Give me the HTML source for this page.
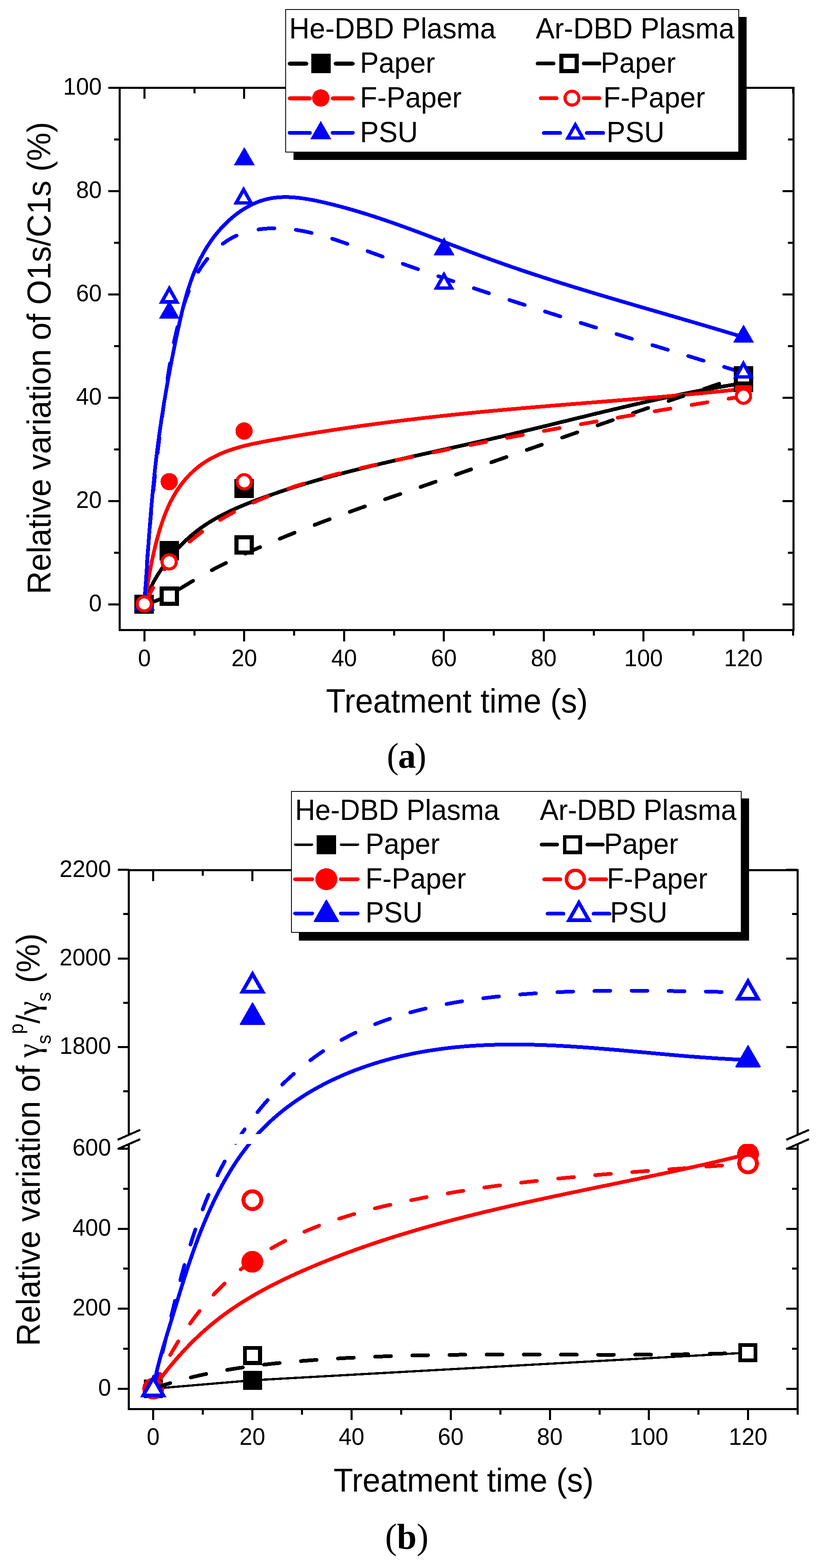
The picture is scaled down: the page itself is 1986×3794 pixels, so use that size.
<!DOCTYPE html>
<html><head><meta charset="utf-8"><title>Relative variation plots</title>
<style>html,body{margin:0;padding:0;background:#fff;}svg{display:block;}</style>
</head><body>
<svg width="1986" height="3794" viewBox="0 0 1986 3794" shape-rendering="crispEdges">
<rect width="1986" height="3794" fill="#fff"/>
<path d="M349.3,1462 C349.6,1461 350.4,1458.2 351,1456.3 C351.6,1454.4 352.2,1452.5 352.8,1450.6 C353.5,1448.7 354.1,1446.8 354.8,1445 C355.5,1443.1 356.2,1441.2 356.9,1439.4 C357.6,1437.5 358.4,1435.7 359.2,1433.8 C359.9,1432 360.7,1430.2 361.5,1428.4 C362.3,1426.5 363.2,1424.7 364,1422.9 C364.9,1421.1 365.8,1419.3 366.6,1417.6 C367.5,1415.8 368.4,1414 369.4,1412.2 C370.3,1410.4 371.2,1408.7 372.2,1406.9 C373.2,1405.2 374.2,1403.4 375.2,1401.7 C376.1,1400 377.2,1398.2 378.2,1396.5 C379.2,1394.8 380.3,1393.1 381.3,1391.3 C382.4,1389.6 383.5,1387.9 384.5,1386.2 C385.6,1384.5 386.7,1382.9 387.9,1381.2 C389,1379.5 390.1,1377.8 391.2,1376.2 C392.4,1374.5 393.5,1372.8 394.7,1371.2 C395.9,1369.5 397,1367.9 398.2,1366.2 C399.4,1364.6 400.6,1363 401.8,1361.3 C403,1359.7 404.3,1358.1 405.5,1356.5 C406.7,1354.9 408,1353.3 409.2,1351.7 C410.5,1350.1 411.8,1348.5 413,1347 C414.3,1345.4 415.6,1343.8 416.9,1342.3 C418.2,1340.7 419.5,1339.2 420.8,1337.6 C422.2,1336.1 423.5,1334.6 424.8,1333.1 C426.2,1331.6 427.5,1330 428.9,1328.6 C430.3,1327.1 431.7,1325.6 433,1324.1 C434.4,1322.6 435.8,1321.2 437.2,1319.7 C438.6,1318.3 440.1,1316.8 441.5,1315.4 C442.9,1314 444.4,1312.6 445.8,1311.2 C447.3,1309.8 448.7,1308.4 450.2,1307 C451.7,1305.6 453.2,1304.2 454.6,1302.9 C456.1,1301.5 457.6,1300.2 459.2,1298.9 C460.7,1297.5 462.2,1296.2 463.7,1294.9 C465.2,1293.6 466.8,1292.3 468.3,1291.1 C469.9,1289.8 471.4,1288.5 473,1287.3 C474.6,1286 476.2,1284.8 477.8,1283.6 C479.3,1282.4 480.9,1281.2 482.6,1280 C484.2,1278.8 485.8,1277.7 487.4,1276.5 C489,1275.3 490.7,1274.2 492.3,1273.1 C494,1271.9 495.6,1270.8 497.3,1269.7 C498.9,1268.6 500.6,1267.5 502.3,1266.5 C504,1265.4 505.6,1264.3 507.3,1263.3 C509,1262.2 510.7,1261.2 512.4,1260.2 C514.1,1259.1 515.9,1258.1 517.6,1257.1 C519.3,1256.1 521,1255.1 522.8,1254.1 C524.5,1253.2 526.2,1252.2 528,1251.2 C529.7,1250.3 531.5,1249.3 533.3,1248.4 C535,1247.5 536.8,1246.5 538.6,1245.6 C540.3,1244.7 542.1,1243.8 543.9,1242.9 C545.7,1242 547.5,1241.1 549.3,1240.2 C551.1,1239.4 552.9,1238.5 554.7,1237.6 C556.5,1236.8 558.3,1235.9 560.1,1235.1 C561.9,1234.2 563.8,1233.4 565.6,1232.6 C567.4,1231.8 569.2,1230.9 571.1,1230.1 C572.9,1229.3 574.7,1228.5 576.6,1227.7 C578.4,1226.9 580.3,1226.1 582.1,1225.4 C584,1224.6 585.8,1223.8 587.7,1223 C589.5,1222.3 591.4,1221.5 593.3,1220.7 C595.1,1220 597,1219.2 598.8,1218.5 C600.7,1217.8 602.6,1217 604.5,1216.3 C606.3,1215.5 608.2,1214.8 610.1,1214.1 C612,1213.4 613.8,1212.6 615.7,1211.9 C617.6,1211.2 619.5,1210.5 621.4,1209.8 C623.2,1209.1 625.1,1208.4 627,1207.7 C628.9,1207 630.8,1206.3 632.7,1205.6 C634.6,1204.9 636.4,1204.2 638.3,1203.5 C640.2,1202.9 642.1,1202.2 644,1201.5 C645.9,1200.8 647.8,1200.1 649.7,1199.5 C651.6,1198.8 653.5,1198.1 655.4,1197.5 C657.3,1196.8 659.2,1196.1 661.1,1195.5 C663,1194.8 664.9,1194.2 666.8,1193.5 C668.7,1192.9 670.6,1192.2 672.5,1191.6 C674.4,1190.9 676.3,1190.3 678.2,1189.6 C680.1,1189 682,1188.3 683.9,1187.7 C685.8,1187.1 687.7,1186.5 689.6,1185.8 C691.5,1185.2 693.4,1184.6 695.3,1183.9 C697.2,1183.3 699.1,1182.7 701.1,1182.1 C703,1181.5 704.9,1180.9 706.8,1180.3 C708.7,1179.6 710.6,1179 712.5,1178.4 C714.5,1177.8 716.4,1177.2 718.3,1176.6 C720.2,1176 722.1,1175.4 724,1174.8 C726,1174.2 727.9,1173.7 729.8,1173.1 C731.7,1172.5 733.6,1171.9 735.6,1171.3 C737.5,1170.7 739.4,1170.1 741.3,1169.6 C743.2,1169 745.2,1168.4 747.1,1167.8 C749,1167.3 750.9,1166.7 752.9,1166.1 C754.8,1165.6 756.7,1165 758.6,1164.4 C760.6,1163.9 762.5,1163.3 764.4,1162.8 C766.4,1162.2 768.3,1161.7 770.2,1161.1 C772.1,1160.5 774.1,1160 776,1159.4 C777.9,1158.9 779.9,1158.4 781.8,1157.8 C783.7,1157.3 785.7,1156.7 787.6,1156.2 C789.5,1155.6 791.5,1155.1 793.4,1154.6 C795.4,1154 797.3,1153.5 799.2,1153 C801.2,1152.4 803.1,1151.9 805,1151.4 C807,1150.9 808.9,1150.3 810.9,1149.8 C812.8,1149.3 814.7,1148.8 816.7,1148.3 C818.6,1147.7 820.6,1147.2 822.5,1146.7 C824.4,1146.2 826.4,1145.7 828.3,1145.2 C830.3,1144.7 832.2,1144.2 834.2,1143.7 C836.1,1143.1 838,1142.6 840,1142.1 C841.9,1141.6 843.9,1141.1 845.8,1140.6 C847.8,1140.1 849.7,1139.6 851.7,1139.1 C853.6,1138.6 855.6,1138.2 857.5,1137.7 C859.5,1137.2 861.4,1136.7 863.4,1136.2 C865.3,1135.7 867.3,1135.2 869.2,1134.7 C871.2,1134.2 873.1,1133.8 875.1,1133.3 C877,1132.8 879,1132.3 880.9,1131.8 C882.9,1131.3 884.8,1130.9 886.8,1130.4 C888.7,1129.9 890.7,1129.4 892.6,1129 C894.6,1128.5 896.5,1128 898.5,1127.5 C900.5,1127.1 902.4,1126.6 904.4,1126.1 C906.3,1125.7 908.3,1125.2 910.2,1124.7 C912.2,1124.3 914.1,1123.8 916.1,1123.3 C918.1,1122.9 920,1122.4 922,1121.9 C923.9,1121.5 925.9,1121 927.9,1120.6 C929.8,1120.1 931.8,1119.6 933.7,1119.2 C935.7,1118.7 937.6,1118.3 939.6,1117.8 C941.6,1117.4 943.5,1116.9 945.5,1116.5 C947.4,1116 949.4,1115.6 951.4,1115.1 C953.3,1114.6 955.3,1114.2 957.3,1113.7 C959.2,1113.3 961.2,1112.9 963.1,1112.4 C965.1,1112 967.1,1111.5 969,1111.1 C971,1110.6 972.9,1110.2 974.9,1109.7 C976.9,1109.3 978.8,1108.8 980.8,1108.4 C982.8,1107.9 984.7,1107.5 986.7,1107.1 C988.6,1106.6 990.6,1106.2 992.6,1105.7 C994.5,1105.3 996.5,1104.9 998.5,1104.4 C1000.4,1104 1002.4,1103.5 1004.4,1103.1 C1006.3,1102.7 1008.3,1102.2 1010.3,1101.8 C1012.2,1101.3 1014.2,1100.9 1016.1,1100.5 C1018.1,1100 1020.1,1099.6 1022,1099.2 C1024,1098.7 1026,1098.3 1027.9,1097.9 C1029.9,1097.4 1031.9,1097 1033.8,1096.6 C1035.8,1096.1 1037.8,1095.7 1039.7,1095.2 C1041.7,1094.8 1043.7,1094.4 1045.6,1093.9 C1047.6,1093.5 1049.6,1093.1 1051.5,1092.6 C1053.5,1092.2 1055.5,1091.8 1057.4,1091.3 C1059.4,1090.9 1061.3,1090.5 1063.3,1090 C1065.3,1089.6 1067.2,1089.2 1069.2,1088.7 C1071.2,1088.3 1073.1,1087.9 1075.1,1087.4 C1077.1,1087 1079,1086.6 1081,1086.1 C1083,1085.7 1084.9,1085.3 1086.9,1084.8 C1088.9,1084.4 1090.8,1084 1092.8,1083.5 C1094.8,1083.1 1096.7,1082.7 1098.7,1082.2 C1100.7,1081.8 1102.6,1081.4 1104.6,1080.9 C1106.5,1080.5 1108.5,1080.1 1110.5,1079.6 C1112.4,1079.2 1114.4,1078.8 1116.4,1078.3 C1118.3,1077.9 1120.3,1077.4 1122.3,1077 C1124.2,1076.6 1126.2,1076.1 1128.1,1075.7 C1130.1,1075.3 1132.1,1074.8 1134,1074.4 C1136,1073.9 1138,1073.5 1139.9,1073.1 C1141.9,1072.6 1143.9,1072.2 1145.8,1071.7 C1147.8,1071.3 1149.7,1070.8 1151.7,1070.4 C1153.7,1070 1155.6,1069.5 1157.6,1069.1 C1159.5,1068.6 1161.5,1068.2 1163.5,1067.7 C1165.4,1067.3 1167.4,1066.8 1169.3,1066.4 C1171.3,1066 1173.3,1065.5 1175.2,1065.1 C1177.2,1064.6 1179.1,1064.2 1181.1,1063.7 C1183.1,1063.3 1185,1062.8 1187,1062.4 C1188.9,1061.9 1190.9,1061.4 1192.9,1061 C1194.8,1060.5 1196.8,1060.1 1198.7,1059.6 C1200.7,1059.2 1202.6,1058.7 1204.6,1058.3 C1206.6,1057.8 1208.5,1057.3 1210.5,1056.9 C1212.4,1056.4 1214.4,1056 1216.3,1055.5 C1218.3,1055 1220.3,1054.6 1222.2,1054.1 C1224.2,1053.7 1226.1,1053.2 1228.1,1052.7 C1230,1052.3 1232,1051.8 1233.9,1051.3 C1235.9,1050.9 1237.8,1050.4 1239.8,1049.9 C1241.8,1049.5 1243.7,1049 1245.7,1048.5 C1247.6,1048.1 1249.6,1047.6 1251.5,1047.1 C1253.5,1046.7 1255.4,1046.2 1257.4,1045.7 C1259.3,1045.3 1261.3,1044.8 1263.2,1044.3 C1265.2,1043.9 1267.1,1043.4 1269.1,1042.9 C1271,1042.4 1273,1042 1274.9,1041.5 C1276.9,1041 1278.9,1040.6 1280.8,1040.1 C1282.8,1039.6 1284.7,1039.1 1286.7,1038.7 C1288.6,1038.2 1290.6,1037.7 1292.5,1037.2 C1294.5,1036.8 1296.4,1036.3 1298.4,1035.8 C1300.3,1035.3 1302.3,1034.9 1304.2,1034.4 C1306.2,1033.9 1308.1,1033.4 1310.1,1033 C1312,1032.5 1314,1032 1315.9,1031.5 C1317.9,1031.1 1319.8,1030.6 1321.8,1030.1 C1323.7,1029.6 1325.7,1029.2 1327.6,1028.7 C1329.6,1028.2 1331.5,1027.7 1333.5,1027.3 C1335.4,1026.8 1337.4,1026.3 1339.3,1025.8 C1341.3,1025.3 1343.2,1024.9 1345.2,1024.4 C1347.1,1023.9 1349.1,1023.4 1351,1023 C1352.9,1022.5 1354.9,1022 1356.8,1021.5 C1358.8,1021 1360.7,1020.6 1362.7,1020.1 C1364.6,1019.6 1366.6,1019.1 1368.5,1018.7 C1370.5,1018.2 1372.4,1017.7 1374.4,1017.2 C1376.3,1016.8 1378.3,1016.3 1380.2,1015.8 C1382.2,1015.3 1384.1,1014.8 1386.1,1014.4 C1388,1013.9 1390,1013.4 1391.9,1012.9 C1393.9,1012.5 1395.8,1012 1397.8,1011.5 C1399.7,1011 1401.7,1010.6 1403.6,1010.1 C1405.6,1009.6 1407.5,1009.1 1409.5,1008.7 C1411.4,1008.2 1413.4,1007.7 1415.3,1007.2 C1417.3,1006.8 1419.2,1006.3 1421.2,1005.8 C1423.1,1005.3 1425.1,1004.9 1427,1004.4 C1429,1003.9 1430.9,1003.4 1432.9,1003 C1434.8,1002.5 1436.8,1002 1438.7,1001.6 C1440.7,1001.1 1442.6,1000.6 1444.5,1000.1 C1446.5,999.7 1448.4,999.2 1450.4,998.7 C1452.3,998.3 1454.3,997.8 1456.2,997.3 C1458.2,996.9 1460.2,996.4 1462.1,995.9 C1464.1,995.5 1466,995 1468,994.5 C1469.9,994.1 1471.9,993.6 1473.8,993.1 C1475.8,992.7 1477.7,992.2 1479.7,991.7 C1481.6,991.3 1483.6,990.8 1485.5,990.3 C1487.5,989.9 1489.4,989.4 1491.4,989 C1493.3,988.5 1495.3,988 1497.2,987.6 C1499.2,987.1 1501.1,986.7 1503.1,986.2 C1505,985.7 1507,985.3 1508.9,984.8 C1510.9,984.4 1512.8,983.9 1514.8,983.5 C1516.8,983 1518.7,982.6 1520.7,982.1 C1522.6,981.6 1524.6,981.2 1526.5,980.7 C1528.5,980.3 1530.4,979.8 1532.4,979.4 C1534.3,978.9 1536.3,978.5 1538.3,978 C1540.2,977.6 1542.2,977.1 1544.1,976.7 C1546.1,976.3 1548,975.8 1550,975.4 C1551.9,974.9 1553.9,974.5 1555.9,974 C1557.8,973.6 1559.8,973.2 1561.7,972.7 C1563.7,972.3 1565.6,971.8 1567.6,971.4 C1569.6,971 1571.5,970.5 1573.5,970.1 C1575.4,969.7 1577.4,969.2 1579.3,968.8 C1581.3,968.4 1583.3,967.9 1585.2,967.5 C1587.2,967.1 1589.1,966.6 1591.1,966.2 C1593.1,965.8 1595,965.3 1597,964.9 C1598.9,964.5 1600.9,964.1 1602.9,963.6 C1604.8,963.2 1606.8,962.8 1608.8,962.4 C1610.7,962 1612.7,961.5 1614.6,961.1 C1616.6,960.7 1618.6,960.3 1620.5,959.9 C1622.5,959.5 1624.5,959 1626.4,958.6 C1628.4,958.2 1630.4,957.8 1632.3,957.4 C1634.3,957 1636.3,956.6 1638.2,956.2 C1640.2,955.8 1642.2,955.4 1644.1,955 C1646.1,954.5 1648.1,954.1 1650,953.7 C1652,953.3 1654,952.9 1655.9,952.5 C1657.9,952.1 1659.9,951.8 1661.8,951.4 C1663.8,951 1665.8,950.6 1667.7,950.2 C1669.7,949.8 1671.7,949.4 1673.7,949 C1675.6,948.6 1677.6,948.2 1679.6,947.8 C1681.5,947.5 1683.5,947.1 1685.5,946.7 C1687.5,946.3 1689.4,945.9 1691.4,945.6 C1693.4,945.2 1695.4,944.8 1697.3,944.4 C1699.3,944.1 1701.3,943.7 1703.3,943.3 C1705.2,942.9 1707.2,942.6 1709.2,942.2 C1711.2,941.8 1713.1,941.5 1715.1,941.1 C1717.1,940.7 1719.1,940.4 1721,940 C1723,939.7 1725,939.3 1727,938.9 C1729,938.6 1730.9,938.2 1732.9,937.9 C1734.9,937.5 1736.9,937.2 1738.9,936.8 C1740.9,936.5 1742.8,936.1 1744.8,935.8 C1746.8,935.4 1748.8,935.1 1750.8,934.8 C1752.8,934.4 1754.7,934.1 1756.7,933.7 C1758.7,933.4 1760.7,933.1 1762.7,932.7 C1764.7,932.4 1766.7,932.1 1768.6,931.8 C1770.6,931.4 1772.6,931.1 1774.6,930.8 C1776.6,930.5 1778.6,930.1 1780.6,929.8 C1782.6,929.5 1784.6,929.2 1786.5,928.9 C1788.5,928.5 1790.5,928.2 1792.5,927.9 C1794.5,927.6 1797.5,927.2 1798.5,927" fill="none" stroke="#000000" stroke-width="9" stroke-linecap="round" stroke-linejoin="round"/>
<path d="M349.3,1462 C349.5,1461 349.9,1458 350.2,1456 C350.5,1454.1 350.9,1452.1 351.2,1450.1 C351.5,1448.1 351.8,1446.1 352.1,1444.2 C352.4,1442.2 352.8,1440.2 353.1,1438.2 C353.4,1436.2 353.7,1434.3 354,1432.3 C354.3,1430.3 354.7,1428.3 355,1426.3 C355.3,1424.4 355.6,1422.4 356,1420.4 C356.3,1418.4 356.6,1416.5 357,1414.5 C357.3,1412.5 357.6,1410.5 358,1408.6 C358.3,1406.6 358.6,1404.6 359,1402.6 C359.3,1400.7 359.7,1398.7 360,1396.7 C360.4,1394.7 360.7,1392.8 361.1,1390.8 C361.4,1388.8 361.8,1386.9 362.2,1384.9 C362.5,1382.9 362.9,1381 363.3,1379 C363.6,1377 364,1375.1 364.4,1373.1 C364.8,1371.1 365.1,1369.2 365.5,1367.2 C365.9,1365.2 366.3,1363.3 366.7,1361.3 C367.1,1359.3 367.5,1357.4 367.9,1355.4 C368.3,1353.4 368.8,1351.5 369.2,1349.5 C369.6,1347.6 370,1345.6 370.4,1343.6 C370.9,1341.7 371.3,1339.7 371.8,1337.8 C372.2,1335.8 372.6,1333.8 373.1,1331.9 C373.6,1329.9 374,1328 374.5,1326 C375,1324.1 375.4,1322.1 375.9,1320.2 C376.4,1318.2 376.9,1316.3 377.4,1314.3 C377.9,1312.3 378.4,1310.4 378.9,1308.4 C379.4,1306.5 379.9,1304.5 380.4,1302.6 C381,1300.6 381.5,1298.7 382.1,1296.7 C382.6,1294.8 383.1,1292.8 383.7,1290.9 C384.3,1289 384.8,1287 385.4,1285.1 C386,1283.1 386.6,1281.2 387.2,1279.2 C387.8,1277.3 388.4,1275.4 389,1273.4 C389.6,1271.5 390.2,1269.6 390.9,1267.7 C391.5,1265.7 392.2,1263.8 392.8,1261.9 C393.5,1260 394.2,1258.1 394.8,1256.1 C395.5,1254.2 396.2,1252.3 396.9,1250.4 C397.6,1248.5 398.4,1246.7 399.1,1244.8 C399.8,1242.9 400.6,1241 401.3,1239.1 C402.1,1237.3 402.9,1235.4 403.7,1233.5 C404.5,1231.7 405.3,1229.8 406.1,1228 C406.9,1226.1 407.8,1224.3 408.6,1222.5 C409.5,1220.7 410.3,1218.8 411.2,1217 C412.1,1215.2 413,1213.4 413.9,1211.6 C414.8,1209.9 415.8,1208.1 416.7,1206.3 C417.7,1204.5 418.7,1202.8 419.6,1201 C420.6,1199.3 421.6,1197.6 422.7,1195.8 C423.7,1194.1 424.7,1192.4 425.8,1190.7 C426.9,1189 427.9,1187.3 429,1185.7 C430.1,1184 431.3,1182.3 432.4,1180.7 C433.5,1179 434.7,1177.4 435.9,1175.8 C437,1174.2 438.2,1172.6 439.4,1171 C440.7,1169.4 441.9,1167.8 443.1,1166.3 C444.4,1164.7 445.6,1163.2 446.9,1161.6 C448.2,1160.1 449.5,1158.6 450.8,1157.1 C452.1,1155.6 453.5,1154.2 454.8,1152.7 C456.2,1151.3 457.6,1149.8 459,1148.4 C460.3,1147 461.8,1145.6 463.2,1144.2 C464.6,1142.8 466,1141.5 467.5,1140.1 C469,1138.8 470.4,1137.5 471.9,1136.2 C473.4,1134.9 474.9,1133.6 476.5,1132.3 C478,1131.1 479.5,1129.8 481.1,1128.6 C482.7,1127.4 484.2,1126.2 485.8,1125 C487.4,1123.9 489,1122.7 490.7,1121.6 C492.3,1120.5 493.9,1119.4 495.6,1118.3 C497.2,1117.2 498.9,1116.1 500.6,1115.1 C502.3,1114.1 504,1113 505.7,1112 C507.4,1111 509.1,1110.1 510.9,1109.1 C512.6,1108.1 514.4,1107.2 516.1,1106.3 C517.9,1105.4 519.6,1104.5 521.4,1103.6 C523.2,1102.7 525,1101.9 526.8,1101 C528.6,1100.2 530.4,1099.4 532.2,1098.6 C534.1,1097.8 535.9,1097 537.7,1096.2 C539.6,1095.5 541.4,1094.7 543.3,1094 C545.1,1093.3 547,1092.6 548.9,1091.9 C550.7,1091.2 552.6,1090.5 554.5,1089.8 C556.4,1089.2 558.3,1088.5 560.2,1087.9 C562.1,1087.3 564,1086.6 565.9,1086 C567.8,1085.4 569.8,1084.8 571.7,1084.3 C573.6,1083.7 575.5,1083.1 577.5,1082.6 C579.4,1082 581.4,1081.5 583.3,1080.9 C585.3,1080.4 587.2,1079.9 589.2,1079.4 C591.1,1078.9 593.1,1078.4 595.1,1077.9 C597,1077.4 599,1076.9 601,1076.5 C603,1076 604.9,1075.5 606.9,1075.1 C608.9,1074.6 610.9,1074.2 612.9,1073.8 C614.9,1073.3 616.9,1072.9 618.9,1072.5 C620.9,1072.1 622.9,1071.7 624.9,1071.3 C626.9,1070.8 628.9,1070.4 630.9,1070.1 C632.9,1069.7 634.9,1069.3 636.9,1068.9 C638.9,1068.5 640.9,1068.1 642.9,1067.7 C644.9,1067.4 646.9,1067 648.9,1066.6 C650.9,1066.2 653,1065.9 655,1065.5 C657,1065.1 659,1064.8 661,1064.4 C663,1064.1 665,1063.7 667,1063.3 C669,1063 671,1062.6 673.1,1062.3 C675.1,1061.9 677.1,1061.5 679.1,1061.2 C681.1,1060.8 683.1,1060.5 685.1,1060.1 C687.1,1059.8 689.1,1059.4 691.1,1059.1 C693.1,1058.7 695.1,1058.4 697.1,1058 C699.1,1057.7 701.1,1057.3 703.1,1057 C705.1,1056.7 707.1,1056.3 709.1,1056 C711.1,1055.6 713.1,1055.3 715.1,1055 C717.1,1054.6 719.1,1054.3 721.1,1053.9 C723.1,1053.6 725.1,1053.3 727.1,1052.9 C729.1,1052.6 731.1,1052.3 733.1,1051.9 C735.1,1051.6 737.1,1051.3 739.1,1050.9 C741.1,1050.6 743.1,1050.3 745.1,1050 C747.1,1049.6 749.1,1049.3 751.1,1049 C753.1,1048.7 755.1,1048.3 757.1,1048 C759.1,1047.7 761.1,1047.4 763.1,1047.1 C765.1,1046.7 767.1,1046.4 769.1,1046.1 C771.1,1045.8 773.1,1045.5 775.1,1045.2 C777.1,1044.8 779.1,1044.5 781,1044.2 C783,1043.9 785,1043.6 787,1043.3 C789,1043 791,1042.7 793,1042.4 C795,1042.1 797,1041.8 799,1041.4 C801,1041.1 803,1040.8 804.9,1040.5 C806.9,1040.2 808.9,1039.9 810.9,1039.6 C812.9,1039.3 814.9,1039 816.9,1038.7 C818.9,1038.4 820.9,1038.1 822.9,1037.8 C824.8,1037.6 826.8,1037.3 828.8,1037 C830.8,1036.7 832.8,1036.4 834.8,1036.1 C836.8,1035.8 838.8,1035.5 840.8,1035.2 C842.7,1034.9 844.7,1034.6 846.7,1034.4 C848.7,1034.1 850.7,1033.8 852.7,1033.5 C854.7,1033.2 856.6,1032.9 858.6,1032.7 C860.6,1032.4 862.6,1032.1 864.6,1031.8 C866.6,1031.5 868.6,1031.3 870.6,1031 C872.5,1030.7 874.5,1030.4 876.5,1030.1 C878.5,1029.9 880.5,1029.6 882.5,1029.3 C884.5,1029 886.4,1028.8 888.4,1028.5 C890.4,1028.2 892.4,1028 894.4,1027.7 C896.4,1027.4 898.3,1027.2 900.3,1026.9 C902.3,1026.6 904.3,1026.4 906.3,1026.1 C908.3,1025.8 910.2,1025.6 912.2,1025.3 C914.2,1025 916.2,1024.8 918.2,1024.5 C920.2,1024.2 922.2,1024 924.1,1023.7 C926.1,1023.5 928.1,1023.2 930.1,1023 C932.1,1022.7 934.1,1022.4 936,1022.2 C938,1021.9 940,1021.7 942,1021.4 C944,1021.2 945.9,1020.9 947.9,1020.7 C949.9,1020.4 951.9,1020.2 953.9,1019.9 C955.9,1019.7 957.8,1019.4 959.8,1019.2 C961.8,1018.9 963.8,1018.7 965.8,1018.4 C967.8,1018.2 969.7,1017.9 971.7,1017.7 C973.7,1017.5 975.7,1017.2 977.7,1017 C979.7,1016.7 981.6,1016.5 983.6,1016.2 C985.6,1016 987.6,1015.8 989.6,1015.5 C991.6,1015.3 993.5,1015.1 995.5,1014.8 C997.5,1014.6 999.5,1014.3 1001.5,1014.1 C1003.4,1013.9 1005.4,1013.6 1007.4,1013.4 C1009.4,1013.2 1011.4,1012.9 1013.4,1012.7 C1015.3,1012.5 1017.3,1012.3 1019.3,1012 C1021.3,1011.8 1023.3,1011.6 1025.3,1011.3 C1027.2,1011.1 1029.2,1010.9 1031.2,1010.7 C1033.2,1010.4 1035.2,1010.2 1037.2,1010 C1039.1,1009.8 1041.1,1009.5 1043.1,1009.3 C1045.1,1009.1 1047.1,1008.9 1049.1,1008.7 C1051,1008.4 1053,1008.2 1055,1008 C1057,1007.8 1059,1007.6 1061,1007.3 C1063,1007.1 1064.9,1006.9 1066.9,1006.7 C1068.9,1006.5 1070.9,1006.3 1072.9,1006 C1074.9,1005.8 1076.8,1005.6 1078.8,1005.4 C1080.8,1005.2 1082.8,1005 1084.8,1004.8 C1086.8,1004.6 1088.8,1004.4 1090.7,1004.1 C1092.7,1003.9 1094.7,1003.7 1096.7,1003.5 C1098.7,1003.3 1100.7,1003.1 1102.7,1002.9 C1104.6,1002.7 1106.6,1002.5 1108.6,1002.3 C1110.6,1002.1 1112.6,1001.9 1114.6,1001.7 C1116.6,1001.5 1118.6,1001.3 1120.5,1001.1 C1122.5,1000.9 1124.5,1000.7 1126.5,1000.5 C1128.5,1000.3 1130.5,1000.1 1132.5,999.9 C1134.5,999.7 1136.5,999.5 1138.4,999.3 C1140.4,999.1 1142.4,998.9 1144.4,998.7 C1146.4,998.5 1148.4,998.3 1150.4,998.1 C1152.4,997.9 1154.4,997.7 1156.4,997.5 C1158.3,997.3 1160.3,997.1 1162.3,996.9 C1164.3,996.7 1166.3,996.5 1168.3,996.4 C1170.3,996.2 1172.3,996 1174.3,995.8 C1176.3,995.6 1178.3,995.4 1180.3,995.2 C1182.3,995 1184.3,994.8 1186.2,994.7 C1188.2,994.5 1190.2,994.3 1192.2,994.1 C1194.2,993.9 1196.2,993.7 1198.2,993.5 C1200.2,993.4 1202.2,993.2 1204.2,993 C1206.2,992.8 1208.2,992.6 1210.2,992.4 C1212.2,992.3 1214.2,992.1 1216.2,991.9 C1218.2,991.7 1220.2,991.5 1222.2,991.4 C1224.2,991.2 1226.2,991 1228.2,990.8 C1230.2,990.7 1232.2,990.5 1234.2,990.3 C1236.2,990.1 1238.2,989.9 1240.2,989.8 C1242.2,989.6 1244.2,989.4 1246.2,989.2 C1248.2,989.1 1250.2,988.9 1252.2,988.7 C1254.2,988.5 1256.2,988.4 1258.2,988.2 C1260.2,988 1262.2,987.8 1264.2,987.7 C1266.2,987.5 1268.2,987.3 1270.2,987.2 C1272.2,987 1274.2,986.8 1276.2,986.6 C1278.2,986.5 1280.2,986.3 1282.2,986.1 C1284.2,986 1286.2,985.8 1288.2,985.6 C1290.2,985.5 1292.2,985.3 1294.2,985.1 C1296.2,984.9 1298.2,984.8 1300.2,984.6 C1302.2,984.4 1304.2,984.3 1306.2,984.1 C1308.2,983.9 1310.2,983.8 1312.2,983.6 C1314.2,983.4 1316.2,983.3 1318.2,983.1 C1320.2,982.9 1322.2,982.8 1324.2,982.6 C1326.3,982.4 1328.3,982.3 1330.3,982.1 C1332.3,982 1334.3,981.8 1336.3,981.6 C1338.3,981.5 1340.3,981.3 1342.3,981.1 C1344.3,981 1346.3,980.8 1348.3,980.6 C1350.3,980.5 1352.3,980.3 1354.3,980.2 C1356.3,980 1358.3,979.8 1360.3,979.7 C1362.4,979.5 1364.4,979.3 1366.4,979.2 C1368.4,979 1370.4,978.9 1372.4,978.7 C1374.4,978.5 1376.4,978.4 1378.4,978.2 C1380.4,978 1382.4,977.9 1384.4,977.7 C1386.4,977.6 1388.4,977.4 1390.4,977.2 C1392.5,977.1 1394.5,976.9 1396.5,976.8 C1398.5,976.6 1400.5,976.4 1402.5,976.3 C1404.5,976.1 1406.5,976 1408.5,975.8 C1410.5,975.6 1412.5,975.5 1414.5,975.3 C1416.5,975.2 1418.6,975 1420.6,974.8 C1422.6,974.7 1424.6,974.5 1426.6,974.4 C1428.6,974.2 1430.6,974 1432.6,973.9 C1434.6,973.7 1436.6,973.6 1438.6,973.4 C1440.6,973.2 1442.6,973.1 1444.6,972.9 C1446.7,972.7 1448.7,972.6 1450.7,972.4 C1452.7,972.3 1454.7,972.1 1456.7,971.9 C1458.7,971.8 1460.7,971.6 1462.7,971.5 C1464.7,971.3 1466.7,971.1 1468.7,971 C1470.7,970.8 1472.8,970.7 1474.8,970.5 C1476.8,970.3 1478.8,970.2 1480.8,970 C1482.8,969.9 1484.8,969.7 1486.8,969.5 C1488.8,969.4 1490.8,969.2 1492.8,969 C1494.8,968.9 1496.8,968.7 1498.8,968.6 C1500.9,968.4 1502.9,968.2 1504.9,968.1 C1506.9,967.9 1508.9,967.8 1510.9,967.6 C1512.9,967.4 1514.9,967.3 1516.9,967.1 C1518.9,966.9 1520.9,966.8 1522.9,966.6 C1524.9,966.4 1526.9,966.3 1528.9,966.1 C1531,966 1533,965.8 1535,965.6 C1537,965.5 1539,965.3 1541,965.1 C1543,965 1545,964.8 1547,964.6 C1549,964.5 1551,964.3 1553,964.1 C1555,964 1557,963.8 1559,963.6 C1561,963.5 1563,963.3 1565,963.1 C1567.1,963 1569.1,962.8 1571.1,962.6 C1573.1,962.5 1575.1,962.3 1577.1,962.1 C1579.1,961.9 1581.1,961.8 1583.1,961.6 C1585.1,961.4 1587.1,961.3 1589.1,961.1 C1591.1,960.9 1593.1,960.8 1595.1,960.6 C1597.1,960.4 1599.1,960.2 1601.1,960.1 C1603.1,959.9 1605.1,959.7 1607.1,959.6 C1609.1,959.4 1611.1,959.2 1613.1,959 C1615.1,958.9 1617.1,958.7 1619.1,958.5 C1621.1,958.3 1623.1,958.2 1625.1,958 C1627.1,957.8 1629.1,957.6 1631.1,957.4 C1633.1,957.3 1635.1,957.1 1637.1,956.9 C1639.1,956.7 1641.1,956.6 1643.1,956.4 C1645.1,956.2 1647.1,956 1649.1,955.8 C1651.1,955.7 1653.1,955.5 1655.1,955.3 C1657.1,955.1 1659.1,954.9 1661.1,954.7 C1663.1,954.6 1665.1,954.4 1667.1,954.2 C1669.1,954 1671.1,953.8 1673.1,953.6 C1675.1,953.5 1677.1,953.3 1679.1,953.1 C1681.1,952.9 1683.1,952.7 1685.1,952.5 C1687.1,952.3 1689.1,952.1 1691.1,952 C1693.1,951.8 1695.1,951.6 1697.1,951.4 C1699.1,951.2 1701.1,951 1703.1,950.8 C1705,950.6 1707,950.4 1709,950.2 C1711,950 1713,949.9 1715,949.7 C1717,949.5 1719,949.3 1721,949.1 C1723,948.9 1725,948.7 1727,948.5 C1729,948.3 1730.9,948.1 1732.9,947.9 C1734.9,947.7 1736.9,947.5 1738.9,947.3 C1740.9,947.1 1742.9,946.9 1744.9,946.7 C1746.9,946.5 1748.9,946.3 1750.8,946.1 C1752.8,945.9 1754.8,945.7 1756.8,945.5 C1758.8,945.2 1760.8,945 1762.8,944.8 C1764.8,944.6 1766.7,944.4 1768.7,944.2 C1770.7,944 1772.7,943.8 1774.7,943.6 C1776.7,943.4 1778.7,943.2 1780.6,942.9 C1782.6,942.7 1784.6,942.5 1786.6,942.3 C1788.6,942.1 1790.6,941.9 1792.6,941.7 C1794.5,941.4 1797.5,941.1 1798.5,941" fill="none" stroke="#ff0000" stroke-width="9" stroke-linecap="round" stroke-linejoin="round"/>
<path d="M349.3,1462 C349.4,1461 349.6,1458 349.7,1456 C349.8,1454 350,1452 350.1,1450 C350.2,1448 350.4,1446 350.5,1444 C350.6,1442 350.8,1440 350.9,1438 C351,1436 351.2,1434 351.3,1432 C351.4,1430 351.6,1428 351.7,1426 C351.8,1424 352,1422 352.1,1420 C352.2,1417.9 352.4,1415.9 352.5,1413.9 C352.6,1411.9 352.8,1409.9 352.9,1407.9 C353,1405.9 353.2,1403.9 353.3,1401.9 C353.4,1399.9 353.6,1397.9 353.7,1395.9 C353.8,1393.9 354,1391.9 354.1,1389.9 C354.2,1387.9 354.4,1385.9 354.5,1383.9 C354.6,1381.9 354.8,1379.8 354.9,1377.8 C355,1375.8 355.2,1373.8 355.3,1371.8 C355.4,1369.8 355.6,1367.8 355.7,1365.8 C355.9,1363.8 356,1361.8 356.1,1359.8 C356.3,1357.8 356.4,1355.8 356.5,1353.8 C356.7,1351.8 356.8,1349.7 357,1347.7 C357.1,1345.7 357.2,1343.7 357.4,1341.7 C357.5,1339.7 357.6,1337.7 357.8,1335.7 C357.9,1333.7 358.1,1331.7 358.2,1329.7 C358.4,1327.7 358.5,1325.7 358.6,1323.7 C358.8,1321.6 358.9,1319.6 359.1,1317.6 C359.2,1315.6 359.4,1313.6 359.5,1311.6 C359.6,1309.6 359.8,1307.6 359.9,1305.6 C360.1,1303.6 360.2,1301.6 360.4,1299.6 C360.5,1297.6 360.7,1295.5 360.8,1293.5 C361,1291.5 361.1,1289.5 361.3,1287.5 C361.4,1285.5 361.6,1283.5 361.7,1281.5 C361.9,1279.5 362,1277.5 362.2,1275.5 C362.4,1273.5 362.5,1271.5 362.7,1269.5 C362.8,1267.5 363,1265.4 363.1,1263.4 C363.3,1261.4 363.5,1259.4 363.6,1257.4 C363.8,1255.4 363.9,1253.4 364.1,1251.4 C364.3,1249.4 364.4,1247.4 364.6,1245.4 C364.8,1243.4 364.9,1241.4 365.1,1239.4 C365.3,1237.4 365.4,1235.4 365.6,1233.4 C365.8,1231.3 365.9,1229.3 366.1,1227.3 C366.3,1225.3 366.5,1223.3 366.6,1221.3 C366.8,1219.3 367,1217.3 367.2,1215.3 C367.3,1213.3 367.5,1211.3 367.7,1209.3 C367.9,1207.3 368.1,1205.3 368.2,1203.3 C368.4,1201.3 368.6,1199.3 368.8,1197.3 C369,1195.3 369.2,1193.3 369.3,1191.3 C369.5,1189.3 369.7,1187.3 369.9,1185.3 C370.1,1183.3 370.3,1181.3 370.5,1179.3 C370.7,1177.3 370.9,1175.3 371.1,1173.3 C371.3,1171.3 371.5,1169.3 371.7,1167.3 C371.9,1165.3 372.1,1163.3 372.3,1161.3 C372.5,1159.3 372.7,1157.3 372.9,1155.3 C373.1,1153.3 373.3,1151.3 373.5,1149.3 C373.7,1147.3 373.9,1145.3 374.1,1143.3 C374.4,1141.3 374.6,1139.3 374.8,1137.3 C375,1135.3 375.2,1133.3 375.4,1131.3 C375.7,1129.3 375.9,1127.3 376.1,1125.3 C376.3,1123.3 376.6,1121.3 376.8,1119.3 C377,1117.3 377.3,1115.4 377.5,1113.4 C377.7,1111.4 377.9,1109.4 378.2,1107.4 C378.4,1105.4 378.7,1103.4 378.9,1101.4 C379.1,1099.4 379.4,1097.4 379.6,1095.4 C379.9,1093.4 380.1,1091.5 380.4,1089.5 C380.6,1087.5 380.9,1085.5 381.1,1083.5 C381.4,1081.5 381.6,1079.5 381.9,1077.5 C382.1,1075.5 382.4,1073.6 382.6,1071.6 C382.9,1069.6 383.2,1067.6 383.4,1065.6 C383.7,1063.6 384,1061.6 384.2,1059.7 C384.5,1057.7 384.8,1055.7 385,1053.7 C385.3,1051.7 385.6,1049.7 385.9,1047.7 C386.1,1045.8 386.4,1043.8 386.7,1041.8 C387,1039.8 387.3,1037.8 387.5,1035.8 C387.8,1033.9 388.1,1031.9 388.4,1029.9 C388.7,1027.9 389,1025.9 389.3,1024 C389.6,1022 389.8,1020 390.1,1018 C390.4,1016 390.7,1014 391,1012.1 C391.3,1010.1 391.6,1008.1 391.9,1006.1 C392.2,1004.2 392.5,1002.2 392.8,1000.2 C393.2,998.2 393.5,996.2 393.8,994.3 C394.1,992.3 394.4,990.3 394.7,988.3 C395,986.3 395.3,984.4 395.7,982.4 C396,980.4 396.3,978.4 396.6,976.5 C396.9,974.5 397.3,972.5 397.6,970.5 C397.9,968.6 398.2,966.6 398.6,964.6 C398.9,962.6 399.2,960.7 399.6,958.7 C399.9,956.7 400.2,954.7 400.6,952.7 C400.9,950.8 401.2,948.8 401.6,946.8 C401.9,944.9 402.3,942.9 402.6,940.9 C402.9,938.9 403.3,937 403.6,935 C404,933 404.3,931 404.7,929.1 C405,927.1 405.4,925.1 405.7,923.1 C406.1,921.2 406.5,919.2 406.8,917.2 C407.2,915.2 407.5,913.3 407.9,911.3 C408.2,909.3 408.6,907.3 409,905.4 C409.3,903.4 409.7,901.4 410.1,899.5 C410.4,897.5 410.8,895.5 411.2,893.5 C411.6,891.6 411.9,889.6 412.3,887.6 C412.7,885.7 413.1,883.7 413.4,881.7 C413.8,879.7 414.2,877.8 414.6,875.8 C415,873.8 415.3,871.8 415.7,869.9 C416.1,867.9 416.5,865.9 416.9,864 C417.3,862 417.7,860 418.1,858 C418.5,856.1 418.8,854.1 419.2,852.1 C419.6,850.2 420,848.2 420.4,846.2 C420.8,844.2 421.2,842.3 421.6,840.3 C422,838.3 422.4,836.3 422.8,834.4 C423.3,832.4 423.7,830.4 424.1,828.5 C424.5,826.5 424.9,824.5 425.3,822.5 C425.7,820.6 426.1,818.6 426.5,816.6 C427,814.7 427.4,812.7 427.8,810.7 C428.2,808.7 428.6,806.8 429,804.8 C429.5,802.8 429.9,800.8 430.3,798.9 C430.7,796.9 431.2,794.9 431.6,792.9 C432,791 432.5,789 432.9,787 C433.3,785.1 433.8,783.1 434.2,781.1 C434.6,779.1 435.1,777.2 435.5,775.2 C436,773.2 436.4,771.3 436.9,769.3 C437.3,767.3 437.8,765.4 438.2,763.4 C438.7,761.4 439.2,759.5 439.6,757.5 C440.1,755.5 440.6,753.6 441,751.6 C441.5,749.6 442,747.7 442.5,745.7 C443,743.8 443.5,741.8 444,739.9 C444.5,737.9 445,736 445.5,734 C446,732.1 446.5,730.1 447,728.2 C447.6,726.2 448.1,724.3 448.6,722.4 C449.2,720.4 449.7,718.5 450.3,716.5 C450.8,714.6 451.4,712.7 451.9,710.8 C452.5,708.8 453.1,706.9 453.7,705 C454.3,703.1 454.8,701.1 455.4,699.2 C456,697.3 456.7,695.4 457.3,693.5 C457.9,691.6 458.5,689.7 459.2,687.8 C459.8,685.9 460.4,684 461.1,682.1 C461.8,680.2 462.4,678.3 463.1,676.5 C463.8,674.6 464.5,672.7 465.2,670.8 C465.9,669 466.6,667.1 467.3,665.2 C468,663.4 468.7,661.5 469.5,659.6 C470.2,657.8 471,655.9 471.8,654.1 C472.5,652.3 473.3,650.4 474.1,648.6 C474.9,646.8 475.7,644.9 476.5,643.1 C477.3,641.3 478.2,639.5 479,637.7 C479.8,635.9 480.7,634.1 481.6,632.3 C482.4,630.5 483.3,628.7 484.2,626.9 C485.1,625.1 486,623.3 487,621.6 C487.9,619.8 488.8,618 489.8,616.3 C490.7,614.5 491.7,612.8 492.7,611 C493.7,609.3 494.7,607.5 495.7,605.8 C496.7,604.1 497.8,602.3 498.8,600.6 C499.9,598.9 500.9,597.2 502,595.5 C503.1,593.8 504.2,592.1 505.3,590.4 C506.4,588.8 507.6,587.1 508.7,585.4 C509.9,583.7 511,582.1 512.2,580.4 C513.4,578.8 514.6,577.1 515.8,575.5 C517,573.9 518.3,572.2 519.5,570.6 C520.8,569 522.1,567.4 523.4,565.8 C524.6,564.2 526,562.6 527.3,561.1 C528.6,559.5 529.9,557.9 531.3,556.4 C532.6,554.9 534,553.3 535.4,551.8 C536.8,550.3 538.2,548.8 539.6,547.3 C541,545.8 542.5,544.3 543.9,542.9 C545.3,541.4 546.8,540 548.3,538.6 C549.8,537.1 551.2,535.7 552.8,534.3 C554.3,532.9 555.8,531.6 557.3,530.2 C558.8,528.9 560.4,527.5 561.9,526.2 C563.5,524.9 565.1,523.6 566.7,522.3 C568.2,521.1 569.8,519.8 571.5,518.6 C573.1,517.3 574.7,516.1 576.3,514.9 C578,513.7 579.6,512.6 581.3,511.4 C582.9,510.3 584.6,509.2 586.3,508.1 C588,507 589.7,505.9 591.4,504.9 C593.1,503.8 594.8,502.8 596.5,501.8 C598.3,500.8 600,499.8 601.8,498.9 C603.5,497.9 605.3,497 607.1,496.1 C608.8,495.2 610.6,494.4 612.4,493.5 C614.2,492.7 616,491.9 617.8,491.1 C619.6,490.4 621.4,489.6 623.3,488.9 C625.1,488.2 626.9,487.5 628.8,486.8 C630.6,486.2 632.5,485.6 634.4,485 C636.2,484.4 638.1,483.8 640,483.3 C641.9,482.8 643.8,482.3 645.7,481.8 C647.5,481.4 649.5,481 651.4,480.6 C653.3,480.2 655.2,479.8 657.1,479.5 C659.1,479.2 661,478.9 662.9,478.6 C664.9,478.4 666.8,478.2 668.8,478 C670.7,477.8 672.7,477.6 674.6,477.4 C676.6,477.3 678.6,477.2 680.6,477.1 C682.5,477 684.5,477 686.5,476.9 C688.5,476.9 690.5,476.9 692.5,476.9 C694.5,476.9 696.5,477 698.5,477 C700.5,477.1 702.5,477.2 704.5,477.3 C706.5,477.4 708.5,477.5 710.5,477.7 C712.5,477.8 714.5,478 716.5,478.2 C718.6,478.4 720.6,478.6 722.6,478.8 C724.6,479 726.7,479.3 728.7,479.5 C730.7,479.8 732.7,480.1 734.8,480.4 C736.8,480.7 738.8,481 740.8,481.3 C742.9,481.6 744.9,482 746.9,482.3 C749,482.7 751,483.1 753,483.4 C755.1,483.8 757.1,484.2 759.1,484.6 C761.1,485 763.2,485.4 765.2,485.8 C767.2,486.3 769.2,486.7 771.3,487.1 C773.3,487.6 775.3,488 777.3,488.5 C779.4,488.9 781.4,489.4 783.4,489.8 C785.4,490.3 787.4,490.8 789.4,491.2 C791.4,491.7 793.4,492.2 795.4,492.7 C797.4,493.2 799.4,493.7 801.4,494.2 C803.4,494.6 805.4,495.1 807.4,495.6 C809.4,496.1 811.4,496.7 813.4,497.2 C815.4,497.7 817.3,498.2 819.3,498.7 C821.3,499.2 823.3,499.7 825.2,500.3 C827.2,500.8 829.2,501.3 831.2,501.9 C833.1,502.4 835.1,502.9 837.1,503.5 C839,504 841,504.6 842.9,505.1 C844.9,505.7 846.8,506.2 848.8,506.8 C850.8,507.4 852.7,507.9 854.7,508.5 C856.6,509 858.5,509.6 860.5,510.2 C862.4,510.8 864.4,511.3 866.3,511.9 C868.3,512.5 870.2,513.1 872.1,513.7 C874.1,514.3 876,514.8 877.9,515.4 C879.9,516 881.8,516.6 883.7,517.2 C885.6,517.8 887.6,518.4 889.5,519 C891.4,519.6 893.3,520.2 895.2,520.9 C897.2,521.5 899.1,522.1 901,522.7 C902.9,523.3 904.8,523.9 906.7,524.6 C908.6,525.2 910.5,525.8 912.4,526.4 C914.4,527.1 916.3,527.7 918.2,528.3 C920.1,529 922,529.6 923.9,530.3 C925.8,530.9 927.7,531.5 929.6,532.2 C931.5,532.8 933.4,533.5 935.2,534.1 C937.1,534.8 939,535.4 940.9,536.1 C942.8,536.7 944.7,537.4 946.6,538 C948.5,538.7 950.4,539.4 952.3,540 C954.1,540.7 956,541.4 957.9,542 C959.8,542.7 961.7,543.4 963.5,544 C965.4,544.7 967.3,545.4 969.2,546 C971.1,546.7 972.9,547.4 974.8,548.1 C976.7,548.8 978.6,549.4 980.4,550.1 C982.3,550.8 984.2,551.5 986.1,552.2 C987.9,552.8 989.8,553.5 991.7,554.2 C993.5,554.9 995.4,555.6 997.3,556.3 C999.1,557 1001,557.7 1002.9,558.4 C1004.7,559.1 1006.6,559.8 1008.5,560.4 C1010.3,561.1 1012.2,561.8 1014.1,562.5 C1015.9,563.2 1017.8,563.9 1019.6,564.6 C1021.5,565.3 1023.4,566 1025.2,566.7 C1027.1,567.4 1028.9,568.1 1030.8,568.8 C1032.7,569.5 1034.5,570.3 1036.4,571 C1038.2,571.7 1040.1,572.4 1042,573.1 C1043.8,573.8 1045.7,574.5 1047.5,575.2 C1049.4,575.9 1051.2,576.6 1053.1,577.3 C1055,578 1056.8,578.7 1058.7,579.4 C1060.5,580.2 1062.4,580.9 1064.2,581.6 C1066.1,582.3 1067.9,583 1069.8,583.7 C1071.7,584.4 1073.5,585.1 1075.4,585.8 C1077.2,586.6 1079.1,587.3 1080.9,588 C1082.8,588.7 1084.6,589.4 1086.5,590.1 C1088.4,590.8 1090.2,591.5 1092.1,592.2 C1093.9,593 1095.8,593.7 1097.6,594.4 C1099.5,595.1 1101.4,595.8 1103.2,596.5 C1105.1,597.2 1106.9,597.9 1108.8,598.6 C1110.6,599.3 1112.5,600 1114.4,600.8 C1116.2,601.5 1118.1,602.2 1119.9,602.9 C1121.8,603.6 1123.7,604.3 1125.5,605 C1127.4,605.7 1129.2,606.4 1131.1,607.1 C1133,607.8 1134.8,608.5 1136.7,609.2 C1138.5,609.9 1140.4,610.6 1142.3,611.3 C1144.1,612 1146,612.7 1147.9,613.4 C1149.7,614.1 1151.6,614.8 1153.5,615.5 C1155.3,616.2 1157.2,616.9 1159.1,617.6 C1160.9,618.3 1162.8,619 1164.7,619.7 C1166.5,620.4 1168.4,621.1 1170.3,621.7 C1172.2,622.4 1174,623.1 1175.9,623.8 C1177.8,624.5 1179.7,625.2 1181.5,625.9 C1183.4,626.5 1185.3,627.2 1187.2,627.9 C1189.1,628.6 1190.9,629.3 1192.8,629.9 C1194.7,630.6 1196.6,631.3 1198.5,632 C1200.4,632.6 1202.2,633.3 1204.1,634 C1206,634.6 1207.9,635.3 1209.8,636 C1211.7,636.6 1213.6,637.3 1215.5,638 C1217.3,638.6 1219.2,639.3 1221.1,640 C1223,640.6 1224.9,641.3 1226.8,641.9 C1228.7,642.6 1230.6,643.3 1232.5,643.9 C1234.4,644.6 1236.3,645.2 1238.2,645.9 C1240.1,646.5 1242,647.2 1243.9,647.8 C1245.8,648.5 1247.7,649.1 1249.6,649.8 C1251.5,650.4 1253.4,651.1 1255.3,651.7 C1257.2,652.4 1259.1,653 1261,653.6 C1262.9,654.3 1264.8,654.9 1266.7,655.6 C1268.6,656.2 1270.5,656.8 1272.4,657.5 C1274.3,658.1 1276.3,658.8 1278.2,659.4 C1280.1,660 1282,660.7 1283.9,661.3 C1285.8,661.9 1287.7,662.6 1289.6,663.2 C1291.5,663.8 1293.5,664.4 1295.4,665.1 C1297.3,665.7 1299.2,666.3 1301.1,666.9 C1303,667.6 1304.9,668.2 1306.9,668.8 C1308.8,669.4 1310.7,670.1 1312.6,670.7 C1314.5,671.3 1316.5,671.9 1318.4,672.5 C1320.3,673.2 1322.2,673.8 1324.1,674.4 C1326.1,675 1328,675.6 1329.9,676.2 C1331.8,676.9 1333.8,677.5 1335.7,678.1 C1337.6,678.7 1339.5,679.3 1341.4,679.9 C1343.4,680.5 1345.3,681.1 1347.2,681.7 C1349.1,682.3 1351.1,683 1353,683.6 C1354.9,684.2 1356.9,684.8 1358.8,685.4 C1360.7,686 1362.6,686.6 1364.6,687.2 C1366.5,687.8 1368.4,688.4 1370.4,689 C1372.3,689.6 1374.2,690.2 1376.2,690.8 C1378.1,691.4 1380,692 1381.9,692.6 C1383.9,693.2 1385.8,693.8 1387.7,694.4 C1389.7,695 1391.6,695.6 1393.5,696.2 C1395.5,696.8 1397.4,697.3 1399.3,697.9 C1401.3,698.5 1403.2,699.1 1405.1,699.7 C1407.1,700.3 1409,700.9 1411,701.5 C1412.9,702.1 1414.8,702.7 1416.8,703.2 C1418.7,703.8 1420.6,704.4 1422.6,705 C1424.5,705.6 1426.4,706.2 1428.4,706.8 C1430.3,707.3 1432.3,707.9 1434.2,708.5 C1436.1,709.1 1438.1,709.7 1440,710.3 C1441.9,710.8 1443.9,711.4 1445.8,712 C1447.8,712.6 1449.7,713.2 1451.6,713.8 C1453.6,714.3 1455.5,714.9 1457.5,715.5 C1459.4,716.1 1461.3,716.6 1463.3,717.2 C1465.2,717.8 1467.2,718.4 1469.1,719 C1471,719.5 1473,720.1 1474.9,720.7 C1476.9,721.3 1478.8,721.8 1480.7,722.4 C1482.7,723 1484.6,723.5 1486.6,724.1 C1488.5,724.7 1490.4,725.3 1492.4,725.8 C1494.3,726.4 1496.3,727 1498.2,727.6 C1500.2,728.1 1502.1,728.7 1504,729.3 C1506,729.8 1507.9,730.4 1509.9,731 C1511.8,731.5 1513.7,732.1 1515.7,732.7 C1517.6,733.3 1519.6,733.8 1521.5,734.4 C1523.4,735 1525.4,735.5 1527.3,736.1 C1529.3,736.7 1531.2,737.2 1533.1,737.8 C1535.1,738.4 1537,738.9 1539,739.5 C1540.9,740.1 1542.9,740.6 1544.8,741.2 C1546.7,741.8 1548.7,742.3 1550.6,742.9 C1552.6,743.5 1554.5,744 1556.4,744.6 C1558.4,745.1 1560.3,745.7 1562.3,746.3 C1564.2,746.8 1566.1,747.4 1568.1,748 C1570,748.5 1571.9,749.1 1573.9,749.7 C1575.8,750.2 1577.8,750.8 1579.7,751.3 C1581.6,751.9 1583.6,752.5 1585.5,753 C1587.5,753.6 1589.4,754.2 1591.3,754.7 C1593.3,755.3 1595.2,755.8 1597.1,756.4 C1599.1,757 1601,757.5 1602.9,758.1 C1604.9,758.7 1606.8,759.2 1608.8,759.8 C1610.7,760.3 1612.6,760.9 1614.6,761.5 C1616.5,762 1618.4,762.6 1620.4,763.2 C1622.3,763.7 1624.2,764.3 1626.2,764.8 C1628.1,765.4 1630,766 1632,766.5 C1633.9,767.1 1635.8,767.6 1637.8,768.2 C1639.7,768.8 1641.6,769.3 1643.5,769.9 C1645.5,770.5 1647.4,771 1649.3,771.6 C1651.3,772.1 1653.2,772.7 1655.1,773.3 C1657,773.8 1659,774.4 1660.9,775 C1662.8,775.5 1664.8,776.1 1666.7,776.6 C1668.6,777.2 1670.5,777.8 1672.5,778.3 C1674.4,778.9 1676.3,779.5 1678.2,780 C1680.2,780.6 1682.1,781.2 1684,781.7 C1685.9,782.3 1687.9,782.8 1689.8,783.4 C1691.7,784 1693.6,784.5 1695.5,785.1 C1697.5,785.7 1699.4,786.2 1701.3,786.8 C1703.2,787.4 1705.1,787.9 1707.1,788.5 C1709,789.1 1710.9,789.6 1712.8,790.2 C1714.7,790.8 1716.6,791.3 1718.5,791.9 C1720.5,792.5 1722.4,793 1724.3,793.6 C1726.2,794.2 1728.1,794.7 1730,795.3 C1731.9,795.9 1733.9,796.5 1735.8,797 C1737.7,797.6 1739.6,798.2 1741.5,798.7 C1743.4,799.3 1745.3,799.9 1747.2,800.4 C1749.1,801 1751,801.6 1752.9,802.2 C1754.8,802.7 1756.7,803.3 1758.7,803.9 C1760.6,804.5 1762.5,805 1764.4,805.6 C1766.3,806.2 1768.2,806.8 1770.1,807.3 C1772,807.9 1773.9,808.5 1775.8,809.1 C1777.7,809.6 1779.6,810.2 1781.5,810.8 C1783.4,811.4 1785.2,811.9 1787.1,812.5 C1789,813.1 1790.9,813.7 1792.8,814.3 C1794.7,814.8 1797.6,815.7 1798.5,816" fill="none" stroke="#0000ff" stroke-width="9" stroke-linecap="round" stroke-linejoin="round"/>
<rect x="325.1" y="1438.7" width="46.5" height="46.5" fill="#000000"/>
<rect x="386.1" y="1309" width="46.5" height="46.5" fill="#000000"/>
<rect x="567.2" y="1158.8" width="46.5" height="46.5" fill="#000000"/>
<rect x="1775.2" y="902" width="46.5" height="46.5" fill="#000000"/>
<circle cx="349.3" cy="1461.5" r="20.9" fill="#ff0000"/>
<circle cx="409.3" cy="1165.4" r="20.9" fill="#ff0000"/>
<circle cx="590.4" cy="1043" r="20.9" fill="#ff0000"/>
<circle cx="1798.5" cy="940.3" r="20.9" fill="#ff0000"/>
<polygon points="349.3,1432.8 374.6,1476.6 324,1476.6" fill="#0000ff"/>
<polygon points="409.6,727.6 434.9,771.4 384.3,771.4" fill="#0000ff"/>
<polygon points="591,355.9 616.3,399.7 565.7,399.7" fill="#0000ff"/>
<polygon points="1074.2,573.8 1099.5,617.6 1048.9,617.6" fill="#0000ff"/>
<polygon points="1798.7,785.3 1824,829.1 1773.4,829.1" fill="#0000ff"/>
<path d="M349.3,1462 C350.3,1461.8 353.3,1461.1 355.3,1460.6 C357.2,1460.2 359.2,1459.6 361.1,1459.1 C363.1,1458.5 365,1458 366.9,1457.4 C368.8,1456.8 370.7,1456.1 372.6,1455.5 C374.5,1454.8 376.4,1454.1 378.3,1453.4 C380.1,1452.7 382,1452 383.8,1451.2 C385.7,1450.5 387.5,1449.7 389.3,1448.9 C391.1,1448.1 393,1447.3 394.8,1446.5 C396.6,1445.6 398.4,1444.8 400.1,1443.9 C401.9,1443 403.7,1442.1 405.5,1441.2 C407.3,1440.3 409,1439.4 410.8,1438.5 C412.5,1437.5 414.3,1436.6 416,1435.6 C417.8,1434.6 419.5,1433.7 421.2,1432.7 C423,1431.7 424.7,1430.7 426.4,1429.7 C428.2,1428.7 429.9,1427.7 431.6,1426.7 C433.3,1425.7 435,1424.6 436.8,1423.6 C438.5,1422.6 440.2,1421.6 441.9,1420.5 C443.6,1419.5 445.3,1418.4 447,1417.4 C448.7,1416.4 450.4,1415.3 452.2,1414.3 C453.9,1413.2 455.6,1412.2 457.3,1411.1 C459,1410.1 460.7,1409.1 462.4,1408 C464.1,1407 465.9,1406 467.6,1404.9 C469.3,1403.9 471,1402.9 472.8,1401.9 C474.5,1400.9 476.2,1399.9 478,1398.8 C479.7,1397.8 481.4,1396.8 483.2,1395.8 C484.9,1394.8 486.6,1393.9 488.4,1392.9 C490.1,1391.9 491.9,1390.9 493.6,1389.9 C495.4,1389 497.1,1388 498.9,1387 C500.6,1386 502.4,1385.1 504.2,1384.1 C505.9,1383.2 507.7,1382.2 509.5,1381.3 C511.2,1380.3 513,1379.4 514.8,1378.4 C516.5,1377.5 518.3,1376.6 520.1,1375.6 C521.9,1374.7 523.6,1373.8 525.4,1372.8 C527.2,1371.9 529,1371 530.8,1370.1 C532.5,1369.2 534.3,1368.3 536.1,1367.4 C537.9,1366.4 539.7,1365.5 541.5,1364.6 C543.3,1363.7 545.1,1362.9 546.9,1362 C548.7,1361.1 550.5,1360.2 552.3,1359.3 C554.1,1358.4 555.9,1357.5 557.7,1356.7 C559.5,1355.8 561.3,1354.9 563.1,1354 C564.9,1353.2 566.7,1352.3 568.5,1351.4 C570.4,1350.6 572.2,1349.7 574,1348.8 C575.8,1348 577.6,1347.1 579.4,1346.3 C581.2,1345.4 583.1,1344.6 584.9,1343.7 C586.7,1342.9 588.5,1342.1 590.4,1341.2 C592.2,1340.4 594,1339.5 595.8,1338.7 C597.7,1337.9 599.5,1337 601.3,1336.2 C603.2,1335.4 605,1334.6 606.8,1333.7 C608.6,1332.9 610.5,1332.1 612.3,1331.3 C614.1,1330.5 616,1329.6 617.8,1328.8 C619.7,1328 621.5,1327.2 623.3,1326.4 C625.2,1325.6 627,1324.8 628.9,1324 C630.7,1323.2 632.5,1322.4 634.4,1321.6 C636.2,1320.8 638.1,1320 639.9,1319.2 C641.8,1318.4 643.6,1317.6 645.4,1316.8 C647.3,1316 649.1,1315.2 651,1314.4 C652.8,1313.7 654.7,1312.9 656.5,1312.1 C658.4,1311.3 660.2,1310.5 662.1,1309.7 C663.9,1309 665.8,1308.2 667.6,1307.4 C669.5,1306.6 671.3,1305.9 673.2,1305.1 C675,1304.3 676.9,1303.6 678.8,1302.8 C680.6,1302 682.5,1301.3 684.3,1300.5 C686.2,1299.7 688,1299 689.9,1298.2 C691.8,1297.4 693.6,1296.7 695.5,1295.9 C697.3,1295.2 699.2,1294.4 701.1,1293.7 C702.9,1292.9 704.8,1292.2 706.7,1291.4 C708.5,1290.7 710.4,1289.9 712.2,1289.2 C714.1,1288.4 716,1287.7 717.8,1286.9 C719.7,1286.2 721.6,1285.5 723.4,1284.7 C725.3,1284 727.2,1283.2 729,1282.5 C730.9,1281.8 732.8,1281 734.6,1280.3 C736.5,1279.6 738.4,1278.8 740.3,1278.1 C742.1,1277.4 744,1276.7 745.9,1275.9 C747.7,1275.2 749.6,1274.5 751.5,1273.8 C753.4,1273 755.2,1272.3 757.1,1271.6 C759,1270.9 760.9,1270.2 762.7,1269.4 C764.6,1268.7 766.5,1268 768.4,1267.3 C770.3,1266.6 772.1,1265.9 774,1265.1 C775.9,1264.4 777.8,1263.7 779.6,1263 C781.5,1262.3 783.4,1261.6 785.3,1260.9 C787.2,1260.2 789,1259.5 790.9,1258.8 C792.8,1258.1 794.7,1257.4 796.6,1256.7 C798.5,1256 800.3,1255.3 802.2,1254.6 C804.1,1253.9 806,1253.2 807.9,1252.5 C809.8,1251.8 811.6,1251.1 813.5,1250.4 C815.4,1249.7 817.3,1249 819.2,1248.3 C821.1,1247.6 822.9,1246.9 824.8,1246.2 C826.7,1245.5 828.6,1244.8 830.5,1244.1 C832.4,1243.5 834.3,1242.8 836.2,1242.1 C838,1241.4 839.9,1240.7 841.8,1240 C843.7,1239.3 845.6,1238.6 847.5,1238 C849.4,1237.3 851.3,1236.6 853.2,1235.9 C855.1,1235.2 856.9,1234.6 858.8,1233.9 C860.7,1233.2 862.6,1232.5 864.5,1231.8 C866.4,1231.2 868.3,1230.5 870.2,1229.8 C872.1,1229.1 874,1228.5 875.9,1227.8 C877.8,1227.1 879.7,1226.4 881.5,1225.8 C883.4,1225.1 885.3,1224.4 887.2,1223.7 C889.1,1223.1 891,1222.4 892.9,1221.7 C894.8,1221 896.7,1220.4 898.6,1219.7 C900.5,1219 902.4,1218.4 904.3,1217.7 C906.2,1217 908.1,1216.4 910,1215.7 C911.9,1215 913.8,1214.4 915.7,1213.7 C917.5,1213 919.4,1212.4 921.3,1211.7 C923.2,1211 925.1,1210.4 927,1209.7 C928.9,1209 930.8,1208.4 932.7,1207.7 C934.6,1207 936.5,1206.4 938.4,1205.7 C940.3,1205.1 942.2,1204.4 944.1,1203.7 C946,1203.1 947.9,1202.4 949.8,1201.7 C951.7,1201.1 953.6,1200.4 955.5,1199.8 C957.4,1199.1 959.3,1198.4 961.2,1197.8 C963.1,1197.1 965,1196.5 966.9,1195.8 C968.8,1195.1 970.7,1194.5 972.6,1193.8 C974.5,1193.1 976.4,1192.5 978.3,1191.8 C980.2,1191.2 982.1,1190.5 984,1189.9 C985.9,1189.2 987.8,1188.5 989.7,1187.9 C991.6,1187.2 993.5,1186.6 995.4,1185.9 C997.3,1185.2 999.2,1184.6 1001.1,1183.9 C1003,1183.3 1004.9,1182.6 1006.8,1181.9 C1008.7,1181.3 1010.5,1180.6 1012.4,1180 C1014.3,1179.3 1016.2,1178.6 1018.1,1178 C1020,1177.3 1021.9,1176.7 1023.8,1176 C1025.7,1175.3 1027.6,1174.7 1029.5,1174 C1031.4,1173.4 1033.3,1172.7 1035.2,1172.1 C1037.1,1171.4 1039,1170.7 1040.9,1170.1 C1042.8,1169.4 1044.7,1168.8 1046.6,1168.1 C1048.5,1167.4 1050.4,1166.8 1052.3,1166.1 C1054.2,1165.5 1056.1,1164.8 1058,1164.1 C1059.9,1163.5 1061.8,1162.8 1063.7,1162.1 C1065.6,1161.5 1067.5,1160.8 1069.4,1160.2 C1071.3,1159.5 1073.2,1158.8 1075.1,1158.2 C1077,1157.5 1078.9,1156.9 1080.8,1156.2 C1082.7,1155.5 1084.6,1154.9 1086.5,1154.2 C1088.4,1153.6 1090.2,1152.9 1092.1,1152.2 C1094,1151.6 1095.9,1150.9 1097.8,1150.3 C1099.7,1149.6 1101.6,1148.9 1103.5,1148.3 C1105.4,1147.6 1107.3,1147 1109.2,1146.3 C1111.1,1145.6 1113,1145 1114.9,1144.3 C1116.8,1143.6 1118.7,1143 1120.6,1142.3 C1122.5,1141.7 1124.4,1141 1126.3,1140.3 C1128.2,1139.7 1130.1,1139 1132,1138.4 C1133.9,1137.7 1135.8,1137 1137.7,1136.4 C1139.6,1135.7 1141.5,1135 1143.4,1134.4 C1145.2,1133.7 1147.1,1133.1 1149,1132.4 C1150.9,1131.7 1152.8,1131.1 1154.7,1130.4 C1156.6,1129.8 1158.5,1129.1 1160.4,1128.4 C1162.3,1127.8 1164.2,1127.1 1166.1,1126.4 C1168,1125.8 1169.9,1125.1 1171.8,1124.5 C1173.7,1123.8 1175.6,1123.1 1177.5,1122.5 C1179.4,1121.8 1181.3,1121.2 1183.2,1120.5 C1185.1,1119.8 1187,1119.2 1188.9,1118.5 C1190.8,1117.8 1192.6,1117.2 1194.5,1116.5 C1196.4,1115.9 1198.3,1115.2 1200.2,1114.5 C1202.1,1113.9 1204,1113.2 1205.9,1112.6 C1207.8,1111.9 1209.7,1111.2 1211.6,1110.6 C1213.5,1109.9 1215.4,1109.2 1217.3,1108.6 C1219.2,1107.9 1221.1,1107.3 1223,1106.6 C1224.9,1105.9 1226.8,1105.3 1228.7,1104.6 C1230.6,1104 1232.5,1103.3 1234.4,1102.6 C1236.2,1102 1238.1,1101.3 1240,1100.6 C1241.9,1100 1243.8,1099.3 1245.7,1098.7 C1247.6,1098 1249.5,1097.3 1251.4,1096.7 C1253.3,1096 1255.2,1095.4 1257.1,1094.7 C1259,1094 1260.9,1093.4 1262.8,1092.7 C1264.7,1092.1 1266.6,1091.4 1268.5,1090.7 C1270.4,1090.1 1272.3,1089.4 1274.2,1088.7 C1276.1,1088.1 1277.9,1087.4 1279.8,1086.8 C1281.7,1086.1 1283.6,1085.4 1285.5,1084.8 C1287.4,1084.1 1289.3,1083.5 1291.2,1082.8 C1293.1,1082.1 1295,1081.5 1296.9,1080.8 C1298.8,1080.2 1300.7,1079.5 1302.6,1078.8 C1304.5,1078.2 1306.4,1077.5 1308.3,1076.9 C1310.2,1076.2 1312.1,1075.5 1314,1074.9 C1315.9,1074.2 1317.8,1073.6 1319.7,1072.9 C1321.5,1072.2 1323.4,1071.6 1325.3,1070.9 C1327.2,1070.3 1329.1,1069.6 1331,1068.9 C1332.9,1068.3 1334.8,1067.6 1336.7,1067 C1338.6,1066.3 1340.5,1065.6 1342.4,1065 C1344.3,1064.3 1346.2,1063.7 1348.1,1063 C1350,1062.3 1351.9,1061.7 1353.8,1061 C1355.7,1060.4 1357.6,1059.7 1359.5,1059 C1361.4,1058.4 1363.3,1057.7 1365.2,1057.1 C1367,1056.4 1368.9,1055.7 1370.8,1055.1 C1372.7,1054.4 1374.6,1053.8 1376.5,1053.1 C1378.4,1052.4 1380.3,1051.8 1382.2,1051.1 C1384.1,1050.5 1386,1049.8 1387.9,1049.2 C1389.8,1048.5 1391.7,1047.8 1393.6,1047.2 C1395.5,1046.5 1397.4,1045.9 1399.3,1045.2 C1401.2,1044.5 1403.1,1043.9 1405,1043.2 C1406.9,1042.6 1408.8,1041.9 1410.7,1041.3 C1412.6,1040.6 1414.5,1039.9 1416.4,1039.3 C1418.2,1038.6 1420.1,1038 1422,1037.3 C1423.9,1036.6 1425.8,1036 1427.7,1035.3 C1429.6,1034.7 1431.5,1034 1433.4,1033.4 C1435.3,1032.7 1437.2,1032.1 1439.1,1031.4 C1441,1030.7 1442.9,1030.1 1444.8,1029.4 C1446.7,1028.8 1448.6,1028.1 1450.5,1027.5 C1452.4,1026.8 1454.3,1026.1 1456.2,1025.5 C1458.1,1024.8 1460,1024.2 1461.9,1023.5 C1463.8,1022.9 1465.7,1022.2 1467.6,1021.6 C1469.5,1020.9 1471.4,1020.2 1473.3,1019.6 C1475.2,1018.9 1477.1,1018.3 1479,1017.6 C1480.9,1017 1482.7,1016.3 1484.6,1015.7 C1486.5,1015 1488.4,1014.3 1490.3,1013.7 C1492.2,1013 1494.1,1012.4 1496,1011.7 C1497.9,1011.1 1499.8,1010.4 1501.7,1009.8 C1503.6,1009.1 1505.5,1008.5 1507.4,1007.8 C1509.3,1007.1 1511.2,1006.5 1513.1,1005.8 C1515,1005.2 1516.9,1004.5 1518.8,1003.9 C1520.7,1003.2 1522.6,1002.6 1524.5,1001.9 C1526.4,1001.3 1528.3,1000.6 1530.2,1000 C1532.1,999.3 1534,998.7 1535.9,998 C1537.8,997.4 1539.7,996.7 1541.6,996 C1543.5,995.4 1545.4,994.7 1547.3,994.1 C1549.2,993.4 1551.1,992.8 1553,992.1 C1554.9,991.5 1556.8,990.8 1558.7,990.2 C1560.6,989.5 1562.5,988.9 1564.4,988.2 C1566.3,987.6 1568.2,986.9 1570.1,986.3 C1572,985.6 1573.9,985 1575.8,984.3 C1577.7,983.7 1579.6,983 1581.5,982.4 C1583.4,981.7 1585.3,981.1 1587.2,980.4 C1589.1,979.8 1591,979.1 1592.9,978.5 C1594.8,977.8 1596.7,977.2 1598.6,976.5 C1600.5,975.9 1602.4,975.2 1604.3,974.6 C1606.2,973.9 1608.1,973.3 1610,972.6 C1611.9,972 1613.8,971.4 1615.7,970.7 C1617.6,970.1 1619.5,969.4 1621.4,968.8 C1623.3,968.1 1625.2,967.5 1627.1,966.8 C1629,966.2 1630.9,965.5 1632.8,964.9 C1634.7,964.2 1636.6,963.6 1638.5,962.9 C1640.4,962.3 1642.3,961.7 1644.2,961 C1646.1,960.4 1648,959.7 1649.9,959.1 C1651.8,958.4 1653.7,957.8 1655.6,957.1 C1657.5,956.5 1659.4,955.8 1661.3,955.2 C1663.2,954.6 1665.1,953.9 1667,953.3 C1668.9,952.6 1670.8,952 1672.7,951.3 C1674.7,950.7 1676.6,950.1 1678.5,949.4 C1680.4,948.8 1682.3,948.1 1684.2,947.5 C1686.1,946.8 1688,946.2 1689.9,945.6 C1691.8,944.9 1693.7,944.3 1695.6,943.6 C1697.5,943 1699.4,942.3 1701.3,941.7 C1703.2,941.1 1705.1,940.4 1707,939.8 C1708.9,939.1 1710.8,938.5 1712.7,937.9 C1714.6,937.2 1716.5,936.6 1718.4,935.9 C1720.3,935.3 1722.2,934.7 1724.2,934 C1726.1,933.4 1728,932.7 1729.9,932.1 C1731.8,931.5 1733.7,930.8 1735.6,930.2 C1737.5,929.5 1739.4,928.9 1741.3,928.3 C1743.2,927.6 1745.1,927 1747,926.4 C1748.9,925.7 1750.8,925.1 1752.7,924.4 C1754.6,923.8 1756.5,923.2 1758.5,922.5 C1760.4,921.9 1762.3,921.3 1764.2,920.6 C1766.1,920 1768,919.4 1769.9,918.7 C1771.8,918.1 1773.7,917.4 1775.6,916.8 C1777.5,916.2 1779.4,915.5 1781.3,914.9 C1783.2,914.3 1785.1,913.6 1787.1,913 C1789,912.4 1790.9,911.7 1792.8,911.1 C1794.7,910.5 1797.5,909.5 1798.5,909.2" fill="none" stroke="#000000" stroke-width="9" stroke-linecap="round" stroke-linejoin="round" stroke-dasharray="38.8 51.9" stroke-dashoffset="88.8"/>
<path d="M349.3,1462 C349.8,1461.1 351.1,1458.4 352.1,1456.6 C353,1454.8 353.9,1453 354.8,1451.3 C355.8,1449.5 356.7,1447.7 357.6,1445.9 C358.6,1444.1 359.5,1442.3 360.5,1440.6 C361.4,1438.8 362.4,1437 363.3,1435.2 C364.3,1433.4 365.2,1431.7 366.2,1429.9 C367.2,1428.1 368.1,1426.4 369.1,1424.6 C370.1,1422.9 371.1,1421.1 372,1419.4 C373,1417.6 374,1415.9 375,1414.1 C376,1412.4 377.1,1410.6 378.1,1408.9 C379.1,1407.2 380.1,1405.5 381.2,1403.7 C382.2,1402 383.2,1400.3 384.3,1398.6 C385.4,1396.9 386.4,1395.2 387.5,1393.5 C388.6,1391.8 389.7,1390.1 390.8,1388.5 C391.9,1386.8 393,1385.1 394.1,1383.5 C395.2,1381.8 396.3,1380.2 397.5,1378.5 C398.6,1376.9 399.8,1375.3 400.9,1373.6 C402.1,1372 403.3,1370.4 404.5,1368.8 C405.7,1367.2 406.9,1365.6 408.1,1364 C409.3,1362.4 410.6,1360.9 411.8,1359.3 C413,1357.8 414.3,1356.2 415.6,1354.7 C416.9,1353.1 418.2,1351.6 419.5,1350.1 C420.8,1348.6 422.1,1347.1 423.4,1345.6 C424.7,1344.1 426.1,1342.6 427.4,1341.1 C428.8,1339.7 430.2,1338.2 431.5,1336.8 C432.9,1335.3 434.3,1333.9 435.7,1332.4 C437.1,1331 438.6,1329.6 440,1328.2 C441.4,1326.8 442.8,1325.4 444.3,1324 C445.8,1322.6 447.2,1321.2 448.7,1319.9 C450.2,1318.5 451.6,1317.1 453.1,1315.8 C454.6,1314.5 456.1,1313.1 457.6,1311.8 C459.2,1310.5 460.7,1309.2 462.2,1307.9 C463.7,1306.6 465.3,1305.3 466.8,1304 C468.4,1302.7 469.9,1301.4 471.5,1300.2 C473.1,1298.9 474.7,1297.6 476.2,1296.4 C477.8,1295.2 479.4,1293.9 481,1292.7 C482.6,1291.5 484.2,1290.3 485.8,1289.1 C487.5,1287.9 489.1,1286.7 490.7,1285.5 C492.3,1284.3 494,1283.1 495.6,1282 C497.3,1280.8 498.9,1279.6 500.6,1278.5 C502.2,1277.3 503.9,1276.2 505.6,1275.1 C507.2,1274 508.9,1272.8 510.6,1271.7 C512.3,1270.6 513.9,1269.5 515.6,1268.4 C517.3,1267.3 519,1266.3 520.7,1265.2 C522.4,1264.1 524.1,1263 525.9,1262 C527.6,1260.9 529.3,1259.9 531,1258.8 C532.7,1257.8 534.5,1256.8 536.2,1255.7 C537.9,1254.7 539.7,1253.7 541.4,1252.7 C543.2,1251.7 544.9,1250.7 546.6,1249.7 C548.4,1248.7 550.2,1247.7 551.9,1246.7 C553.7,1245.8 555.4,1244.8 557.2,1243.8 C559,1242.9 560.7,1241.9 562.5,1241 C564.3,1240 566,1239.1 567.8,1238.1 C569.6,1237.2 571.4,1236.3 573.2,1235.3 C574.9,1234.4 576.7,1233.5 578.5,1232.6 C580.3,1231.7 582.1,1230.8 583.9,1229.9 C585.7,1229 587.5,1228.1 589.3,1227.2 C591.1,1226.4 592.9,1225.5 594.7,1224.6 C596.5,1223.7 598.3,1222.9 600.1,1222 C601.9,1221.2 603.7,1220.3 605.5,1219.5 C607.4,1218.6 609.2,1217.8 611,1217 C612.8,1216.1 614.6,1215.3 616.5,1214.5 C618.3,1213.7 620.1,1212.9 622,1212.1 C623.8,1211.3 625.6,1210.4 627.5,1209.7 C629.3,1208.9 631.1,1208.1 633,1207.3 C634.8,1206.5 636.6,1205.7 638.5,1205 C640.3,1204.2 642.2,1203.4 644,1202.7 C645.9,1201.9 647.7,1201.1 649.6,1200.4 C651.4,1199.6 653.3,1198.9 655.2,1198.2 C657,1197.4 658.9,1196.7 660.7,1196 C662.6,1195.2 664.5,1194.5 666.3,1193.8 C668.2,1193.1 670.1,1192.4 671.9,1191.7 C673.8,1191 675.7,1190.3 677.6,1189.6 C679.4,1188.9 681.3,1188.2 683.2,1187.5 C685.1,1186.8 686.9,1186.1 688.8,1185.4 C690.7,1184.8 692.6,1184.1 694.5,1183.4 C696.4,1182.8 698.3,1182.1 700.2,1181.4 C702,1180.8 703.9,1180.1 705.8,1179.5 C707.7,1178.8 709.6,1178.2 711.5,1177.5 C713.4,1176.9 715.3,1176.3 717.2,1175.6 C719.1,1175 721,1174.4 722.9,1173.8 C724.8,1173.1 726.7,1172.5 728.6,1171.9 C730.5,1171.3 732.5,1170.7 734.4,1170.1 C736.3,1169.5 738.2,1168.9 740.1,1168.3 C742,1167.7 743.9,1167.1 745.9,1166.5 C747.8,1165.9 749.7,1165.3 751.6,1164.7 C753.5,1164.2 755.5,1163.6 757.4,1163 C759.3,1162.4 761.2,1161.9 763.2,1161.3 C765.1,1160.7 767,1160.2 768.9,1159.6 C770.9,1159.1 772.8,1158.5 774.7,1157.9 C776.7,1157.4 778.6,1156.8 780.5,1156.3 C782.5,1155.8 784.4,1155.2 786.3,1154.7 C788.3,1154.1 790.2,1153.6 792.1,1153.1 C794.1,1152.5 796,1152 798,1151.5 C799.9,1151 801.8,1150.4 803.8,1149.9 C805.7,1149.4 807.7,1148.9 809.6,1148.4 C811.6,1147.9 813.5,1147.3 815.5,1146.8 C817.4,1146.3 819.4,1145.8 821.3,1145.3 C823.3,1144.8 825.2,1144.3 827.2,1143.8 C829.1,1143.3 831.1,1142.8 833,1142.3 C835,1141.9 836.9,1141.4 838.9,1140.9 C840.8,1140.4 842.8,1139.9 844.7,1139.4 C846.7,1138.9 848.7,1138.5 850.6,1138 C852.6,1137.5 854.5,1137 856.5,1136.6 C858.5,1136.1 860.4,1135.6 862.4,1135.2 C864.3,1134.7 866.3,1134.2 868.3,1133.8 C870.2,1133.3 872.2,1132.8 874.1,1132.4 C876.1,1131.9 878.1,1131.5 880,1131 C882,1130.5 884,1130.1 885.9,1129.6 C887.9,1129.2 889.9,1128.7 891.8,1128.3 C893.8,1127.8 895.8,1127.4 897.7,1126.9 C899.7,1126.5 901.7,1126 903.6,1125.6 C905.6,1125.2 907.6,1124.7 909.5,1124.3 C911.5,1123.8 913.5,1123.4 915.4,1123 C917.4,1122.5 919.4,1122.1 921.4,1121.7 C923.3,1121.2 925.3,1120.8 927.3,1120.4 C929.2,1119.9 931.2,1119.5 933.2,1119.1 C935.2,1118.6 937.1,1118.2 939.1,1117.8 C941.1,1117.3 943,1116.9 945,1116.5 C947,1116.1 949,1115.6 950.9,1115.2 C952.9,1114.8 954.9,1114.4 956.8,1113.9 C958.8,1113.5 960.8,1113.1 962.8,1112.7 C964.7,1112.2 966.7,1111.8 968.7,1111.4 C970.6,1111 972.6,1110.6 974.6,1110.1 C976.6,1109.7 978.5,1109.3 980.5,1108.9 C982.5,1108.5 984.4,1108 986.4,1107.6 C988.4,1107.2 990.3,1106.8 992.3,1106.4 C994.3,1106 996.3,1105.5 998.2,1105.1 C1000.2,1104.7 1002.2,1104.3 1004.1,1103.9 C1006.1,1103.5 1008.1,1103.1 1010.1,1102.6 C1012,1102.2 1014,1101.8 1016,1101.4 C1017.9,1101 1019.9,1100.6 1021.9,1100.2 C1023.9,1099.8 1025.8,1099.3 1027.8,1098.9 C1029.8,1098.5 1031.7,1098.1 1033.7,1097.7 C1035.7,1097.3 1037.7,1096.9 1039.6,1096.5 C1041.6,1096.1 1043.6,1095.7 1045.5,1095.3 C1047.5,1094.9 1049.5,1094.5 1051.5,1094.1 C1053.4,1093.6 1055.4,1093.2 1057.4,1092.8 C1059.3,1092.4 1061.3,1092 1063.3,1091.6 C1065.3,1091.2 1067.2,1090.8 1069.2,1090.4 C1071.2,1090 1073.1,1089.6 1075.1,1089.2 C1077.1,1088.8 1079.1,1088.4 1081,1088 C1083,1087.6 1085,1087.2 1086.9,1086.8 C1088.9,1086.4 1090.9,1086 1092.9,1085.6 C1094.8,1085.2 1096.8,1084.8 1098.8,1084.4 C1100.7,1084 1102.7,1083.6 1104.7,1083.2 C1106.7,1082.9 1108.6,1082.5 1110.6,1082.1 C1112.6,1081.7 1114.5,1081.3 1116.5,1080.9 C1118.5,1080.5 1120.4,1080.1 1122.4,1079.7 C1124.4,1079.3 1126.4,1078.9 1128.3,1078.5 C1130.3,1078.1 1132.3,1077.7 1134.2,1077.4 C1136.2,1077 1138.2,1076.6 1140.2,1076.2 C1142.1,1075.8 1144.1,1075.4 1146.1,1075 C1148,1074.6 1150,1074.2 1152,1073.9 C1154,1073.5 1155.9,1073.1 1157.9,1072.7 C1159.9,1072.3 1161.8,1071.9 1163.8,1071.5 C1165.8,1071.2 1167.8,1070.8 1169.7,1070.4 C1171.7,1070 1173.7,1069.6 1175.6,1069.2 C1177.6,1068.8 1179.6,1068.5 1181.6,1068.1 C1183.5,1067.7 1185.5,1067.3 1187.5,1066.9 C1189.4,1066.6 1191.4,1066.2 1193.4,1065.8 C1195.4,1065.4 1197.3,1065 1199.3,1064.6 C1201.3,1064.3 1203.3,1063.9 1205.2,1063.5 C1207.2,1063.1 1209.2,1062.8 1211.1,1062.4 C1213.1,1062 1215.1,1061.6 1217.1,1061.2 C1219,1060.9 1221,1060.5 1223,1060.1 C1224.9,1059.7 1226.9,1059.4 1228.9,1059 C1230.9,1058.6 1232.8,1058.2 1234.8,1057.9 C1236.8,1057.5 1238.7,1057.1 1240.7,1056.7 C1242.7,1056.4 1244.7,1056 1246.6,1055.6 C1248.6,1055.2 1250.6,1054.9 1252.5,1054.5 C1254.5,1054.1 1256.5,1053.7 1258.5,1053.4 C1260.4,1053 1262.4,1052.6 1264.4,1052.3 C1266.4,1051.9 1268.3,1051.5 1270.3,1051.2 C1272.3,1050.8 1274.2,1050.4 1276.2,1050 C1278.2,1049.7 1280.2,1049.3 1282.1,1048.9 C1284.1,1048.6 1286.1,1048.2 1288.1,1047.8 C1290,1047.5 1292,1047.1 1294,1046.7 C1295.9,1046.4 1297.9,1046 1299.9,1045.6 C1301.9,1045.3 1303.8,1044.9 1305.8,1044.5 C1307.8,1044.2 1309.8,1043.8 1311.7,1043.4 C1313.7,1043.1 1315.7,1042.7 1317.6,1042.3 C1319.6,1042 1321.6,1041.6 1323.6,1041.3 C1325.5,1040.9 1327.5,1040.5 1329.5,1040.2 C1331.5,1039.8 1333.4,1039.4 1335.4,1039.1 C1337.4,1038.7 1339.4,1038.4 1341.3,1038 C1343.3,1037.6 1345.3,1037.3 1347.2,1036.9 C1349.2,1036.6 1351.2,1036.2 1353.2,1035.8 C1355.1,1035.5 1357.1,1035.1 1359.1,1034.8 C1361.1,1034.4 1363,1034 1365,1033.7 C1367,1033.3 1369,1033 1370.9,1032.6 C1372.9,1032.2 1374.9,1031.9 1376.9,1031.5 C1378.8,1031.2 1380.8,1030.8 1382.8,1030.5 C1384.7,1030.1 1386.7,1029.7 1388.7,1029.4 C1390.7,1029 1392.6,1028.7 1394.6,1028.3 C1396.6,1028 1398.6,1027.6 1400.5,1027.3 C1402.5,1026.9 1404.5,1026.6 1406.5,1026.2 C1408.4,1025.8 1410.4,1025.5 1412.4,1025.1 C1414.4,1024.8 1416.3,1024.4 1418.3,1024.1 C1420.3,1023.7 1422.3,1023.4 1424.2,1023 C1426.2,1022.7 1428.2,1022.3 1430.2,1022 C1432.1,1021.6 1434.1,1021.3 1436.1,1020.9 C1438.1,1020.6 1440,1020.2 1442,1019.9 C1444,1019.5 1446,1019.2 1447.9,1018.8 C1449.9,1018.4 1451.9,1018.1 1453.9,1017.8 C1455.8,1017.4 1457.8,1017.1 1459.8,1016.7 C1461.8,1016.4 1463.7,1016 1465.7,1015.7 C1467.7,1015.3 1469.7,1015 1471.7,1014.6 C1473.6,1014.3 1475.6,1013.9 1477.6,1013.6 C1479.6,1013.2 1481.5,1012.9 1483.5,1012.5 C1485.5,1012.2 1487.5,1011.8 1489.4,1011.5 C1491.4,1011.1 1493.4,1010.8 1495.4,1010.4 C1497.3,1010.1 1499.3,1009.7 1501.3,1009.4 C1503.3,1009.1 1505.3,1008.7 1507.2,1008.4 C1509.2,1008 1511.2,1007.7 1513.2,1007.3 C1515.1,1007 1517.1,1006.6 1519.1,1006.3 C1521.1,1005.9 1523,1005.6 1525,1005.3 C1527,1004.9 1529,1004.6 1531,1004.2 C1532.9,1003.9 1534.9,1003.5 1536.9,1003.2 C1538.9,1002.9 1540.8,1002.5 1542.8,1002.2 C1544.8,1001.8 1546.8,1001.5 1548.8,1001.1 C1550.7,1000.8 1552.7,1000.5 1554.7,1000.1 C1556.7,999.8 1558.6,999.4 1560.6,999.1 C1562.6,998.7 1564.6,998.4 1566.6,998.1 C1568.5,997.7 1570.5,997.4 1572.5,997 C1574.5,996.7 1576.5,996.3 1578.4,996 C1580.4,995.7 1582.4,995.3 1584.4,995 C1586.3,994.6 1588.3,994.3 1590.3,994 C1592.3,993.6 1594.3,993.3 1596.2,992.9 C1598.2,992.6 1600.2,992.3 1602.2,991.9 C1604.2,991.6 1606.1,991.2 1608.1,990.9 C1610.1,990.6 1612.1,990.2 1614.1,989.9 C1616,989.5 1618,989.2 1620,988.9 C1622,988.5 1624,988.2 1625.9,987.9 C1627.9,987.5 1629.9,987.2 1631.9,986.8 C1633.9,986.5 1635.8,986.2 1637.8,985.8 C1639.8,985.5 1641.8,985.1 1643.8,984.8 C1645.7,984.5 1647.7,984.1 1649.7,983.8 C1651.7,983.5 1653.7,983.1 1655.7,982.8 C1657.6,982.4 1659.6,982.1 1661.6,981.8 C1663.6,981.4 1665.6,981.1 1667.5,980.8 C1669.5,980.4 1671.5,980.1 1673.5,979.7 C1675.5,979.4 1677.5,979.1 1679.4,978.7 C1681.4,978.4 1683.4,978.1 1685.4,977.7 C1687.4,977.4 1689.3,977.1 1691.3,976.7 C1693.3,976.4 1695.3,976 1697.3,975.7 C1699.3,975.4 1701.2,975 1703.2,974.7 C1705.2,974.4 1707.2,974 1709.2,973.7 C1711.2,973.4 1713.1,973 1715.1,972.7 C1717.1,972.3 1719.1,972 1721.1,971.7 C1723.1,971.3 1725,971 1727,970.7 C1729,970.3 1731,970 1733,969.7 C1735,969.3 1736.9,969 1738.9,968.7 C1740.9,968.3 1742.9,968 1744.9,967.6 C1746.9,967.3 1748.9,967 1750.8,966.6 C1752.8,966.3 1754.8,966 1756.8,965.6 C1758.8,965.3 1760.8,965 1762.8,964.6 C1764.7,964.3 1766.7,964 1768.7,963.6 C1770.7,963.3 1772.7,963 1774.7,962.6 C1776.7,962.3 1778.6,962 1780.6,961.6 C1782.6,961.3 1784.6,960.9 1786.6,960.6 C1788.6,960.3 1790.6,959.9 1792.5,959.6 C1794.5,959.3 1797.5,958.8 1798.5,958.6" fill="none" stroke="#ff0000" stroke-width="9" stroke-linecap="round" stroke-linejoin="round" stroke-dasharray="38.8 51.9" stroke-dashoffset="84.1"/>
<path d="M349.3,1462 C349.4,1461 349.5,1458 349.6,1456 C349.7,1454 349.8,1452 349.9,1449.9 C350.1,1447.9 350.2,1445.9 350.3,1443.9 C350.4,1441.9 350.5,1439.9 350.6,1437.9 C350.7,1435.9 350.8,1433.9 351,1431.9 C351.1,1429.9 351.2,1427.9 351.3,1425.8 C351.4,1423.8 351.5,1421.8 351.7,1419.8 C351.8,1417.8 351.9,1415.8 352,1413.8 C352.2,1411.8 352.3,1409.8 352.4,1407.8 C352.5,1405.8 352.7,1403.8 352.8,1401.8 C352.9,1399.7 353.1,1397.7 353.2,1395.7 C353.3,1393.7 353.4,1391.7 353.6,1389.7 C353.7,1387.7 353.8,1385.7 354,1383.7 C354.1,1381.7 354.3,1379.7 354.4,1377.7 C354.5,1375.7 354.7,1373.7 354.8,1371.7 C354.9,1369.7 355.1,1367.7 355.2,1365.7 C355.4,1363.6 355.5,1361.6 355.7,1359.6 C355.8,1357.6 355.9,1355.6 356.1,1353.6 C356.2,1351.6 356.4,1349.6 356.5,1347.6 C356.7,1345.6 356.8,1343.6 357,1341.6 C357.1,1339.6 357.3,1337.6 357.5,1335.6 C357.6,1333.6 357.8,1331.6 357.9,1329.6 C358.1,1327.6 358.2,1325.6 358.4,1323.6 C358.5,1321.6 358.7,1319.6 358.9,1317.6 C359,1315.6 359.2,1313.6 359.4,1311.6 C359.5,1309.6 359.7,1307.5 359.8,1305.5 C360,1303.5 360.2,1301.5 360.3,1299.5 C360.5,1297.5 360.7,1295.5 360.8,1293.5 C361,1291.5 361.2,1289.5 361.4,1287.5 C361.5,1285.5 361.7,1283.5 361.9,1281.5 C362.1,1279.5 362.2,1277.5 362.4,1275.5 C362.6,1273.5 362.8,1271.5 362.9,1269.5 C363.1,1267.5 363.3,1265.5 363.5,1263.5 C363.7,1261.5 363.8,1259.5 364,1257.5 C364.2,1255.5 364.4,1253.5 364.6,1251.5 C364.8,1249.5 364.9,1247.5 365.1,1245.5 C365.3,1243.5 365.5,1241.5 365.7,1239.5 C365.9,1237.5 366.1,1235.5 366.3,1233.5 C366.5,1231.5 366.6,1229.5 366.8,1227.5 C367,1225.5 367.2,1223.5 367.4,1221.5 C367.6,1219.5 367.8,1217.5 368,1215.5 C368.2,1213.5 368.4,1211.5 368.6,1209.5 C368.8,1207.5 369,1205.5 369.2,1203.5 C369.4,1201.5 369.6,1199.5 369.8,1197.5 C370,1195.5 370.2,1193.5 370.4,1191.5 C370.6,1189.6 370.9,1187.6 371.1,1185.6 C371.3,1183.6 371.5,1181.6 371.7,1179.6 C371.9,1177.6 372.1,1175.6 372.3,1173.6 C372.5,1171.6 372.8,1169.6 373,1167.6 C373.2,1165.6 373.4,1163.6 373.6,1161.6 C373.8,1159.6 374.1,1157.6 374.3,1155.6 C374.5,1153.6 374.7,1151.6 374.9,1149.6 C375.1,1147.6 375.4,1145.6 375.6,1143.6 C375.8,1141.6 376,1139.6 376.3,1137.6 C376.5,1135.6 376.7,1133.6 376.9,1131.6 C377.2,1129.6 377.4,1127.7 377.6,1125.7 C377.9,1123.7 378.1,1121.7 378.3,1119.7 C378.5,1117.7 378.8,1115.7 379,1113.7 C379.2,1111.7 379.5,1109.7 379.7,1107.7 C380,1105.7 380.2,1103.7 380.4,1101.7 C380.7,1099.7 380.9,1097.7 381.1,1095.7 C381.4,1093.7 381.6,1091.7 381.9,1089.7 C382.1,1087.7 382.3,1085.8 382.6,1083.8 C382.8,1081.8 383.1,1079.8 383.3,1077.8 C383.6,1075.8 383.8,1073.8 384.1,1071.8 C384.3,1069.8 384.5,1067.8 384.8,1065.8 C385,1063.8 385.3,1061.8 385.5,1059.8 C385.8,1057.8 386,1055.8 386.3,1053.8 C386.6,1051.9 386.8,1049.9 387.1,1047.9 C387.3,1045.9 387.6,1043.9 387.8,1041.9 C388.1,1039.9 388.3,1037.9 388.6,1035.9 C388.9,1033.9 389.1,1031.9 389.4,1029.9 C389.6,1027.9 389.9,1025.9 390.2,1023.9 C390.4,1022 390.7,1020 391,1018 C391.2,1016 391.5,1014 391.7,1012 C392,1010 392.3,1008 392.5,1006 C392.8,1004 393.1,1002 393.4,1000 C393.6,998 393.9,996.1 394.2,994.1 C394.4,992.1 394.7,990.1 395,988.1 C395.3,986.1 395.5,984.1 395.8,982.1 C396.1,980.1 396.4,978.1 396.6,976.1 C396.9,974.1 397.2,972.1 397.5,970.2 C397.8,968.2 398,966.2 398.3,964.2 C398.6,962.2 398.9,960.2 399.2,958.2 C399.4,956.2 399.7,954.2 400,952.2 C400.3,950.2 400.6,948.2 400.9,946.3 C401.1,944.3 401.4,942.3 401.7,940.3 C402,938.3 402.3,936.3 402.6,934.3 C402.9,932.3 403.2,930.3 403.5,928.3 C403.8,926.3 404.1,924.4 404.4,922.4 C404.7,920.4 405,918.4 405.3,916.4 C405.6,914.4 405.9,912.4 406.2,910.4 C406.5,908.4 406.8,906.5 407.1,904.5 C407.4,902.5 407.7,900.5 408,898.5 C408.3,896.5 408.7,894.5 409,892.6 C409.3,890.6 409.6,888.6 410,886.6 C410.3,884.6 410.6,882.6 411,880.6 C411.3,878.7 411.6,876.7 412,874.7 C412.3,872.7 412.7,870.7 413,868.8 C413.4,866.8 413.7,864.8 414.1,862.8 C414.4,860.8 414.8,858.9 415.2,856.9 C415.5,854.9 415.9,852.9 416.3,851 C416.6,849 417,847 417.4,845 C417.8,843.1 418.2,841.1 418.6,839.1 C419,837.2 419.4,835.2 419.8,833.2 C420.2,831.3 420.6,829.3 421,827.3 C421.4,825.4 421.8,823.4 422.2,821.4 C422.7,819.5 423.1,817.5 423.5,815.6 C424,813.6 424.4,811.6 424.9,809.7 C425.3,807.7 425.8,805.8 426.2,803.8 C426.7,801.9 427.2,799.9 427.6,798 C428.1,796 428.6,794.1 429.1,792.1 C429.6,790.2 430,788.2 430.5,786.3 C431,784.3 431.6,782.4 432.1,780.4 C432.6,778.5 433.1,776.6 433.6,774.6 C434.2,772.7 434.7,770.7 435.2,768.8 C435.8,766.9 436.3,764.9 436.9,763 C437.5,761.1 438,759.1 438.6,757.2 C439.2,755.3 439.8,753.4 440.4,751.4 C441,749.5 441.6,747.6 442.2,745.7 C442.8,743.8 443.4,741.8 444,739.9 C444.6,738 445.3,736.1 445.9,734.2 C446.6,732.3 447.2,730.4 447.9,728.5 C448.5,726.6 449.2,724.6 449.9,722.7 C450.6,720.8 451.3,718.9 452,717.1 C452.7,715.2 453.4,713.3 454.1,711.4 C454.8,709.5 455.6,707.6 456.3,705.7 C457.1,703.9 457.8,702 458.6,700.1 C459.4,698.2 460.2,696.4 461,694.5 C461.8,692.7 462.6,690.8 463.5,689 C464.3,687.1 465.1,685.3 466,683.5 C466.9,681.6 467.8,679.8 468.7,678 C469.6,676.2 470.5,674.4 471.4,672.6 C472.4,670.8 473.3,669 474.3,667.2 C475.2,665.4 476.2,663.7 477.2,661.9 C478.3,660.1 479.3,658.4 480.3,656.6 C481.4,654.9 482.5,653.2 483.5,651.5 C484.6,649.7 485.7,648 486.9,646.3 C488,644.6 489.1,643 490.3,641.3 C491.5,639.6 492.6,638 493.8,636.3 C495,634.7 496.3,633.1 497.5,631.5 C498.7,629.9 500,628.3 501.3,626.7 C502.5,625.1 503.8,623.6 505.2,622.1 C506.5,620.5 507.8,619 509.1,617.5 C510.5,616 511.9,614.5 513.2,613 C514.6,611.6 516,610.1 517.4,608.7 C518.9,607.3 520.3,605.9 521.8,604.5 C523.2,603.2 524.7,601.8 526.2,600.5 C527.7,599.1 529.2,597.8 530.7,596.5 C532.2,595.3 533.8,594 535.3,592.8 C536.9,591.5 538.5,590.3 540.1,589.1 C541.7,587.9 543.3,586.8 544.9,585.7 C546.5,584.5 548.2,583.4 549.9,582.3 C551.5,581.3 553.2,580.2 554.9,579.2 C556.6,578.2 558.3,577.2 560.1,576.2 C561.8,575.3 563.5,574.3 565.3,573.4 C567.1,572.5 568.9,571.7 570.6,570.8 C572.4,570 574.3,569.2 576.1,568.4 C577.9,567.7 579.8,566.9 581.6,566.2 C583.5,565.5 585.4,564.8 587.3,564.2 C589.1,563.5 591,562.9 593,562.3 C594.9,561.7 596.8,561.2 598.7,560.7 C600.7,560.1 603.6,559.4 604.6,559.2" fill="none" stroke="#0000ff" stroke-width="9" stroke-linecap="round" stroke-linejoin="round" stroke-dasharray="38.8 51.9" stroke-dashoffset="87.8"/>
<path d="M604.6,559.2 C605.5,558.9 608.5,558.2 610.5,557.8 C612.4,557.4 614.4,557 616.4,556.6 C618.4,556.3 620.4,555.9 622.4,555.6 C624.4,555.3 626.4,555 628.4,554.7 C630.4,554.5 632.4,554.2 634.4,554 C636.4,553.8 638.4,553.6 640.4,553.4 C642.5,553.3 644.5,553.1 646.5,553 C648.5,552.8 650.5,552.7 652.6,552.7 C654.6,552.6 656.6,552.5 658.6,552.5 C660.6,552.4 662.6,552.4 664.7,552.4 C666.7,552.4 668.7,552.4 670.7,552.4 C672.7,552.5 674.7,552.5 676.7,552.6 C678.7,552.7 680.7,552.8 682.7,552.9 C684.7,553 686.7,553.1 688.7,553.2 C690.6,553.4 692.6,553.6 694.6,553.7 C696.6,553.9 698.6,554.1 700.6,554.3 C702.6,554.5 704.5,554.8 706.5,555 C708.5,555.2 710.5,555.5 712.4,555.8 C714.4,556 716.4,556.3 718.3,556.6 C720.3,556.9 722.3,557.3 724.2,557.6 C726.2,557.9 728.2,558.3 730.1,558.6 C732.1,559 734,559.4 736,559.7 C737.9,560.1 739.9,560.5 741.8,560.9 C743.8,561.4 745.7,561.8 747.7,562.2 C749.6,562.6 751.6,563.1 753.5,563.6 C755.5,564 757.4,564.5 759.4,565 C761.3,565.4 763.2,565.9 765.2,566.4 C767.1,566.9 769.1,567.5 771,568 C772.9,568.5 774.9,569 776.8,569.6 C778.7,570.1 780.7,570.7 782.6,571.2 C784.5,571.8 786.5,572.4 788.4,572.9 C790.3,573.5 792.2,574.1 794.2,574.7 C796.1,575.3 798,575.9 799.9,576.5 C801.9,577.1 803.8,577.7 805.7,578.3 C807.6,578.9 809.5,579.6 811.5,580.2 C813.4,580.8 815.3,581.5 817.2,582.1 C819.1,582.8 821,583.4 823,584.1 C824.9,584.7 826.8,585.4 828.7,586 C830.6,586.7 832.5,587.4 834.4,588 C836.4,588.7 838.3,589.4 840.2,590.1 C842.1,590.7 844,591.4 845.9,592.1 C847.8,592.8 849.7,593.5 851.6,594.2 C853.6,594.8 855.5,595.5 857.4,596.2 C859.3,596.9 861.2,597.6 863.1,598.3 C865,599 866.9,599.7 868.8,600.4 C870.7,601.1 872.6,601.8 874.5,602.5 C876.4,603.2 878.4,603.9 880.3,604.6 C882.2,605.3 884.1,606 886,606.7 C887.9,607.4 889.8,608.1 891.7,608.7 C893.6,609.4 895.5,610.1 897.4,610.8 C899.3,611.5 901.2,612.2 903.1,612.9 C905,613.6 907,614.3 908.9,615 C910.8,615.7 912.7,616.3 914.6,617 C916.5,617.7 918.4,618.4 920.3,619.1 C922.2,619.8 924.1,620.5 926,621.1 C927.9,621.8 929.8,622.5 931.7,623.2 C933.6,623.9 935.5,624.6 937.4,625.2 C939.4,625.9 941.3,626.6 943.2,627.3 C945.1,628 947,628.7 948.9,629.3 C950.8,630 952.7,630.7 954.6,631.4 C956.5,632 958.4,632.7 960.3,633.4 C962.2,634.1 964.1,634.7 966,635.4 C967.9,636.1 969.8,636.8 971.7,637.4 C973.6,638.1 975.6,638.8 977.5,639.5 C979.4,640.1 981.3,640.8 983.2,641.5 C985.1,642.2 987,642.8 988.9,643.5 C990.8,644.2 992.7,644.8 994.6,645.5 C996.5,646.2 998.4,646.8 1000.3,647.5 C1002.2,648.2 1004.1,648.8 1006,649.5 C1007.9,650.2 1009.8,650.8 1011.7,651.5 C1013.7,652.2 1015.6,652.8 1017.5,653.5 C1019.4,654.2 1021.3,654.8 1023.2,655.5 C1025.1,656.1 1027,656.8 1028.9,657.5 C1030.8,658.1 1032.7,658.8 1034.6,659.4 C1036.5,660.1 1038.4,660.8 1040.3,661.4 C1042.2,662.1 1044.1,662.7 1046,663.4 C1047.9,664 1049.8,664.7 1051.7,665.4 C1053.6,666 1055.6,666.7 1057.5,667.3 C1059.4,668 1061.3,668.6 1063.2,669.3 C1065.1,669.9 1067,670.6 1068.9,671.2 C1070.8,671.9 1072.7,672.5 1074.6,673.2 C1076.5,673.9 1078.4,674.5 1080.3,675.2 C1082.2,675.8 1084.1,676.5 1086,677.1 C1087.9,677.7 1089.8,678.4 1091.7,679 C1093.6,679.7 1095.5,680.3 1097.5,681 C1099.4,681.6 1101.3,682.3 1103.2,682.9 C1105.1,683.6 1107,684.2 1108.9,684.9 C1110.8,685.5 1112.7,686.1 1114.6,686.8 C1116.5,687.4 1118.4,688.1 1120.3,688.7 C1122.2,689.4 1124.1,690 1126,690.6 C1127.9,691.3 1129.8,691.9 1131.7,692.6 C1133.6,693.2 1135.5,693.8 1137.4,694.5 C1139.4,695.1 1141.3,695.8 1143.2,696.4 C1145.1,697 1147,697.7 1148.9,698.3 C1150.8,699 1152.7,699.6 1154.6,700.2 C1156.5,700.9 1158.4,701.5 1160.3,702.1 C1162.2,702.8 1164.1,703.4 1166,704 C1167.9,704.7 1169.8,705.3 1171.7,705.9 C1173.6,706.6 1175.5,707.2 1177.5,707.8 C1179.4,708.5 1181.3,709.1 1183.2,709.7 C1185.1,710.4 1187,711 1188.9,711.6 C1190.8,712.2 1192.7,712.9 1194.6,713.5 C1196.5,714.1 1198.4,714.8 1200.3,715.4 C1202.2,716 1204.1,716.6 1206,717.3 C1207.9,717.9 1209.8,718.5 1211.7,719.2 C1213.7,719.8 1215.6,720.4 1217.5,721 C1219.4,721.7 1221.3,722.3 1223.2,722.9 C1225.1,723.5 1227,724.2 1228.9,724.8 C1230.8,725.4 1232.7,726 1234.6,726.7 C1236.5,727.3 1238.4,727.9 1240.3,728.5 C1242.2,729.1 1244.1,729.8 1246.1,730.4 C1248,731 1249.9,731.6 1251.8,732.2 C1253.7,732.9 1255.6,733.5 1257.5,734.1 C1259.4,734.7 1261.3,735.3 1263.2,736 C1265.1,736.6 1267,737.2 1268.9,737.8 C1270.8,738.4 1272.7,739.1 1274.6,739.7 C1276.6,740.3 1278.5,740.9 1280.4,741.5 C1282.3,742.1 1284.2,742.8 1286.1,743.4 C1288,744 1289.9,744.6 1291.8,745.2 C1293.7,745.8 1295.6,746.4 1297.5,747.1 C1299.4,747.7 1301.3,748.3 1303.3,748.9 C1305.2,749.5 1307.1,750.1 1309,750.7 C1310.9,751.3 1312.8,752 1314.7,752.6 C1316.6,753.2 1318.5,753.8 1320.4,754.4 C1322.3,755 1324.2,755.6 1326.2,756.2 C1328.1,756.8 1330,757.5 1331.9,758.1 C1333.8,758.7 1335.7,759.3 1337.6,759.9 C1339.5,760.5 1341.4,761.1 1343.3,761.7 C1345.2,762.3 1347.1,762.9 1349.1,763.5 C1351,764.1 1352.9,764.8 1354.8,765.4 C1356.7,766 1358.6,766.6 1360.5,767.2 C1362.4,767.8 1364.3,768.4 1366.2,769 C1368.1,769.6 1370.1,770.2 1372,770.8 C1373.9,771.4 1375.8,772 1377.7,772.6 C1379.6,773.2 1381.5,773.8 1383.4,774.4 C1385.3,775 1387.2,775.6 1389.2,776.2 C1391.1,776.9 1393,777.5 1394.9,778.1 C1396.8,778.7 1398.7,779.3 1400.6,779.9 C1402.5,780.5 1404.4,781.1 1406.3,781.7 C1408.3,782.3 1410.2,782.9 1412.1,783.5 C1414,784.1 1415.9,784.7 1417.8,785.3 C1419.7,785.9 1421.6,786.5 1423.5,787.1 C1425.5,787.7 1427.4,788.3 1429.3,788.9 C1431.2,789.5 1433.1,790.1 1435,790.7 C1436.9,791.3 1438.8,791.9 1440.8,792.5 C1442.7,793.1 1444.6,793.7 1446.5,794.3 C1448.4,794.9 1450.3,795.5 1452.2,796 C1454.1,796.6 1456.1,797.2 1458,797.8 C1459.9,798.4 1461.8,799 1463.7,799.6 C1465.6,800.2 1467.5,800.8 1469.4,801.4 C1471.4,802 1473.3,802.6 1475.2,803.2 C1477.1,803.8 1479,804.4 1480.9,805 C1482.8,805.6 1484.8,806.2 1486.7,806.8 C1488.6,807.4 1490.5,808 1492.4,808.6 C1494.3,809.1 1496.2,809.7 1498.2,810.3 C1500.1,810.9 1502,811.5 1503.9,812.1 C1505.8,812.7 1507.7,813.3 1509.7,813.9 C1511.6,814.5 1513.5,815.1 1515.4,815.7 C1517.3,816.3 1519.2,816.9 1521.1,817.4 C1523.1,818 1525,818.6 1526.9,819.2 C1528.8,819.8 1530.7,820.4 1532.6,821 C1534.6,821.6 1536.5,822.2 1538.4,822.8 C1540.3,823.4 1542.2,824 1544.1,824.5 C1546.1,825.1 1548,825.7 1549.9,826.3 C1551.8,826.9 1553.7,827.5 1555.7,828.1 C1557.6,828.7 1559.5,829.3 1561.4,829.9 C1563.3,830.4 1565.2,831 1567.2,831.6 C1569.1,832.2 1571,832.8 1572.9,833.4 C1574.8,834 1576.8,834.6 1578.7,835.2 C1580.6,835.7 1582.5,836.3 1584.4,836.9 C1586.4,837.5 1588.3,838.1 1590.2,838.7 C1592.1,839.3 1594,839.9 1596,840.5 C1597.9,841 1599.8,841.6 1601.7,842.2 C1603.6,842.8 1605.6,843.4 1607.5,844 C1609.4,844.6 1611.3,845.2 1613.2,845.7 C1615.2,846.3 1617.1,846.9 1619,847.5 C1620.9,848.1 1622.8,848.7 1624.8,849.3 C1626.7,849.9 1628.6,850.4 1630.5,851 C1632.5,851.6 1634.4,852.2 1636.3,852.8 C1638.2,853.4 1640.2,854 1642.1,854.5 C1644,855.1 1645.9,855.7 1647.8,856.3 C1649.8,856.9 1651.7,857.5 1653.6,858.1 C1655.5,858.7 1657.5,859.2 1659.4,859.8 C1661.3,860.4 1663.2,861 1665.2,861.6 C1667.1,862.2 1669,862.8 1670.9,863.3 C1672.9,863.9 1674.8,864.5 1676.7,865.1 C1678.6,865.7 1680.6,866.3 1682.5,866.9 C1684.4,867.4 1686.3,868 1688.3,868.6 C1690.2,869.2 1692.1,869.8 1694,870.4 C1696,871 1697.9,871.5 1699.8,872.1 C1701.8,872.7 1703.7,873.3 1705.6,873.9 C1707.5,874.5 1709.5,875.1 1711.4,875.6 C1713.3,876.2 1715.2,876.8 1717.2,877.4 C1719.1,878 1721,878.6 1723,879.2 C1724.9,879.7 1726.8,880.3 1728.8,880.9 C1730.7,881.5 1732.6,882.1 1734.5,882.7 C1736.5,883.3 1738.4,883.8 1740.3,884.4 C1742.3,885 1744.2,885.6 1746.1,886.2 C1748.1,886.8 1750,887.4 1751.9,887.9 C1753.8,888.5 1755.8,889.1 1757.7,889.7 C1759.6,890.3 1761.6,890.9 1763.5,891.5 C1765.4,892 1767.4,892.6 1769.3,893.2 C1771.2,893.8 1773.2,894.4 1775.1,895 C1777,895.6 1779,896.1 1780.9,896.7 C1782.8,897.3 1784.8,897.9 1786.7,898.5 C1788.6,899.1 1790.6,899.7 1792.5,900.2 C1794.4,900.8 1797.3,901.7 1798.3,902" fill="none" stroke="#0000ff" stroke-width="9" stroke-linecap="round" stroke-linejoin="round" stroke-dasharray="38.8 51.9" stroke-dashoffset="69.7"/>
<rect x="391" y="1424.1" width="37" height="37" fill="#fff" stroke="#000000" stroke-width="9.5"/>
<rect x="571.8" y="1299.8" width="37" height="37" fill="#fff" stroke="#000000" stroke-width="9.5"/>
<rect x="1780" y="890.7" width="37" height="37" fill="#fff" stroke="#000000" stroke-width="9.5"/>
<circle cx="348.9" cy="1461.2" r="17.2" fill="#fff" stroke="#ff0000" stroke-width="7.6"/>
<circle cx="409.2" cy="1359.6" r="17.2" fill="#fff" stroke="#ff0000" stroke-width="7.6"/>
<circle cx="590.8" cy="1165.7" r="17.2" fill="#fff" stroke="#ff0000" stroke-width="7.6"/>
<circle cx="1798.5" cy="958.6" r="17.2" fill="#fff" stroke="#ff0000" stroke-width="7.6"/>
<polygon points="409.6,698 427.7,730.4 391.5,730.4" fill="#fff" stroke="#0000ff" stroke-width="8.3" stroke-linejoin="miter"/>
<polygon points="589.3,458.7 607.4,491.1 571.2,491.1" fill="#fff" stroke="#0000ff" stroke-width="8.3" stroke-linejoin="miter"/>
<polygon points="1074,664.5 1092.1,696.9 1055.9,696.9" fill="#fff" stroke="#0000ff" stroke-width="8.3" stroke-linejoin="miter"/>
<polygon points="1798.3,879.5 1816.4,911.9 1780.2,911.9" fill="#fff" stroke="#0000ff" stroke-width="8.3" stroke-linejoin="miter"/>
<line x1="349.3" y1="1524.8" x2="349.3" y2="1551.8" stroke="#000000" stroke-width="5" stroke-linecap="butt"/>
<line x1="349.3" y1="212.3" x2="349.3" y2="239.3" stroke="#000000" stroke-width="5" stroke-linecap="butt"/>
<line x1="470" y1="1524.8" x2="470" y2="1538.3" stroke="#000000" stroke-width="5" stroke-linecap="butt"/>
<line x1="470" y1="212.3" x2="470" y2="225.8" stroke="#000000" stroke-width="5" stroke-linecap="butt"/>
<line x1="590.8" y1="1524.8" x2="590.8" y2="1551.8" stroke="#000000" stroke-width="5" stroke-linecap="butt"/>
<line x1="590.8" y1="212.3" x2="590.8" y2="239.3" stroke="#000000" stroke-width="5" stroke-linecap="butt"/>
<line x1="711.5" y1="1524.8" x2="711.5" y2="1538.3" stroke="#000000" stroke-width="5" stroke-linecap="butt"/>
<line x1="711.5" y1="212.3" x2="711.5" y2="225.8" stroke="#000000" stroke-width="5" stroke-linecap="butt"/>
<line x1="832.3" y1="1524.8" x2="832.3" y2="1551.8" stroke="#000000" stroke-width="5" stroke-linecap="butt"/>
<line x1="832.3" y1="212.3" x2="832.3" y2="239.3" stroke="#000000" stroke-width="5" stroke-linecap="butt"/>
<line x1="953" y1="1524.8" x2="953" y2="1538.3" stroke="#000000" stroke-width="5" stroke-linecap="butt"/>
<line x1="953" y1="212.3" x2="953" y2="225.8" stroke="#000000" stroke-width="5" stroke-linecap="butt"/>
<line x1="1073.7" y1="1524.8" x2="1073.7" y2="1551.8" stroke="#000000" stroke-width="5" stroke-linecap="butt"/>
<line x1="1073.7" y1="212.3" x2="1073.7" y2="239.3" stroke="#000000" stroke-width="5" stroke-linecap="butt"/>
<line x1="1194.5" y1="1524.8" x2="1194.5" y2="1538.3" stroke="#000000" stroke-width="5" stroke-linecap="butt"/>
<line x1="1194.5" y1="212.3" x2="1194.5" y2="225.8" stroke="#000000" stroke-width="5" stroke-linecap="butt"/>
<line x1="1315.2" y1="1524.8" x2="1315.2" y2="1551.8" stroke="#000000" stroke-width="5" stroke-linecap="butt"/>
<line x1="1315.2" y1="212.3" x2="1315.2" y2="239.3" stroke="#000000" stroke-width="5" stroke-linecap="butt"/>
<line x1="1436" y1="1524.8" x2="1436" y2="1538.3" stroke="#000000" stroke-width="5" stroke-linecap="butt"/>
<line x1="1436" y1="212.3" x2="1436" y2="225.8" stroke="#000000" stroke-width="5" stroke-linecap="butt"/>
<line x1="1556.7" y1="1524.8" x2="1556.7" y2="1551.8" stroke="#000000" stroke-width="5" stroke-linecap="butt"/>
<line x1="1556.7" y1="212.3" x2="1556.7" y2="239.3" stroke="#000000" stroke-width="5" stroke-linecap="butt"/>
<line x1="1677.4" y1="1524.8" x2="1677.4" y2="1538.3" stroke="#000000" stroke-width="5" stroke-linecap="butt"/>
<line x1="1677.4" y1="212.3" x2="1677.4" y2="225.8" stroke="#000000" stroke-width="5" stroke-linecap="butt"/>
<line x1="1798.2" y1="1524.8" x2="1798.2" y2="1551.8" stroke="#000000" stroke-width="5" stroke-linecap="butt"/>
<line x1="1798.2" y1="212.3" x2="1798.2" y2="239.3" stroke="#000000" stroke-width="5" stroke-linecap="butt"/>
<line x1="1918.9" y1="1524.8" x2="1918.9" y2="1538.3" stroke="#000000" stroke-width="5" stroke-linecap="butt"/>
<line x1="1918.9" y1="212.3" x2="1918.9" y2="225.8" stroke="#000000" stroke-width="5" stroke-linecap="butt"/>
<line x1="262.4" y1="1462" x2="289.4" y2="1462" stroke="#000000" stroke-width="5" stroke-linecap="butt"/>
<line x1="1892.6" y1="1462" x2="1919.6" y2="1462" stroke="#000000" stroke-width="5" stroke-linecap="butt"/>
<line x1="275.9" y1="1337" x2="289.4" y2="1337" stroke="#000000" stroke-width="5" stroke-linecap="butt"/>
<line x1="1906.1" y1="1337" x2="1919.6" y2="1337" stroke="#000000" stroke-width="5" stroke-linecap="butt"/>
<line x1="262.4" y1="1212.1" x2="289.4" y2="1212.1" stroke="#000000" stroke-width="5" stroke-linecap="butt"/>
<line x1="1892.6" y1="1212.1" x2="1919.6" y2="1212.1" stroke="#000000" stroke-width="5" stroke-linecap="butt"/>
<line x1="275.9" y1="1087.1" x2="289.4" y2="1087.1" stroke="#000000" stroke-width="5" stroke-linecap="butt"/>
<line x1="1906.1" y1="1087.1" x2="1919.6" y2="1087.1" stroke="#000000" stroke-width="5" stroke-linecap="butt"/>
<line x1="262.4" y1="962.1" x2="289.4" y2="962.1" stroke="#000000" stroke-width="5" stroke-linecap="butt"/>
<line x1="1892.6" y1="962.1" x2="1919.6" y2="962.1" stroke="#000000" stroke-width="5" stroke-linecap="butt"/>
<line x1="275.9" y1="837.1" x2="289.4" y2="837.1" stroke="#000000" stroke-width="5" stroke-linecap="butt"/>
<line x1="1906.1" y1="837.1" x2="1919.6" y2="837.1" stroke="#000000" stroke-width="5" stroke-linecap="butt"/>
<line x1="262.4" y1="712.2" x2="289.4" y2="712.2" stroke="#000000" stroke-width="5" stroke-linecap="butt"/>
<line x1="1892.6" y1="712.2" x2="1919.6" y2="712.2" stroke="#000000" stroke-width="5" stroke-linecap="butt"/>
<line x1="275.9" y1="587.2" x2="289.4" y2="587.2" stroke="#000000" stroke-width="5" stroke-linecap="butt"/>
<line x1="1906.1" y1="587.2" x2="1919.6" y2="587.2" stroke="#000000" stroke-width="5" stroke-linecap="butt"/>
<line x1="262.4" y1="462.2" x2="289.4" y2="462.2" stroke="#000000" stroke-width="5" stroke-linecap="butt"/>
<line x1="1892.6" y1="462.2" x2="1919.6" y2="462.2" stroke="#000000" stroke-width="5" stroke-linecap="butt"/>
<line x1="275.9" y1="337.3" x2="289.4" y2="337.3" stroke="#000000" stroke-width="5" stroke-linecap="butt"/>
<line x1="1906.1" y1="337.3" x2="1919.6" y2="337.3" stroke="#000000" stroke-width="5" stroke-linecap="butt"/>
<line x1="262.4" y1="212.3" x2="289.4" y2="212.3" stroke="#000000" stroke-width="5" stroke-linecap="butt"/>
<line x1="1892.6" y1="212.3" x2="1919.6" y2="212.3" stroke="#000000" stroke-width="5" stroke-linecap="butt"/>
<rect x="289.4" y="212.3" width="1630.2" height="1312.5" fill="none" stroke="#000" stroke-width="5"/>
<text transform="translate(246.2,1478.8) scale(1,1.04)" font-size="56" text-anchor="end" font-family="'Liberation Sans', Arial, sans-serif" font-weight="normal">0</text>
<text transform="translate(246.2,1228.9) scale(1,1.04)" font-size="56" text-anchor="end" font-family="'Liberation Sans', Arial, sans-serif" font-weight="normal">20</text>
<text transform="translate(246.2,978.9) scale(1,1.04)" font-size="56" text-anchor="end" font-family="'Liberation Sans', Arial, sans-serif" font-weight="normal">40</text>
<text transform="translate(246.2,729) scale(1,1.04)" font-size="56" text-anchor="end" font-family="'Liberation Sans', Arial, sans-serif" font-weight="normal">60</text>
<text transform="translate(246.2,479) scale(1,1.04)" font-size="56" text-anchor="end" font-family="'Liberation Sans', Arial, sans-serif" font-weight="normal">80</text>
<text transform="translate(246.2,229.1) scale(1,1.04)" font-size="56" text-anchor="end" font-family="'Liberation Sans', Arial, sans-serif" font-weight="normal">100</text>
<text transform="translate(349.3,1611.5) scale(1,1.04)" font-size="56" text-anchor="middle" font-family="'Liberation Sans', Arial, sans-serif" font-weight="normal">0</text>
<text transform="translate(590.8,1611.5) scale(1,1.04)" font-size="56" text-anchor="middle" font-family="'Liberation Sans', Arial, sans-serif" font-weight="normal">20</text>
<text transform="translate(832.3,1611.5) scale(1,1.04)" font-size="56" text-anchor="middle" font-family="'Liberation Sans', Arial, sans-serif" font-weight="normal">40</text>
<text transform="translate(1073.7,1611.5) scale(1,1.04)" font-size="56" text-anchor="middle" font-family="'Liberation Sans', Arial, sans-serif" font-weight="normal">60</text>
<text transform="translate(1315.2,1611.5) scale(1,1.04)" font-size="56" text-anchor="middle" font-family="'Liberation Sans', Arial, sans-serif" font-weight="normal">80</text>
<text transform="translate(1556.7,1611.5) scale(1,1.04)" font-size="56" text-anchor="middle" font-family="'Liberation Sans', Arial, sans-serif" font-weight="normal">100</text>
<text transform="translate(1798.2,1611.5) scale(1,1.04)" font-size="56" text-anchor="middle" font-family="'Liberation Sans', Arial, sans-serif" font-weight="normal">120</text>
<text transform="translate(1105.3,1724.4) scale(1,1.04)" font-size="77.9" text-anchor="middle" font-family="'Liberation Sans', Arial, sans-serif" font-weight="normal">Treatment time (s)</text>
<text transform="translate(122.2,866.4) rotate(-90) scale(1,1.035)" font-size="77.3" text-anchor="middle" font-family="'Liberation Sans', Arial, sans-serif">Relative variation of O1s/C1s (%)</text>
<text transform="translate(950,1857.9) scale(1,1.0)" font-size="86" text-anchor="middle" font-family="'Liberation Serif', 'Times New Roman', serif" font-weight="normal">(</text>
<text transform="translate(984.5,1857.9) scale(1,1.0)" font-size="86" text-anchor="middle" font-family="'Liberation Serif', 'Times New Roman', serif" font-weight="bold">a</text>
<text transform="translate(1017,1857.9) scale(1,1.0)" font-size="86" text-anchor="middle" font-family="'Liberation Serif', 'Times New Roman', serif" font-weight="normal">)</text>
<rect x="710" y="41" width="1096" height="346" fill="#000"/>
<rect x="691" y="23" width="1096" height="345" fill="#fff" stroke="#000" stroke-width="2"/>
<text transform="translate(699.6,93) scale(1,1.04)" font-size="68.1" text-anchor="start" font-family="'Liberation Sans', Arial, sans-serif" font-weight="normal">He-DBD Plasma</text>
<text transform="translate(1296,92.6) scale(1,1.04)" font-size="68.1" text-anchor="start" font-family="'Liberation Sans', Arial, sans-serif" font-weight="normal">Ar-DBD Plasma</text>
<text transform="translate(870.8,176) scale(1,1.04)" font-size="68.1" text-anchor="start" font-family="'Liberation Sans', Arial, sans-serif" font-weight="normal">Paper</text>
<text transform="translate(870.8,260) scale(1,1.04)" font-size="68.1" text-anchor="start" font-family="'Liberation Sans', Arial, sans-serif" font-weight="normal">F-Paper</text>
<text transform="translate(870.8,343.7) scale(1,1.04)" font-size="68.1" text-anchor="start" font-family="'Liberation Sans', Arial, sans-serif" font-weight="normal">PSU</text>
<text transform="translate(1452.9,176) scale(1,1.04)" font-size="68.1" text-anchor="start" font-family="'Liberation Sans', Arial, sans-serif" font-weight="normal">Paper</text>
<text transform="translate(1459.6,260) scale(1,1.04)" font-size="68.1" text-anchor="start" font-family="'Liberation Sans', Arial, sans-serif" font-weight="normal">F-Paper</text>
<text transform="translate(1467.3,343.7) scale(1,1.04)" font-size="68.1" text-anchor="start" font-family="'Liberation Sans', Arial, sans-serif" font-weight="normal">PSU</text>
<line x1="700.6" y1="154" x2="741.1" y2="154" stroke="#000000" stroke-width="9.3" stroke-linecap="round"/>
<line x1="811.9" y1="154" x2="853.4" y2="154" stroke="#000000" stroke-width="9.3" stroke-linecap="round"/>
<line x1="700.6" y1="238" x2="749.6" y2="238" stroke="#ff0000" stroke-width="9.3" stroke-linecap="round"/>
<line x1="804.6" y1="238" x2="853.4" y2="238" stroke="#ff0000" stroke-width="9.3" stroke-linecap="round"/>
<line x1="700.6" y1="321.3" x2="749.6" y2="321.3" stroke="#0000ff" stroke-width="9.3" stroke-linecap="round"/>
<line x1="804.6" y1="321.3" x2="853.4" y2="321.3" stroke="#0000ff" stroke-width="9.3" stroke-linecap="round"/>
<rect x="753.2" y="130.2" width="46.5" height="46.5" fill="#000000"/>
<circle cx="776" cy="237.1" r="20.9" fill="#ff0000"/>
<polygon points="776,292.6 801.2,336.7 750.8,336.7" fill="#0000ff"/>
<line x1="1300.7" y1="153.7" x2="1338.9" y2="153.7" stroke="#000000" stroke-width="9.3" stroke-linecap="round"/>
<line x1="1412.1" y1="153.7" x2="1450" y2="153.7" stroke="#000000" stroke-width="9.3" stroke-linecap="round"/>
<rect x="1358" y="134.8" width="37" height="37" fill="#fff" stroke="#000000" stroke-width="9.5"/>
<line x1="1308" y1="237.6" x2="1346.2" y2="237.6" stroke="#ff0000" stroke-width="9.3" stroke-linecap="round"/>
<line x1="1412.1" y1="237.6" x2="1450" y2="237.6" stroke="#ff0000" stroke-width="9.3" stroke-linecap="round"/>
<circle cx="1383.6" cy="237.5" r="16.8" fill="#fff" stroke="#ff0000" stroke-width="7.5"/>
<line x1="1315.7" y1="321.7" x2="1354.9" y2="321.7" stroke="#0000ff" stroke-width="9.3" stroke-linecap="round"/>
<line x1="1419.7" y1="321.7" x2="1459" y2="321.7" stroke="#0000ff" stroke-width="9.3" stroke-linecap="round"/>
<polygon points="1391.7,301.7 1409.6,333.5 1373.8,333.5" fill="#fff" stroke="#0000ff" stroke-width="8" stroke-linejoin="miter"/>
<path d="M370.6,3360.2 L610.9,3339.8 L1809,3273" fill="none" stroke="#000000" stroke-width="5.4" stroke-linecap="round" stroke-linejoin="round"/>
<path d="M370.6,3360.2 C371.2,3359.4 372.9,3356.9 374.1,3355.2 C375.3,3353.6 376.4,3352 377.6,3350.3 C378.8,3348.7 380,3347 381.2,3345.4 C382.4,3343.8 383.6,3342.1 384.8,3340.5 C386,3338.9 387.2,3337.3 388.4,3335.6 C389.6,3334 390.8,3332.4 392.1,3330.8 C393.3,3329.2 394.5,3327.6 395.7,3326 C397,3324.4 398.2,3322.8 399.5,3321.2 C400.7,3319.6 402,3318 403.2,3316.5 C404.5,3314.9 405.7,3313.3 407,3311.7 C408.3,3310.2 409.5,3308.6 410.8,3307 C412.1,3305.5 413.4,3303.9 414.7,3302.4 C416,3300.8 417.3,3299.3 418.6,3297.7 C419.9,3296.2 421.2,3294.6 422.5,3293.1 C423.8,3291.6 425.1,3290.1 426.4,3288.5 C427.7,3287 429.1,3285.5 430.4,3284 C431.7,3282.5 433.1,3281 434.4,3279.5 C435.8,3278 437.1,3276.5 438.5,3275 C439.8,3273.5 441.2,3272 442.5,3270.5 C443.9,3269 445.3,3267.6 446.7,3266.1 C448,3264.6 449.4,3263.2 450.8,3261.7 C452.2,3260.3 453.6,3258.8 455,3257.4 C456.4,3255.9 457.8,3254.5 459.2,3253 C460.6,3251.6 462,3250.2 463.4,3248.8 C464.9,3247.3 466.3,3245.9 467.7,3244.5 C469.2,3243.1 470.6,3241.7 472,3240.3 C473.5,3238.9 474.9,3237.5 476.4,3236.1 C477.8,3234.7 479.3,3233.4 480.8,3232 C482.2,3230.6 483.7,3229.3 485.2,3227.9 C486.7,3226.5 488.1,3225.2 489.6,3223.8 C491.1,3222.5 492.6,3221.1 494.1,3219.8 C495.6,3218.5 497.1,3217.2 498.6,3215.8 C500.1,3214.5 501.6,3213.2 503.2,3211.9 C504.7,3210.6 506.2,3209.3 507.8,3208 C509.3,3206.7 510.8,3205.4 512.4,3204.1 C513.9,3202.9 515.5,3201.6 517,3200.3 C518.6,3199 520.1,3197.8 521.7,3196.5 C523.3,3195.3 524.8,3194 526.4,3192.8 C528,3191.6 529.6,3190.3 531.2,3189.1 C532.7,3187.9 534.3,3186.7 535.9,3185.5 C537.5,3184.3 539.1,3183.1 540.8,3181.9 C542.4,3180.7 544,3179.5 545.6,3178.3 C547.2,3177.1 548.9,3176 550.5,3174.8 C552.1,3173.6 553.8,3172.5 555.4,3171.3 C557,3170.2 558.7,3169 560.3,3167.9 C562,3166.7 563.6,3165.6 565.3,3164.5 C567,3163.4 568.6,3162.2 570.3,3161.1 C572,3160 573.7,3158.9 575.3,3157.8 C577,3156.7 578.7,3155.6 580.4,3154.5 C582.1,3153.4 583.8,3152.4 585.5,3151.3 C587.2,3150.2 588.9,3149.1 590.6,3148.1 C592.3,3147 594,3146 595.7,3144.9 C597.4,3143.9 599.2,3142.8 600.9,3141.8 C602.6,3140.7 604.3,3139.7 606.1,3138.7 C607.8,3137.6 609.5,3136.6 611.3,3135.6 C613,3134.6 614.7,3133.6 616.5,3132.6 C618.2,3131.6 620,3130.6 621.7,3129.6 C623.5,3128.6 625.3,3127.6 627,3126.6 C628.8,3125.6 630.5,3124.7 632.3,3123.7 C634.1,3122.7 635.9,3121.8 637.6,3120.8 C639.4,3119.8 641.2,3118.9 643,3117.9 C644.7,3117 646.5,3116 648.3,3115.1 C650.1,3114.1 651.9,3113.2 653.7,3112.3 C655.5,3111.3 657.3,3110.4 659.1,3109.5 C660.9,3108.6 662.7,3107.7 664.5,3106.7 C666.3,3105.8 668.1,3104.9 669.9,3104 C671.7,3103.1 673.5,3102.2 675.3,3101.3 C677.1,3100.4 679,3099.5 680.8,3098.6 C682.6,3097.8 684.4,3096.9 686.2,3096 C688.1,3095.1 689.9,3094.2 691.7,3093.4 C693.5,3092.5 695.4,3091.6 697.2,3090.8 C699,3089.9 700.9,3089.1 702.7,3088.2 C704.5,3087.4 706.4,3086.5 708.2,3085.7 C710.1,3084.8 711.9,3084 713.7,3083.1 C715.6,3082.3 717.4,3081.5 719.3,3080.6 C721.1,3079.8 723,3079 724.8,3078.2 C726.7,3077.3 728.5,3076.5 730.4,3075.7 C732.2,3074.9 734.1,3074.1 735.9,3073.3 C737.8,3072.5 739.6,3071.6 741.5,3070.8 C743.3,3070 745.2,3069.2 747,3068.4 C748.9,3067.6 750.8,3066.9 752.6,3066.1 C754.5,3065.3 756.3,3064.5 758.2,3063.7 C760.1,3062.9 761.9,3062.1 763.8,3061.4 C765.7,3060.6 767.5,3059.8 769.4,3059 C771.3,3058.3 773.1,3057.5 775,3056.7 C776.9,3056 778.7,3055.2 780.6,3054.4 C782.5,3053.7 784.3,3052.9 786.2,3052.2 C788.1,3051.4 789.9,3050.6 791.8,3049.9 C793.7,3049.2 795.6,3048.4 797.4,3047.7 C799.3,3046.9 801.2,3046.2 803.1,3045.4 C804.9,3044.7 806.8,3044 808.7,3043.2 C810.6,3042.5 812.5,3041.8 814.3,3041.1 C816.2,3040.3 818.1,3039.6 820,3038.9 C821.9,3038.2 823.7,3037.4 825.6,3036.7 C827.5,3036 829.4,3035.3 831.3,3034.6 C833.2,3033.9 835.1,3033.2 836.9,3032.5 C838.8,3031.8 840.7,3031.1 842.6,3030.4 C844.5,3029.7 846.4,3029 848.3,3028.3 C850.2,3027.6 852.1,3026.9 853.9,3026.2 C855.8,3025.5 857.7,3024.8 859.6,3024.2 C861.5,3023.5 863.4,3022.8 865.3,3022.1 C867.2,3021.5 869.1,3020.8 871,3020.1 C872.9,3019.4 874.8,3018.8 876.7,3018.1 C878.6,3017.4 880.5,3016.8 882.4,3016.1 C884.3,3015.4 886.2,3014.8 888.1,3014.1 C890,3013.5 891.9,3012.8 893.8,3012.2 C895.7,3011.5 897.6,3010.9 899.5,3010.2 C901.4,3009.6 903.3,3008.9 905.2,3008.3 C907.1,3007.6 909,3007 910.9,3006.4 C912.9,3005.7 914.8,3005.1 916.7,3004.5 C918.6,3003.8 920.5,3003.2 922.4,3002.6 C924.3,3001.9 926.2,3001.3 928.1,3000.7 C930,3000.1 932,2999.5 933.9,2998.8 C935.8,2998.2 937.7,2997.6 939.6,2997 C941.5,2996.4 943.4,2995.8 945.4,2995.1 C947.3,2994.5 949.2,2993.9 951.1,2993.3 C953,2992.7 954.9,2992.1 956.9,2991.5 C958.8,2990.9 960.7,2990.3 962.6,2989.7 C964.5,2989.1 966.5,2988.5 968.4,2987.9 C970.3,2987.4 972.2,2986.8 974.2,2986.2 C976.1,2985.6 978,2985 979.9,2984.4 C981.8,2983.8 983.8,2983.3 985.7,2982.7 C987.6,2982.1 989.6,2981.5 991.5,2980.9 C993.4,2980.4 995.3,2979.8 997.3,2979.2 C999.2,2978.7 1001.1,2978.1 1003,2977.5 C1005,2977 1006.9,2976.4 1008.8,2975.8 C1010.8,2975.3 1012.7,2974.7 1014.6,2974.1 C1016.6,2973.6 1018.5,2973 1020.4,2972.5 C1022.4,2971.9 1024.3,2971.4 1026.2,2970.8 C1028.2,2970.3 1030.1,2969.7 1032,2969.2 C1034,2968.6 1035.9,2968.1 1037.8,2967.5 C1039.8,2967 1041.7,2966.4 1043.6,2965.9 C1045.6,2965.4 1047.5,2964.8 1049.5,2964.3 C1051.4,2963.7 1053.3,2963.2 1055.3,2962.7 C1057.2,2962.1 1059.2,2961.6 1061.1,2961.1 C1063,2960.6 1065,2960 1066.9,2959.5 C1068.9,2959 1070.8,2958.4 1072.7,2957.9 C1074.7,2957.4 1076.6,2956.9 1078.6,2956.4 C1080.5,2955.8 1082.5,2955.3 1084.4,2954.8 C1086.4,2954.3 1088.3,2953.8 1090.2,2953.3 C1092.2,2952.8 1094.1,2952.2 1096.1,2951.7 C1098,2951.2 1100,2950.7 1101.9,2950.2 C1103.9,2949.7 1105.8,2949.2 1107.8,2948.7 C1109.7,2948.2 1111.7,2947.7 1113.6,2947.2 C1115.6,2946.7 1117.5,2946.2 1119.5,2945.7 C1121.4,2945.2 1123.4,2944.7 1125.3,2944.2 C1127.3,2943.7 1129.2,2943.2 1131.2,2942.7 C1133.1,2942.2 1135.1,2941.7 1137,2941.3 C1139,2940.8 1140.9,2940.3 1142.9,2939.8 C1144.8,2939.3 1146.8,2938.8 1148.8,2938.3 C1150.7,2937.9 1152.7,2937.4 1154.6,2936.9 C1156.6,2936.4 1158.5,2935.9 1160.5,2935.5 C1162.4,2935 1164.4,2934.5 1166.4,2934 C1168.3,2933.6 1170.3,2933.1 1172.2,2932.6 C1174.2,2932.1 1176.1,2931.7 1178.1,2931.2 C1180.1,2930.7 1182,2930.3 1184,2929.8 C1185.9,2929.3 1187.9,2928.9 1189.9,2928.4 C1191.8,2927.9 1193.8,2927.5 1195.7,2927 C1197.7,2926.5 1199.7,2926.1 1201.6,2925.6 C1203.6,2925.2 1205.6,2924.7 1207.5,2924.2 C1209.5,2923.8 1211.4,2923.3 1213.4,2922.9 C1215.4,2922.4 1217.3,2922 1219.3,2921.5 C1221.3,2921 1223.2,2920.6 1225.2,2920.1 C1227.1,2919.7 1229.1,2919.2 1231.1,2918.8 C1233,2918.3 1235,2917.9 1237,2917.4 C1238.9,2917 1240.9,2916.5 1242.9,2916.1 C1244.8,2915.7 1246.8,2915.2 1248.8,2914.8 C1250.7,2914.3 1252.7,2913.9 1254.7,2913.4 C1256.6,2913 1258.6,2912.6 1260.6,2912.1 C1262.5,2911.7 1264.5,2911.2 1266.5,2910.8 C1268.4,2910.4 1270.4,2909.9 1272.4,2909.5 C1274.3,2909 1276.3,2908.6 1278.3,2908.2 C1280.2,2907.7 1282.2,2907.3 1284.2,2906.9 C1286.2,2906.4 1288.1,2906 1290.1,2905.6 C1292.1,2905.1 1294,2904.7 1296,2904.3 C1298,2903.9 1299.9,2903.4 1301.9,2903 C1303.9,2902.6 1305.9,2902.1 1307.8,2901.7 C1309.8,2901.3 1311.8,2900.9 1313.7,2900.4 C1315.7,2900 1317.7,2899.6 1319.7,2899.2 C1321.6,2898.7 1323.6,2898.3 1325.6,2897.9 C1327.5,2897.5 1329.5,2897 1331.5,2896.6 C1333.5,2896.2 1335.4,2895.8 1337.4,2895.3 C1339.4,2894.9 1341.3,2894.5 1343.3,2894.1 C1345.3,2893.7 1347.3,2893.2 1349.2,2892.8 C1351.2,2892.4 1353.2,2892 1355.2,2891.6 C1357.1,2891.2 1359.1,2890.7 1361.1,2890.3 C1363,2889.9 1365,2889.5 1367,2889.1 C1369,2888.7 1370.9,2888.2 1372.9,2887.8 C1374.9,2887.4 1376.9,2887 1378.8,2886.6 C1380.8,2886.2 1382.8,2885.7 1384.8,2885.3 C1386.7,2884.9 1388.7,2884.5 1390.7,2884.1 C1392.7,2883.7 1394.6,2883.3 1396.6,2882.9 C1398.6,2882.4 1400.6,2882 1402.5,2881.6 C1404.5,2881.2 1406.5,2880.8 1408.5,2880.4 C1410.4,2880 1412.4,2879.6 1414.4,2879.2 C1416.4,2878.7 1418.3,2878.3 1420.3,2877.9 C1422.3,2877.5 1424.3,2877.1 1426.2,2876.7 C1428.2,2876.3 1430.2,2875.9 1432.2,2875.5 C1434.1,2875.1 1436.1,2874.6 1438.1,2874.2 C1440.1,2873.8 1442,2873.4 1444,2873 C1446,2872.6 1448,2872.2 1449.9,2871.8 C1451.9,2871.4 1453.9,2871 1455.9,2870.6 C1457.8,2870.1 1459.8,2869.7 1461.8,2869.3 C1463.8,2868.9 1465.7,2868.5 1467.7,2868.1 C1469.7,2867.7 1471.7,2867.3 1473.6,2866.9 C1475.6,2866.5 1477.6,2866.1 1479.6,2865.7 C1481.5,2865.2 1483.5,2864.8 1485.5,2864.4 C1487.5,2864 1489.4,2863.6 1491.4,2863.2 C1493.4,2862.8 1495.4,2862.4 1497.3,2862 C1499.3,2861.6 1501.3,2861.2 1503.3,2860.7 C1505.2,2860.3 1507.2,2859.9 1509.2,2859.5 C1511.2,2859.1 1513.1,2858.7 1515.1,2858.3 C1517.1,2857.9 1519.1,2857.5 1521,2857.1 C1523,2856.7 1525,2856.2 1527,2855.8 C1528.9,2855.4 1530.9,2855 1532.9,2854.6 C1534.8,2854.2 1536.8,2853.8 1538.8,2853.4 C1540.8,2853 1542.7,2852.5 1544.7,2852.1 C1546.7,2851.7 1548.7,2851.3 1550.6,2850.9 C1552.6,2850.5 1554.6,2850.1 1556.5,2849.6 C1558.5,2849.2 1560.5,2848.8 1562.5,2848.4 C1564.4,2848 1566.4,2847.6 1568.4,2847.2 C1570.4,2846.7 1572.3,2846.3 1574.3,2845.9 C1576.3,2845.5 1578.2,2845.1 1580.2,2844.7 C1582.2,2844.2 1584.2,2843.8 1586.1,2843.4 C1588.1,2843 1590.1,2842.6 1592,2842.2 C1594,2841.7 1596,2841.3 1597.9,2840.9 C1599.9,2840.5 1601.9,2840.1 1603.9,2839.6 C1605.8,2839.2 1607.8,2838.8 1609.8,2838.4 C1611.7,2838 1613.7,2837.5 1615.7,2837.1 C1617.6,2836.7 1619.6,2836.3 1621.6,2835.8 C1623.5,2835.4 1625.5,2835 1627.5,2834.6 C1629.4,2834.1 1631.4,2833.7 1633.4,2833.3 C1635.3,2832.9 1637.3,2832.4 1639.3,2832 C1641.2,2831.6 1643.2,2831.1 1645.2,2830.7 C1647.1,2830.3 1649.1,2829.8 1651.1,2829.4 C1653,2829 1655,2828.6 1657,2828.1 C1658.9,2827.7 1660.9,2827.3 1662.9,2826.8 C1664.8,2826.4 1666.8,2825.9 1668.8,2825.5 C1670.7,2825.1 1672.7,2824.6 1674.6,2824.2 C1676.6,2823.8 1678.6,2823.3 1680.5,2822.9 C1682.5,2822.4 1684.5,2822 1686.4,2821.6 C1688.4,2821.1 1690.3,2820.7 1692.3,2820.2 C1694.3,2819.8 1696.2,2819.3 1698.2,2818.9 C1700.1,2818.5 1702.1,2818 1704.1,2817.6 C1706,2817.1 1708,2816.7 1709.9,2816.2 C1711.9,2815.8 1713.9,2815.3 1715.8,2814.9 C1717.8,2814.4 1719.7,2814 1721.7,2813.5 C1723.7,2813.1 1725.6,2812.6 1727.6,2812.1 C1729.5,2811.7 1731.5,2811.2 1733.4,2810.8 C1735.4,2810.3 1737.3,2809.9 1739.3,2809.4 C1741.3,2808.9 1743.2,2808.5 1745.2,2808 C1747.1,2807.5 1749.1,2807.1 1751,2806.6 C1753,2806.2 1754.9,2805.7 1756.9,2805.2 C1758.8,2804.8 1760.8,2804.3 1762.7,2803.8 C1764.7,2803.3 1766.6,2802.9 1768.6,2802.4 C1770.5,2801.9 1772.5,2801.5 1774.4,2801 C1776.4,2800.5 1778.3,2800 1780.3,2799.6 C1782.2,2799.1 1784.2,2798.6 1786.1,2798.1 C1788.1,2797.6 1790,2797.2 1792,2796.7 C1793.9,2796.2 1795.9,2795.7 1797.8,2795.2 C1799.8,2794.7 1801.7,2794.3 1803.7,2793.8 C1805.6,2793.3 1808.5,2792.5 1809.5,2792.3" fill="none" stroke="#ff0000" stroke-width="9" stroke-linecap="round" stroke-linejoin="round"/>
<path d="M370.6,3360.2 C370.8,3359.2 371.3,3356.3 371.6,3354.3 C372,3352.3 372.4,3350.3 372.7,3348.4 C373.1,3346.4 373.5,3344.4 373.9,3342.5 C374.3,3340.5 374.7,3338.6 375.1,3336.6 C375.5,3334.6 375.9,3332.7 376.4,3330.7 C376.8,3328.8 377.2,3326.8 377.7,3324.8 C378.1,3322.9 378.6,3320.9 379,3319 C379.5,3317 380,3315.1 380.4,3313.1 C380.9,3311.2 381.4,3309.2 381.9,3307.3 C382.4,3305.3 382.8,3303.4 383.3,3301.4 C383.8,3299.5 384.3,3297.5 384.9,3295.6 C385.4,3293.6 385.9,3291.7 386.4,3289.8 C386.9,3287.8 387.4,3285.9 388,3283.9 C388.5,3282 389,3280.1 389.6,3278.1 C390.1,3276.2 390.7,3274.2 391.2,3272.3 C391.8,3270.4 392.3,3268.4 392.9,3266.5 C393.4,3264.6 394,3262.6 394.5,3260.7 C395.1,3258.8 395.7,3256.8 396.2,3254.9 C396.8,3253 397.4,3251 398,3249.1 C398.5,3247.2 399.1,3245.3 399.7,3243.3 C400.3,3241.4 400.8,3239.5 401.4,3237.6 C402,3235.6 402.6,3233.7 403.2,3231.8 C403.8,3229.9 404.3,3227.9 404.9,3226 C405.5,3224.1 406.1,3222.2 406.7,3220.3 C407.3,3218.3 407.9,3216.4 408.5,3214.5 C409.1,3212.6 409.6,3210.7 410.2,3208.8 C410.8,3206.8 411.4,3204.9 412,3203 C412.6,3201.1 413.2,3199.2 413.7,3197.3 C414.3,3195.4 414.9,3193.4 415.5,3191.5 C416.1,3189.6 416.7,3187.7 417.2,3185.8 C417.8,3183.9 418.4,3182 419,3180.1 C419.6,3178.2 420.2,3176.3 420.7,3174.3 C421.3,3172.4 421.9,3170.5 422.5,3168.6 C423,3166.7 423.6,3164.8 424.2,3162.9 C424.8,3161 425.4,3159.1 425.9,3157.2 C426.5,3155.3 427.1,3153.4 427.7,3151.5 C428.3,3149.6 428.8,3147.7 429.4,3145.8 C430,3143.9 430.6,3142 431.2,3140.1 C431.7,3138.2 432.3,3136.3 432.9,3134.4 C433.5,3132.5 434.1,3130.6 434.7,3128.7 C435.2,3126.8 435.8,3124.9 436.4,3123 C437,3121.1 437.6,3119.2 438.2,3117.3 C438.8,3115.4 439.3,3113.5 439.9,3111.6 C440.5,3109.7 441.1,3107.8 441.7,3105.9 C442.3,3104 442.9,3102.1 443.5,3100.3 C444.1,3098.4 444.7,3096.5 445.3,3094.6 C445.9,3092.7 446.5,3090.8 447.1,3088.9 C447.7,3087 448.3,3085.1 448.9,3083.2 C449.5,3081.3 450.1,3079.5 450.8,3077.6 C451.4,3075.7 452,3073.8 452.6,3071.9 C453.2,3070 453.8,3068.1 454.5,3066.2 C455.1,3064.4 455.7,3062.5 456.3,3060.6 C457,3058.7 457.6,3056.8 458.2,3054.9 C458.9,3053 459.5,3051.2 460.1,3049.3 C460.8,3047.4 461.4,3045.5 462.1,3043.6 C462.7,3041.7 463.4,3039.9 464,3038 C464.7,3036.1 465.3,3034.2 466,3032.3 C466.6,3030.5 467.3,3028.6 468,3026.7 C468.6,3024.8 469.3,3022.9 470,3021.1 C470.7,3019.2 471.3,3017.3 472,3015.4 C472.7,3013.5 473.4,3011.7 474.1,3009.8 C474.8,3007.9 475.5,3006 476.2,3004.2 C476.9,3002.3 477.6,3000.4 478.3,2998.5 C479,2996.6 479.7,2994.8 480.4,2992.9 C481.1,2991 481.9,2989.1 482.6,2987.3 C483.3,2985.4 484,2983.5 484.8,2981.6 C485.5,2979.8 486.3,2977.9 487,2976 C487.8,2974.1 488.5,2972.3 489.3,2970.4 C490,2968.5 490.8,2966.6 491.5,2964.8 C492.3,2962.9 493.1,2961 493.9,2959.2 C494.6,2957.3 495.4,2955.4 496.2,2953.6 C497,2951.7 497.8,2949.8 498.6,2948 C499.4,2946.1 500.2,2944.2 501,2942.4 C501.8,2940.5 502.6,2938.6 503.5,2936.8 C504.3,2934.9 505.1,2933 505.9,2931.2 C506.8,2929.3 507.6,2927.5 508.5,2925.6 C509.3,2923.8 510.2,2921.9 511,2920.1 C511.9,2918.2 512.7,2916.4 513.6,2914.5 C514.5,2912.7 515.3,2910.8 516.2,2909 C517.1,2907.2 518,2905.3 518.9,2903.5 C519.8,2901.7 520.7,2899.8 521.6,2898 C522.5,2896.2 523.4,2894.3 524.3,2892.5 C525.2,2890.7 526.1,2888.9 527.1,2887.1 C528,2885.2 528.9,2883.4 529.9,2881.6 C530.8,2879.8 531.8,2878 532.7,2876.2 C533.7,2874.4 534.6,2872.6 535.6,2870.8 C536.6,2869 537.5,2867.2 538.5,2865.4 C539.5,2863.6 540.5,2861.9 541.5,2860.1 C542.5,2858.3 543.5,2856.5 544.5,2854.8 C545.5,2853 546.5,2851.2 547.5,2849.5 C548.5,2847.7 549.5,2845.9 550.6,2844.2 C551.6,2842.4 552.7,2840.7 553.7,2839 C554.8,2837.2 555.8,2835.5 556.9,2833.7 C557.9,2832 559,2830.3 560.1,2828.6 C561.1,2826.8 562.2,2825.1 563.3,2823.4 C564.4,2821.7 565.5,2820 566.6,2818.3 C567.7,2816.6 568.8,2814.9 569.9,2813.2 C571.1,2811.5 572.2,2809.8 573.3,2808.2 C574.4,2806.5 575.6,2804.8 576.7,2803.2 C577.9,2801.5 579,2799.8 580.2,2798.2 C581.4,2796.5 582.5,2794.9 583.7,2793.3 C584.9,2791.6 586.1,2790 587.3,2788.4 C588.5,2786.8 589.7,2785.1 590.9,2783.5 C592.1,2781.9 593.3,2780.3 594.5,2778.7 C595.7,2777.1 597,2775.5 598.2,2774 C599.4,2772.4 600.7,2770.8 601.9,2769.2 C603.2,2767.7 604.5,2766.1 605.7,2764.6 C607,2763 608.3,2761.5 609.6,2759.9 C610.9,2758.4 612.1,2756.9 613.5,2755.4 C614.8,2753.8 616.1,2752.3 617.4,2750.8 C618.7,2749.3 620,2747.8 621.4,2746.3 C622.7,2744.9 624,2743.4 625.4,2741.9 C626.7,2740.4 628.1,2739 629.5,2737.5 C630.8,2736.1 632.2,2734.6 633.6,2733.2 C635,2731.8 636.4,2730.4 637.8,2728.9 C639.2,2727.5 640.6,2726.1 642,2724.7 C643.4,2723.3 644.9,2721.9 646.3,2720.5 C647.7,2719.2 649.2,2717.8 650.6,2716.4 C652.1,2715.1 653.5,2713.7 655,2712.4 C656.4,2711 657.9,2709.7 659.4,2708.3 C660.9,2707 662.4,2705.7 663.9,2704.4 C665.4,2703.1 666.9,2701.8 668.4,2700.5 C669.9,2699.2 671.4,2697.9 672.9,2696.6 C674.4,2695.3 676,2694.1 677.5,2692.8 C679,2691.5 680.6,2690.3 682.1,2689 C683.7,2687.8 685.2,2686.5 686.8,2685.3 C688.4,2684.1 689.9,2682.9 691.5,2681.6 C693.1,2680.4 694.7,2679.2 696.3,2678 C697.9,2676.8 699.5,2675.6 701.1,2674.5 C702.7,2673.3 704.3,2672.1 705.9,2670.9 C707.5,2669.8 709.1,2668.6 710.8,2667.5 C712.4,2666.3 714,2665.2 715.7,2664.1 C717.3,2662.9 718.9,2661.8 720.6,2660.7 C722.3,2659.6 723.9,2658.5 725.6,2657.4 C727.2,2656.3 728.9,2655.2 730.6,2654.1 C732.3,2653 734,2651.9 735.6,2650.9 C737.3,2649.8 739,2648.7 740.7,2647.7 C742.4,2646.6 744.1,2645.6 745.8,2644.5 C747.5,2643.5 749.3,2642.5 751,2641.5 C752.7,2640.4 754.4,2639.4 756.2,2638.4 C757.9,2637.4 759.6,2636.4 761.4,2635.4 C763.1,2634.4 764.9,2633.5 766.6,2632.5 C768.4,2631.5 770.1,2630.5 771.9,2629.6 C773.6,2628.6 775.4,2627.7 777.2,2626.7 C779,2625.8 780.7,2624.9 782.5,2623.9 C784.3,2623 786.1,2622.1 787.9,2621.2 C789.7,2620.3 791.4,2619.4 793.2,2618.5 C795,2617.6 796.8,2616.7 798.7,2615.8 C800.5,2614.9 802.3,2614 804.1,2613.2 C805.9,2612.3 807.7,2611.4 809.6,2610.6 C811.4,2609.7 813.2,2608.9 815,2608 C816.9,2607.2 818.7,2606.4 820.5,2605.6 C822.4,2604.7 824.2,2603.9 826.1,2603.1 C827.9,2602.3 829.8,2601.5 831.6,2600.7 C833.5,2599.9 835.3,2599.1 837.2,2598.3 C839.1,2597.6 840.9,2596.8 842.8,2596 C844.7,2595.3 846.5,2594.5 848.4,2593.8 C850.3,2593 852.2,2592.3 854,2591.5 C855.9,2590.8 857.8,2590.1 859.7,2589.3 C861.6,2588.6 863.5,2587.9 865.4,2587.2 C867.3,2586.5 869.2,2585.8 871.1,2585.1 C873,2584.4 874.9,2583.7 876.8,2583.1 C878.7,2582.4 880.6,2581.7 882.5,2581 C884.4,2580.4 886.3,2579.7 888.2,2579.1 C890.1,2578.4 892.1,2577.8 894,2577.1 C895.9,2576.5 897.8,2575.9 899.8,2575.2 C901.7,2574.6 903.6,2574 905.5,2573.4 C907.5,2572.8 909.4,2572.2 911.3,2571.6 C913.3,2571 915.2,2570.4 917.1,2569.8 C919.1,2569.2 921,2568.7 923,2568.1 C924.9,2567.5 926.8,2567 928.8,2566.4 C930.7,2565.9 932.7,2565.3 934.6,2564.8 C936.6,2564.2 938.5,2563.7 940.5,2563.2 C942.4,2562.6 944.4,2562.1 946.3,2561.6 C948.3,2561.1 950.2,2560.6 952.2,2560.1 C954.1,2559.6 956.1,2559.1 958.1,2558.6 C960,2558.1 962,2557.6 963.9,2557.2 C965.9,2556.7 967.9,2556.2 969.8,2555.8 C971.8,2555.3 973.8,2554.8 975.7,2554.4 C977.7,2553.9 979.6,2553.5 981.6,2553.1 C983.6,2552.6 985.5,2552.2 987.5,2551.8 C989.5,2551.4 991.4,2550.9 993.4,2550.5 C995.4,2550.1 997.3,2549.7 999.3,2549.3 C1001.3,2548.9 1003.3,2548.5 1005.2,2548.1 C1007.2,2547.8 1009.2,2547.4 1011.1,2547 C1013.1,2546.6 1015.1,2546.3 1017.1,2545.9 C1019,2545.6 1021,2545.2 1023,2544.8 C1025,2544.5 1026.9,2544.2 1028.9,2543.8 C1030.9,2543.5 1032.9,2543.2 1034.8,2542.8 C1036.8,2542.5 1038.8,2542.2 1040.8,2541.9 C1042.7,2541.6 1044.7,2541.3 1046.7,2541 C1048.7,2540.6 1050.7,2540.4 1052.6,2540.1 C1054.6,2539.8 1056.6,2539.5 1058.6,2539.2 C1060.6,2538.9 1062.5,2538.7 1064.5,2538.4 C1066.5,2538.1 1068.5,2537.9 1070.5,2537.6 C1072.5,2537.3 1074.4,2537.1 1076.4,2536.8 C1078.4,2536.6 1080.4,2536.4 1082.4,2536.1 C1084.4,2535.9 1086.3,2535.7 1088.3,2535.4 C1090.3,2535.2 1092.3,2535 1094.3,2534.8 C1096.3,2534.6 1098.3,2534.3 1100.3,2534.1 C1102.2,2533.9 1104.2,2533.7 1106.2,2533.5 C1108.2,2533.3 1110.2,2533.2 1112.2,2533 C1114.2,2532.8 1116.2,2532.6 1118.2,2532.4 C1120.1,2532.3 1122.1,2532.1 1124.1,2531.9 C1126.1,2531.8 1128.1,2531.6 1130.1,2531.5 C1132.1,2531.3 1134.1,2531.1 1136.1,2531 C1138.1,2530.9 1140.1,2530.7 1142.1,2530.6 C1144.1,2530.4 1146.1,2530.3 1148,2530.2 C1150,2530.1 1152,2529.9 1154,2529.8 C1156,2529.7 1158,2529.6 1160,2529.5 C1162,2529.4 1164,2529.3 1166,2529.2 C1168,2529.1 1170,2529 1172,2528.9 C1174,2528.8 1176,2528.7 1178,2528.6 C1180,2528.5 1182,2528.4 1184,2528.4 C1186,2528.3 1188,2528.2 1190,2528.2 C1192,2528.1 1194,2528 1196,2528 C1198,2527.9 1200,2527.9 1202,2527.8 C1204,2527.8 1206,2527.7 1208,2527.7 C1210,2527.6 1212,2527.6 1214,2527.6 C1216,2527.5 1218,2527.5 1220,2527.5 C1222,2527.4 1224,2527.4 1226,2527.4 C1228,2527.4 1230,2527.4 1232.1,2527.3 C1234.1,2527.3 1236.1,2527.3 1238.1,2527.3 C1240.1,2527.3 1242.1,2527.3 1244.1,2527.3 C1246.1,2527.3 1248.1,2527.3 1250.1,2527.3 C1252.1,2527.3 1254.1,2527.4 1256.1,2527.4 C1258.1,2527.4 1260.1,2527.4 1262.1,2527.4 C1264.1,2527.4 1266.2,2527.5 1268.2,2527.5 C1270.2,2527.5 1272.2,2527.6 1274.2,2527.6 C1276.2,2527.6 1278.2,2527.7 1280.2,2527.7 C1282.2,2527.8 1284.2,2527.8 1286.2,2527.8 C1288.2,2527.9 1290.3,2527.9 1292.3,2528 C1294.3,2528.1 1296.3,2528.1 1298.3,2528.2 C1300.3,2528.2 1302.3,2528.3 1304.3,2528.4 C1306.3,2528.4 1308.3,2528.5 1310.4,2528.6 C1312.4,2528.6 1314.4,2528.7 1316.4,2528.8 C1318.4,2528.9 1320.4,2528.9 1322.4,2529 C1324.4,2529.1 1326.4,2529.2 1328.4,2529.3 C1330.5,2529.4 1332.5,2529.4 1334.5,2529.5 C1336.5,2529.6 1338.5,2529.7 1340.5,2529.8 C1342.5,2529.9 1344.5,2530 1346.6,2530.1 C1348.6,2530.2 1350.6,2530.3 1352.6,2530.4 C1354.6,2530.5 1356.6,2530.6 1358.6,2530.7 C1360.6,2530.9 1362.7,2531 1364.7,2531.1 C1366.7,2531.2 1368.7,2531.3 1370.7,2531.4 C1372.7,2531.5 1374.7,2531.7 1376.7,2531.8 C1378.8,2531.9 1380.8,2532 1382.8,2532.2 C1384.8,2532.3 1386.8,2532.4 1388.8,2532.6 C1390.8,2532.7 1392.8,2532.8 1394.9,2533 C1396.9,2533.1 1398.9,2533.2 1400.9,2533.4 C1402.9,2533.5 1404.9,2533.6 1406.9,2533.8 C1409,2533.9 1411,2534.1 1413,2534.2 C1415,2534.4 1417,2534.5 1419,2534.6 C1421,2534.8 1423.1,2534.9 1425.1,2535.1 C1427.1,2535.2 1429.1,2535.4 1431.1,2535.6 C1433.1,2535.7 1435.1,2535.9 1437.1,2536 C1439.2,2536.2 1441.2,2536.3 1443.2,2536.5 C1445.2,2536.6 1447.2,2536.8 1449.2,2537 C1451.2,2537.1 1453.3,2537.3 1455.3,2537.5 C1457.3,2537.6 1459.3,2537.8 1461.3,2538 C1463.3,2538.1 1465.3,2538.3 1467.4,2538.5 C1469.4,2538.6 1471.4,2538.8 1473.4,2539 C1475.4,2539.1 1477.4,2539.3 1479.4,2539.5 C1481.4,2539.6 1483.5,2539.8 1485.5,2540 C1487.5,2540.2 1489.5,2540.3 1491.5,2540.5 C1493.5,2540.7 1495.5,2540.9 1497.5,2541 C1499.6,2541.2 1501.6,2541.4 1503.6,2541.6 C1505.6,2541.8 1507.6,2541.9 1509.6,2542.1 C1511.6,2542.3 1513.6,2542.5 1515.7,2542.6 C1517.7,2542.8 1519.7,2543 1521.7,2543.2 C1523.7,2543.4 1525.7,2543.5 1527.7,2543.7 C1529.7,2543.9 1531.8,2544.1 1533.8,2544.3 C1535.8,2544.5 1537.8,2544.6 1539.8,2544.8 C1541.8,2545 1543.8,2545.2 1545.8,2545.4 C1547.8,2545.6 1549.8,2545.7 1551.9,2545.9 C1553.9,2546.1 1555.9,2546.3 1557.9,2546.5 C1559.9,2546.7 1561.9,2546.8 1563.9,2547 C1565.9,2547.2 1567.9,2547.4 1569.9,2547.6 C1572,2547.7 1574,2547.9 1576,2548.1 C1578,2548.3 1580,2548.5 1582,2548.7 C1584,2548.8 1586,2549 1588,2549.2 C1590,2549.4 1592,2549.6 1594,2549.7 C1596,2549.9 1598.1,2550.1 1600.1,2550.3 C1602.1,2550.5 1604.1,2550.6 1606.1,2550.8 C1608.1,2551 1610.1,2551.2 1612.1,2551.4 C1614.1,2551.5 1616.1,2551.7 1618.1,2551.9 C1620.1,2552.1 1622.1,2552.2 1624.1,2552.4 C1626.1,2552.6 1628.1,2552.8 1630.1,2552.9 C1632.1,2553.1 1634.2,2553.3 1636.2,2553.5 C1638.2,2553.6 1640.2,2553.8 1642.2,2554 C1644.2,2554.1 1646.2,2554.3 1648.2,2554.5 C1650.2,2554.6 1652.2,2554.8 1654.2,2555 C1656.2,2555.1 1658.2,2555.3 1660.2,2555.5 C1662.2,2555.6 1664.2,2555.8 1666.2,2556 C1668.2,2556.1 1670.2,2556.3 1672.2,2556.4 C1674.2,2556.6 1676.2,2556.7 1678.2,2556.9 C1680.2,2557.1 1682.2,2557.2 1684.2,2557.4 C1686.2,2557.5 1688.2,2557.7 1690.2,2557.8 C1692.2,2558 1694.2,2558.1 1696.2,2558.3 C1698.2,2558.4 1700.2,2558.6 1702.2,2558.7 C1704.1,2558.8 1706.1,2559 1708.1,2559.1 C1710.1,2559.3 1712.1,2559.4 1714.1,2559.5 C1716.1,2559.7 1718.1,2559.8 1720.1,2559.9 C1722.1,2560.1 1724.1,2560.2 1726.1,2560.3 C1728.1,2560.5 1730.1,2560.6 1732.1,2560.7 C1734.1,2560.9 1736,2561 1738,2561.1 C1740,2561.2 1742,2561.3 1744,2561.5 C1746,2561.6 1748,2561.7 1750,2561.8 C1752,2561.9 1754,2562 1755.9,2562.1 C1757.9,2562.3 1759.9,2562.4 1761.9,2562.5 C1763.9,2562.6 1765.9,2562.7 1767.9,2562.8 C1769.8,2562.9 1771.8,2563 1773.8,2563.1 C1775.8,2563.2 1777.8,2563.3 1779.8,2563.3 C1781.8,2563.4 1783.7,2563.5 1785.7,2563.6 C1787.7,2563.7 1789.7,2563.8 1791.7,2563.9 C1793.7,2563.9 1795.6,2564 1797.6,2564.1 C1799.6,2564.2 1801.6,2564.2 1803.6,2564.3 C1805.5,2564.4 1808.5,2564.5 1809.5,2564.5" fill="none" stroke="#0000ff" stroke-width="9" stroke-linecap="round" stroke-linejoin="round"/>
<rect x="348" y="3337.5" width="45.8" height="45.8" fill="#000000"/>
<rect x="588" y="3316.9" width="45.8" height="45.8" fill="#000000"/>
<rect x="1786.1" y="3250.1" width="45.8" height="45.8" fill="#000000"/>
<circle cx="370.6" cy="3360.1" r="26.4" fill="#ff0000"/>
<circle cx="610.4" cy="3053.1" r="26.4" fill="#ff0000"/>
<circle cx="1809.5" cy="2792.3" r="26.4" fill="#ff0000"/>
<polygon points="610.9,2426.9 640.2,2478.3 581.6,2478.3" fill="#0000ff" stroke="#0000ff" stroke-width="3" stroke-linejoin="round"/>
<polygon points="1809.5,2530.5 1838.8,2581.1 1780.2,2581.1" fill="#0000ff" stroke="#0000ff" stroke-width="3" stroke-linejoin="round"/>
<path d="M370.6,3360.2 C371.5,3359.9 374.4,3358.9 376.3,3358.2 C378.2,3357.5 380.1,3356.9 382,3356.2 C383.9,3355.6 385.9,3355 387.8,3354.3 C389.7,3353.7 391.6,3353.1 393.5,3352.4 C395.4,3351.8 397.3,3351.2 399.3,3350.6 C401.2,3350 403.1,3349.4 405,3348.8 C406.9,3348.2 408.8,3347.6 410.8,3347 C412.7,3346.4 414.6,3345.9 416.5,3345.3 C418.5,3344.7 420.4,3344.2 422.3,3343.6 C424.2,3343 426.2,3342.5 428.1,3341.9 C430,3341.4 432,3340.9 433.9,3340.3 C435.8,3339.8 437.8,3339.3 439.7,3338.7 C441.6,3338.2 443.6,3337.7 445.5,3337.2 C447.4,3336.7 449.4,3336.2 451.3,3335.7 C453.3,3335.1 455.2,3334.7 457.1,3334.2 C459.1,3333.7 461,3333.2 463,3332.7 C464.9,3332.2 466.9,3331.8 468.8,3331.3 C470.8,3330.8 472.7,3330.3 474.7,3329.9 C476.6,3329.4 478.6,3329 480.5,3328.5 C482.5,3328.1 484.4,3327.6 486.4,3327.2 C488.3,3326.8 490.3,3326.3 492.2,3325.9 C494.2,3325.5 496.1,3325 498.1,3324.6 C500,3324.2 502,3323.8 504,3323.4 C505.9,3323 507.9,3322.6 509.8,3322.2 C511.8,3321.8 513.8,3321.4 515.7,3321 C517.7,3320.6 519.6,3320.2 521.6,3319.8 C523.6,3319.4 525.5,3319.1 527.5,3318.7 C529.5,3318.3 531.4,3318 533.4,3317.6 C535.4,3317.2 537.3,3316.9 539.3,3316.5 C541.3,3316.2 543.2,3315.8 545.2,3315.5 C547.2,3315.1 549.2,3314.8 551.1,3314.4 C553.1,3314.1 555.1,3313.8 557.1,3313.4 C559,3313.1 561,3312.8 563,3312.5 C565,3312.2 566.9,3311.8 568.9,3311.5 C570.9,3311.2 572.9,3310.9 574.8,3310.6 C576.8,3310.3 578.8,3310 580.8,3309.7 C582.8,3309.4 584.7,3309.1 586.7,3308.8 C588.7,3308.5 590.7,3308.2 592.7,3307.9 C594.6,3307.7 596.6,3307.4 598.6,3307.1 C600.6,3306.8 602.6,3306.6 604.6,3306.3 C606.6,3306 608.5,3305.8 610.5,3305.5 C612.5,3305.2 614.5,3305 616.5,3304.7 C618.5,3304.5 620.5,3304.2 622.5,3304 C624.4,3303.7 626.4,3303.5 628.4,3303.2 C630.4,3303 632.4,3302.7 634.4,3302.5 C636.4,3302.3 638.4,3302 640.4,3301.8 C642.4,3301.6 644.4,3301.3 646.3,3301.1 C648.3,3300.9 650.3,3300.7 652.3,3300.4 C654.3,3300.2 656.3,3300 658.3,3299.8 C660.3,3299.6 662.3,3299.4 664.3,3299.2 C666.3,3298.9 668.3,3298.7 670.3,3298.5 C672.3,3298.3 674.3,3298.1 676.3,3297.9 C678.3,3297.7 680.3,3297.5 682.3,3297.3 C684.3,3297.2 686.3,3297 688.3,3296.8 C690.3,3296.6 692.3,3296.4 694.2,3296.2 C696.2,3296 698.2,3295.8 700.2,3295.7 C702.2,3295.5 704.2,3295.3 706.2,3295.1 C708.2,3295 710.2,3294.8 712.2,3294.6 C714.2,3294.4 716.3,3294.3 718.3,3294.1 C720.3,3293.9 722.3,3293.8 724.3,3293.6 C726.3,3293.4 728.3,3293.3 730.3,3293.1 C732.3,3293 734.3,3292.8 736.3,3292.6 C738.3,3292.5 740.3,3292.3 742.3,3292.2 C744.3,3292 746.3,3291.9 748.3,3291.7 C750.3,3291.6 752.3,3291.4 754.3,3291.3 C756.3,3291.1 758.3,3291 760.3,3290.8 C762.3,3290.7 764.3,3290.5 766.3,3290.4 C768.3,3290.3 770.3,3290.1 772.3,3290 C774.3,3289.8 776.3,3289.7 778.3,3289.6 C780.3,3289.4 782.3,3289.3 784.3,3289.2 C786.4,3289 788.4,3288.9 790.4,3288.8 C792.4,3288.6 794.4,3288.5 796.4,3288.4 C798.4,3288.3 800.4,3288.1 802.4,3288 C804.4,3287.9 806.4,3287.8 808.4,3287.6 C810.4,3287.5 812.4,3287.4 814.4,3287.3 C816.4,3287.2 818.4,3287 820.4,3286.9 C822.4,3286.8 824.5,3286.7 826.5,3286.6 C828.5,3286.5 830.5,3286.4 832.5,3286.2 C834.5,3286.1 836.5,3286 838.5,3285.9 C840.5,3285.8 842.5,3285.7 844.5,3285.6 C846.5,3285.5 848.5,3285.4 850.5,3285.3 C852.5,3285.2 854.6,3285.1 856.6,3285 C858.6,3284.9 860.6,3284.8 862.6,3284.7 C864.6,3284.6 866.6,3284.5 868.6,3284.4 C870.6,3284.3 872.6,3284.2 874.6,3284.1 C876.6,3284 878.6,3283.9 880.7,3283.8 C882.7,3283.8 884.7,3283.7 886.7,3283.6 C888.7,3283.5 890.7,3283.4 892.7,3283.3 C894.7,3283.2 896.7,3283.1 898.7,3283.1 C900.7,3283 902.7,3282.9 904.8,3282.8 C906.8,3282.7 908.8,3282.7 910.8,3282.6 C912.8,3282.5 914.8,3282.4 916.8,3282.4 C918.8,3282.3 920.8,3282.2 922.8,3282.1 C924.8,3282.1 926.9,3282 928.9,3281.9 C930.9,3281.8 932.9,3281.8 934.9,3281.7 C936.9,3281.6 938.9,3281.6 940.9,3281.5 C942.9,3281.4 944.9,3281.4 946.9,3281.3 C949,3281.2 951,3281.2 953,3281.1 C955,3281 957,3281 959,3280.9 C961,3280.9 963,3280.8 965,3280.7 C967,3280.7 969.1,3280.6 971.1,3280.6 C973.1,3280.5 975.1,3280.4 977.1,3280.4 C979.1,3280.3 981.1,3280.3 983.1,3280.2 C985.1,3280.2 987.2,3280.1 989.2,3280.1 C991.2,3280 993.2,3280 995.2,3279.9 C997.2,3279.9 999.2,3279.8 1001.2,3279.8 C1003.2,3279.7 1005.3,3279.7 1007.3,3279.6 C1009.3,3279.6 1011.3,3279.5 1013.3,3279.5 C1015.3,3279.5 1017.3,3279.4 1019.3,3279.4 C1021.3,3279.3 1023.4,3279.3 1025.4,3279.2 C1027.4,3279.2 1029.4,3279.2 1031.4,3279.1 C1033.4,3279.1 1035.4,3279 1037.4,3279 C1039.5,3279 1041.5,3278.9 1043.5,3278.9 C1045.5,3278.9 1047.5,3278.8 1049.5,3278.8 C1051.5,3278.8 1053.5,3278.7 1055.6,3278.7 C1057.6,3278.7 1059.6,3278.6 1061.6,3278.6 C1063.6,3278.6 1065.6,3278.5 1067.6,3278.5 C1069.6,3278.5 1071.6,3278.5 1073.7,3278.4 C1075.7,3278.4 1077.7,3278.4 1079.7,3278.3 C1081.7,3278.3 1083.7,3278.3 1085.7,3278.3 C1087.7,3278.2 1089.8,3278.2 1091.8,3278.2 C1093.8,3278.2 1095.8,3278.1 1097.8,3278.1 C1099.8,3278.1 1101.8,3278.1 1103.9,3278.1 C1105.9,3278 1107.9,3278 1109.9,3278 C1111.9,3278 1113.9,3278 1115.9,3277.9 C1117.9,3277.9 1120,3277.9 1122,3277.9 C1124,3277.9 1126,3277.9 1128,3277.8 C1130,3277.8 1132,3277.8 1134,3277.8 C1136.1,3277.8 1138.1,3277.8 1140.1,3277.7 C1142.1,3277.7 1144.1,3277.7 1146.1,3277.7 C1148.1,3277.7 1150.2,3277.7 1152.2,3277.7 C1154.2,3277.7 1156.2,3277.6 1158.2,3277.6 C1160.2,3277.6 1162.2,3277.6 1164.2,3277.6 C1166.3,3277.6 1168.3,3277.6 1170.3,3277.6 C1172.3,3277.6 1174.3,3277.6 1176.3,3277.6 C1178.3,3277.5 1180.4,3277.5 1182.4,3277.5 C1184.4,3277.5 1186.4,3277.5 1188.4,3277.5 C1190.4,3277.5 1192.4,3277.5 1194.4,3277.5 C1196.5,3277.5 1198.5,3277.5 1200.5,3277.5 C1202.5,3277.5 1204.5,3277.5 1206.5,3277.5 C1208.5,3277.5 1210.6,3277.5 1212.6,3277.5 C1214.6,3277.5 1216.6,3277.5 1218.6,3277.5 C1220.6,3277.5 1222.6,3277.5 1224.6,3277.5 C1226.7,3277.4 1228.7,3277.4 1230.7,3277.4 C1232.7,3277.4 1234.7,3277.4 1236.7,3277.4 C1238.7,3277.4 1240.8,3277.4 1242.8,3277.4 C1244.8,3277.4 1246.8,3277.5 1248.8,3277.5 C1250.8,3277.5 1252.8,3277.5 1254.9,3277.5 C1256.9,3277.5 1258.9,3277.5 1260.9,3277.5 C1262.9,3277.5 1264.9,3277.5 1266.9,3277.5 C1268.9,3277.5 1271,3277.5 1273,3277.5 C1275,3277.5 1277,3277.5 1279,3277.5 C1281,3277.5 1283,3277.5 1285.1,3277.5 C1287.1,3277.5 1289.1,3277.5 1291.1,3277.5 C1293.1,3277.5 1295.1,3277.5 1297.1,3277.5 C1299.1,3277.5 1301.2,3277.5 1303.2,3277.5 C1305.2,3277.6 1307.2,3277.6 1309.2,3277.6 C1311.2,3277.6 1313.2,3277.6 1315.3,3277.6 C1317.3,3277.6 1319.3,3277.6 1321.3,3277.6 C1323.3,3277.6 1325.3,3277.6 1327.3,3277.6 C1329.3,3277.6 1331.4,3277.6 1333.4,3277.6 C1335.4,3277.6 1337.4,3277.6 1339.4,3277.7 C1341.4,3277.7 1343.4,3277.7 1345.4,3277.7 C1347.5,3277.7 1349.5,3277.7 1351.5,3277.7 C1353.5,3277.7 1355.5,3277.7 1357.5,3277.7 C1359.5,3277.7 1361.5,3277.7 1363.6,3277.7 C1365.6,3277.7 1367.6,3277.7 1369.6,3277.8 C1371.6,3277.8 1373.6,3277.8 1375.6,3277.8 C1377.6,3277.8 1379.7,3277.8 1381.7,3277.8 C1383.7,3277.8 1385.7,3277.8 1387.7,3277.8 C1389.7,3277.8 1391.7,3277.8 1393.7,3277.8 C1395.8,3277.8 1397.8,3277.8 1399.8,3277.9 C1401.8,3277.9 1403.8,3277.9 1405.8,3277.9 C1407.8,3277.9 1409.8,3277.9 1411.9,3277.9 C1413.9,3277.9 1415.9,3277.9 1417.9,3277.9 C1419.9,3277.9 1421.9,3277.9 1423.9,3277.9 C1425.9,3277.9 1427.9,3277.9 1430,3277.9 C1432,3277.9 1434,3277.9 1436,3277.9 C1438,3278 1440,3278 1442,3278 C1444,3278 1446.1,3278 1448.1,3278 C1450.1,3278 1452.1,3278 1454.1,3278 C1456.1,3278 1458.1,3278 1460.1,3278 C1462.1,3278 1464.1,3278 1466.2,3278 C1468.2,3278 1470.2,3278 1472.2,3278 C1474.2,3278 1476.2,3278 1478.2,3278 C1480.2,3278 1482.2,3278 1484.3,3278 C1486.3,3278 1488.3,3278 1490.3,3278 C1492.3,3278 1494.3,3278 1496.3,3278 C1498.3,3278 1500.3,3278 1502.3,3278 C1504.4,3278 1506.4,3278 1508.4,3278 C1510.4,3278 1512.4,3278 1514.4,3278 C1516.4,3278 1518.4,3278 1520.4,3278 C1522.4,3278 1524.5,3278 1526.5,3278 C1528.5,3278 1530.5,3278 1532.5,3278 C1534.5,3278 1536.5,3277.9 1538.5,3277.9 C1540.5,3277.9 1542.5,3277.9 1544.5,3277.9 C1546.5,3277.9 1548.6,3277.9 1550.6,3277.9 C1552.6,3277.9 1554.6,3277.9 1556.6,3277.9 C1558.6,3277.9 1560.6,3277.9 1562.6,3277.8 C1564.6,3277.8 1566.6,3277.8 1568.6,3277.8 C1570.6,3277.8 1572.7,3277.8 1574.7,3277.8 C1576.7,3277.8 1578.7,3277.7 1580.7,3277.7 C1582.7,3277.7 1584.7,3277.7 1586.7,3277.7 C1588.7,3277.7 1590.7,3277.7 1592.7,3277.6 C1594.7,3277.6 1596.7,3277.6 1598.7,3277.6 C1600.8,3277.6 1602.8,3277.6 1604.8,3277.5 C1606.8,3277.5 1608.8,3277.5 1610.8,3277.5 C1612.8,3277.5 1614.8,3277.5 1616.8,3277.4 C1618.8,3277.4 1620.8,3277.4 1622.8,3277.4 C1624.8,3277.3 1626.8,3277.3 1628.8,3277.3 C1630.8,3277.3 1632.9,3277.3 1634.9,3277.2 C1636.9,3277.2 1638.9,3277.2 1640.9,3277.2 C1642.9,3277.1 1644.9,3277.1 1646.9,3277.1 C1648.9,3277.1 1650.9,3277 1652.9,3277 C1654.9,3277 1656.9,3276.9 1658.9,3276.9 C1660.9,3276.9 1662.9,3276.8 1664.9,3276.8 C1666.9,3276.8 1668.9,3276.7 1670.9,3276.7 C1673,3276.7 1675,3276.6 1677,3276.6 C1679,3276.6 1681,3276.5 1683,3276.5 C1685,3276.5 1687,3276.4 1689,3276.4 C1691,3276.4 1693,3276.3 1695,3276.3 C1697,3276.2 1699,3276.2 1701,3276.2 C1703,3276.1 1705,3276.1 1707,3276 C1709,3276 1711,3275.9 1713,3275.9 C1715,3275.9 1717,3275.8 1719,3275.8 C1721,3275.7 1723,3275.7 1725,3275.6 C1727,3275.6 1729,3275.5 1731,3275.5 C1733,3275.4 1735,3275.4 1737,3275.3 C1739,3275.3 1741,3275.2 1743,3275.2 C1745,3275.1 1747,3275 1749,3275 C1751,3274.9 1753,3274.9 1755,3274.8 C1757,3274.8 1759,3274.7 1761,3274.6 C1763,3274.6 1765,3274.5 1767,3274.5 C1769,3274.4 1771,3274.3 1773,3274.3 C1775,3274.2 1777,3274.1 1779,3274.1 C1781,3274 1783,3273.9 1785,3273.9 C1787,3273.8 1789,3273.7 1791,3273.7 C1793,3273.6 1795,3273.5 1797,3273.4 C1799,3273.4 1801,3273.3 1803,3273.2 C1805,3273.2 1808,3273 1809,3273" fill="none" stroke="#000000" stroke-width="9" stroke-linecap="round" stroke-linejoin="round" stroke-dasharray="38.3 51.6" stroke-dashoffset="84.9"/>
<path d="M370.6,3360.2 C371,3359.3 372.3,3356.6 373.1,3354.8 C373.9,3353 374.8,3351.1 375.6,3349.3 C376.5,3347.5 377.3,3345.7 378.2,3343.9 C379,3342.1 379.9,3340.3 380.8,3338.5 C381.6,3336.7 382.5,3334.9 383.4,3333.1 C384.3,3331.3 385.2,3329.5 386,3327.7 C386.9,3325.9 387.8,3324 388.7,3322.2 C389.6,3320.4 390.5,3318.7 391.4,3316.9 C392.4,3315.1 393.3,3313.3 394.2,3311.5 C395.1,3309.7 396,3307.9 397,3306.1 C397.9,3304.3 398.9,3302.5 399.8,3300.7 C400.7,3298.9 401.7,3297.2 402.6,3295.4 C403.6,3293.6 404.6,3291.8 405.5,3290 C406.5,3288.3 407.5,3286.5 408.5,3284.7 C409.4,3282.9 410.4,3281.2 411.4,3279.4 C412.4,3277.6 413.4,3275.9 414.4,3274.1 C415.4,3272.4 416.4,3270.6 417.4,3268.8 C418.4,3267.1 419.5,3265.3 420.5,3263.6 C421.5,3261.8 422.5,3260.1 423.6,3258.3 C424.6,3256.6 425.7,3254.9 426.7,3253.1 C427.8,3251.4 428.8,3249.7 429.9,3247.9 C430.9,3246.2 432,3244.5 433.1,3242.8 C434.1,3241 435.2,3239.3 436.3,3237.6 C437.4,3235.9 438.5,3234.2 439.6,3232.5 C440.7,3230.8 441.8,3229.1 442.9,3227.4 C444,3225.7 445.1,3224 446.3,3222.3 C447.4,3220.6 448.5,3218.9 449.7,3217.3 C450.8,3215.6 451.9,3213.9 453.1,3212.2 C454.2,3210.6 455.4,3208.9 456.5,3207.2 C457.7,3205.6 458.9,3203.9 460.1,3202.3 C461.2,3200.6 462.4,3199 463.6,3197.3 C464.8,3195.7 466,3194.1 467.2,3192.4 C468.4,3190.8 469.6,3189.2 470.8,3187.6 C472,3186 473.2,3184.3 474.5,3182.7 C475.7,3181.1 476.9,3179.5 478.2,3177.9 C479.4,3176.3 480.7,3174.8 481.9,3173.2 C483.2,3171.6 484.4,3170 485.7,3168.4 C487,3166.9 488.2,3165.3 489.5,3163.7 C490.8,3162.2 492.1,3160.6 493.4,3159.1 C494.7,3157.5 496,3156 497.3,3154.5 C498.6,3152.9 499.9,3151.4 501.2,3149.9 C502.6,3148.4 503.9,3146.9 505.2,3145.4 C506.6,3143.8 507.9,3142.3 509.2,3140.8 C510.6,3139.4 511.9,3137.9 513.3,3136.4 C514.7,3134.9 516,3133.4 517.4,3132 C518.8,3130.5 520.2,3129 521.5,3127.6 C522.9,3126.1 524.3,3124.7 525.7,3123.2 C527.1,3121.8 528.5,3120.4 529.9,3118.9 C531.3,3117.5 532.8,3116.1 534.2,3114.7 C535.6,3113.3 537,3111.9 538.5,3110.5 C539.9,3109.1 541.4,3107.7 542.8,3106.3 C544.2,3104.9 545.7,3103.5 547.2,3102.2 C548.6,3100.8 550.1,3099.4 551.6,3098.1 C553,3096.7 554.5,3095.4 556,3094.1 C557.5,3092.7 559,3091.4 560.5,3090.1 C562,3088.7 563.5,3087.4 565,3086.1 C566.5,3084.8 568,3083.5 569.5,3082.2 C571,3080.9 572.6,3079.6 574.1,3078.4 C575.6,3077.1 577.2,3075.8 578.7,3074.5 C580.3,3073.3 581.8,3072 583.4,3070.8 C584.9,3069.5 586.5,3068.3 588,3067.1 C589.6,3065.8 591.2,3064.6 592.8,3063.4 C594.3,3062.2 595.9,3061 597.5,3059.8 C599.1,3058.6 600.7,3057.4 602.3,3056.2 C603.9,3055.1 605.5,3053.9 607.1,3052.7 C608.7,3051.6 610.3,3050.4 612,3049.3 C613.6,3048.1 615.2,3047 616.8,3045.8 C618.5,3044.7 620.1,3043.6 621.8,3042.5 C623.4,3041.4 625.1,3040.3 626.7,3039.2 C628.4,3038.1 630,3037 631.7,3035.9 C633.4,3034.8 635,3033.7 636.7,3032.7 C638.4,3031.6 640.1,3030.6 641.7,3029.5 C643.4,3028.5 645.1,3027.4 646.8,3026.4 C648.5,3025.3 650.2,3024.3 651.9,3023.3 C653.6,3022.3 655.3,3021.3 657,3020.3 C658.8,3019.3 660.5,3018.3 662.2,3017.3 C663.9,3016.3 665.7,3015.3 667.4,3014.4 C669.1,3013.4 670.9,3012.4 672.6,3011.5 C674.3,3010.5 676.1,3009.6 677.8,3008.6 C679.6,3007.7 681.4,3006.7 683.1,3005.8 C684.9,3004.9 686.6,3004 688.4,3003 C690.2,3002.1 692,3001.2 693.7,3000.3 C695.5,2999.4 697.3,2998.5 699.1,2997.6 C700.9,2996.8 702.7,2995.9 704.4,2995 C706.2,2994.1 708,2993.3 709.8,2992.4 C711.6,2991.5 713.4,2990.7 715.3,2989.9 C717.1,2989 718.9,2988.2 720.7,2987.3 C722.5,2986.5 724.3,2985.7 726.2,2984.9 C728,2984 729.8,2983.2 731.6,2982.4 C733.5,2981.6 735.3,2980.8 737.2,2980 C739,2979.2 740.8,2978.4 742.7,2977.7 C744.5,2976.9 746.4,2976.1 748.2,2975.3 C750.1,2974.6 751.9,2973.8 753.8,2973 C755.7,2972.3 757.5,2971.5 759.4,2970.8 C761.3,2970 763.1,2969.3 765,2968.6 C766.9,2967.8 768.7,2967.1 770.6,2966.4 C772.5,2965.7 774.4,2965 776.3,2964.2 C778.2,2963.5 780,2962.8 781.9,2962.1 C783.8,2961.4 785.7,2960.7 787.6,2960.1 C789.5,2959.4 791.4,2958.7 793.3,2958 C795.2,2957.3 797.1,2956.7 799,2956 C800.9,2955.3 802.8,2954.7 804.8,2954 C806.7,2953.4 808.6,2952.7 810.5,2952.1 C812.4,2951.4 814.3,2950.8 816.3,2950.1 C818.2,2949.5 820.1,2948.9 822,2948.3 C824,2947.6 825.9,2947 827.8,2946.4 C829.7,2945.8 831.7,2945.2 833.6,2944.6 C835.6,2944 837.5,2943.4 839.4,2942.8 C841.4,2942.2 843.3,2941.6 845.3,2941 C847.2,2940.4 849.1,2939.8 851.1,2939.2 C853,2938.7 855,2938.1 856.9,2937.5 C858.9,2937 860.9,2936.4 862.8,2935.8 C864.8,2935.3 866.7,2934.7 868.7,2934.2 C870.6,2933.6 872.6,2933.1 874.6,2932.5 C876.5,2932 878.5,2931.5 880.5,2930.9 C882.4,2930.4 884.4,2929.9 886.4,2929.3 C888.3,2928.8 890.3,2928.3 892.3,2927.8 C894.2,2927.2 896.2,2926.7 898.2,2926.2 C900.2,2925.7 902.1,2925.2 904.1,2924.7 C906.1,2924.2 908.1,2923.7 910,2923.2 C912,2922.7 914,2922.2 916,2921.7 C918,2921.2 919.9,2920.8 921.9,2920.3 C923.9,2919.8 925.9,2919.3 927.9,2918.8 C929.8,2918.4 931.8,2917.9 933.8,2917.4 C935.8,2917 937.8,2916.5 939.8,2916 C941.8,2915.6 943.8,2915.1 945.7,2914.7 C947.7,2914.2 949.7,2913.7 951.7,2913.3 C953.7,2912.9 955.7,2912.4 957.7,2912 C959.7,2911.5 961.7,2911.1 963.7,2910.6 C965.6,2910.2 967.6,2909.8 969.6,2909.3 C971.6,2908.9 973.6,2908.5 975.6,2908.1 C977.6,2907.6 979.6,2907.2 981.6,2906.8 C983.6,2906.4 985.6,2905.9 987.6,2905.5 C989.6,2905.1 991.5,2904.7 993.5,2904.3 C995.5,2903.9 997.5,2903.5 999.5,2903.1 C1001.5,2902.7 1003.5,2902.3 1005.5,2901.9 C1007.5,2901.5 1009.5,2901.1 1011.5,2900.7 C1013.5,2900.3 1015.5,2899.9 1017.5,2899.5 C1019.4,2899.1 1021.4,2898.7 1023.4,2898.3 C1025.4,2897.9 1027.4,2897.5 1029.4,2897.2 C1031.4,2896.8 1033.4,2896.4 1035.4,2896 C1037.4,2895.6 1039.4,2895.3 1041.4,2894.9 C1043.4,2894.5 1045.3,2894.1 1047.3,2893.8 C1049.3,2893.4 1051.3,2893 1053.3,2892.7 C1055.3,2892.3 1057.3,2891.9 1059.3,2891.6 C1061.3,2891.2 1063.3,2890.9 1065.3,2890.5 C1067.3,2890.1 1069.3,2889.8 1071.2,2889.4 C1073.2,2889.1 1075.2,2888.7 1077.2,2888.4 C1079.2,2888 1081.2,2887.7 1083.2,2887.4 C1085.2,2887 1087.2,2886.7 1089.2,2886.3 C1091.2,2886 1093.2,2885.7 1095.1,2885.3 C1097.1,2885 1099.1,2884.7 1101.1,2884.3 C1103.1,2884 1105.1,2883.7 1107.1,2883.3 C1109.1,2883 1111.1,2882.7 1113.1,2882.4 C1115.1,2882 1117.1,2881.7 1119,2881.4 C1121,2881.1 1123,2880.8 1125,2880.4 C1127,2880.1 1129,2879.8 1131,2879.5 C1133,2879.2 1135,2878.9 1137,2878.6 C1139,2878.3 1141,2878 1143,2877.7 C1144.9,2877.3 1146.9,2877 1148.9,2876.7 C1150.9,2876.4 1152.9,2876.1 1154.9,2875.9 C1156.9,2875.6 1158.9,2875.3 1160.9,2875 C1162.9,2874.7 1164.9,2874.4 1166.9,2874.1 C1168.8,2873.8 1170.8,2873.5 1172.8,2873.2 C1174.8,2872.9 1176.8,2872.7 1178.8,2872.4 C1180.8,2872.1 1182.8,2871.8 1184.8,2871.5 C1186.8,2871.3 1188.8,2871 1190.8,2870.7 C1192.7,2870.4 1194.7,2870.1 1196.7,2869.9 C1198.7,2869.6 1200.7,2869.3 1202.7,2869.1 C1204.7,2868.8 1206.7,2868.5 1208.7,2868.3 C1210.7,2868 1212.7,2867.7 1214.7,2867.5 C1216.7,2867.2 1218.6,2866.9 1220.6,2866.7 C1222.6,2866.4 1224.6,2866.2 1226.6,2865.9 C1228.6,2865.7 1230.6,2865.4 1232.6,2865.1 C1234.6,2864.9 1236.6,2864.6 1238.6,2864.4 C1240.6,2864.1 1242.6,2863.9 1244.5,2863.6 C1246.5,2863.4 1248.5,2863.2 1250.5,2862.9 C1252.5,2862.7 1254.5,2862.4 1256.5,2862.2 C1258.5,2861.9 1260.5,2861.7 1262.5,2861.5 C1264.5,2861.2 1266.5,2861 1268.5,2860.7 C1270.5,2860.5 1272.5,2860.3 1274.4,2860 C1276.4,2859.8 1278.4,2859.6 1280.4,2859.4 C1282.4,2859.1 1284.4,2858.9 1286.4,2858.7 C1288.4,2858.4 1290.4,2858.2 1292.4,2858 C1294.4,2857.8 1296.4,2857.5 1298.4,2857.3 C1300.4,2857.1 1302.4,2856.9 1304.3,2856.7 C1306.3,2856.4 1308.3,2856.2 1310.3,2856 C1312.3,2855.8 1314.3,2855.6 1316.3,2855.4 C1318.3,2855.1 1320.3,2854.9 1322.3,2854.7 C1324.3,2854.5 1326.3,2854.3 1328.3,2854.1 C1330.3,2853.9 1332.3,2853.7 1334.3,2853.5 C1336.3,2853.2 1338.2,2853 1340.2,2852.8 C1342.2,2852.6 1344.2,2852.4 1346.2,2852.2 C1348.2,2852 1350.2,2851.8 1352.2,2851.6 C1354.2,2851.4 1356.2,2851.2 1358.2,2851 C1360.2,2850.8 1362.2,2850.6 1364.2,2850.4 C1366.2,2850.2 1368.2,2850 1370.2,2849.8 C1372.2,2849.6 1374.2,2849.4 1376.2,2849.3 C1378.1,2849.1 1380.1,2848.9 1382.1,2848.7 C1384.1,2848.5 1386.1,2848.3 1388.1,2848.1 C1390.1,2847.9 1392.1,2847.7 1394.1,2847.5 C1396.1,2847.4 1398.1,2847.2 1400.1,2847 C1402.1,2846.8 1404.1,2846.6 1406.1,2846.4 C1408.1,2846.3 1410.1,2846.1 1412.1,2845.9 C1414.1,2845.7 1416.1,2845.5 1418.1,2845.4 C1420.1,2845.2 1422.1,2845 1424.1,2844.8 C1426.1,2844.6 1428.1,2844.5 1430.1,2844.3 C1432.1,2844.1 1434.1,2843.9 1436.1,2843.8 C1438,2843.6 1440,2843.4 1442,2843.2 C1444,2843.1 1446,2842.9 1448,2842.7 C1450,2842.6 1452,2842.4 1454,2842.2 C1456,2842 1458,2841.9 1460,2841.7 C1462,2841.5 1464,2841.4 1466,2841.2 C1468,2841 1470,2840.9 1472,2840.7 C1474,2840.5 1476,2840.4 1478,2840.2 C1480,2840 1482,2839.9 1484,2839.7 C1486,2839.6 1488,2839.4 1490,2839.2 C1492,2839.1 1494,2838.9 1496,2838.7 C1498,2838.6 1500,2838.4 1502,2838.3 C1504,2838.1 1506,2837.9 1508,2837.8 C1510,2837.6 1512,2837.5 1514,2837.3 C1516,2837.2 1518,2837 1520,2836.8 C1522,2836.7 1524,2836.5 1526,2836.4 C1528,2836.2 1530,2836.1 1532,2835.9 C1534,2835.8 1536,2835.6 1538,2835.4 C1540.1,2835.3 1542.1,2835.1 1544.1,2835 C1546.1,2834.8 1548.1,2834.7 1550.1,2834.5 C1552.1,2834.4 1554.1,2834.2 1556.1,2834.1 C1558.1,2833.9 1560.1,2833.8 1562.1,2833.6 C1564.1,2833.5 1566.1,2833.3 1568.1,2833.2 C1570.1,2833 1572.1,2832.9 1574.1,2832.7 C1576.1,2832.6 1578.1,2832.4 1580.1,2832.3 C1582.1,2832.1 1584.1,2832 1586.1,2831.8 C1588.1,2831.7 1590.1,2831.5 1592.2,2831.4 C1594.2,2831.2 1596.2,2831.1 1598.2,2830.9 C1600.2,2830.8 1602.2,2830.6 1604.2,2830.5 C1606.2,2830.3 1608.2,2830.2 1610.2,2830 C1612.2,2829.9 1614.2,2829.7 1616.2,2829.6 C1618.2,2829.5 1620.2,2829.3 1622.2,2829.2 C1624.2,2829 1626.3,2828.9 1628.3,2828.7 C1630.3,2828.6 1632.3,2828.4 1634.3,2828.3 C1636.3,2828.1 1638.3,2828 1640.3,2827.8 C1642.3,2827.7 1644.3,2827.6 1646.3,2827.4 C1648.3,2827.3 1650.4,2827.1 1652.4,2827 C1654.4,2826.8 1656.4,2826.7 1658.4,2826.5 C1660.4,2826.4 1662.4,2826.2 1664.4,2826.1 C1666.4,2825.9 1668.4,2825.8 1670.4,2825.7 C1672.5,2825.5 1674.5,2825.4 1676.5,2825.2 C1678.5,2825.1 1680.5,2824.9 1682.5,2824.8 C1684.5,2824.6 1686.5,2824.5 1688.5,2824.3 C1690.6,2824.2 1692.6,2824 1694.6,2823.9 C1696.6,2823.7 1698.6,2823.6 1700.6,2823.5 C1702.6,2823.3 1704.6,2823.2 1706.7,2823 C1708.7,2822.9 1710.7,2822.7 1712.7,2822.6 C1714.7,2822.4 1716.7,2822.3 1718.7,2822.1 C1720.7,2822 1722.8,2821.8 1724.8,2821.7 C1726.8,2821.5 1728.8,2821.4 1730.8,2821.2 C1732.8,2821.1 1734.8,2820.9 1736.9,2820.8 C1738.9,2820.6 1740.9,2820.5 1742.9,2820.3 C1744.9,2820.2 1746.9,2820 1749,2819.9 C1751,2819.7 1753,2819.6 1755,2819.4 C1757,2819.3 1759,2819.1 1761.1,2819 C1763.1,2818.8 1765.1,2818.7 1767.1,2818.5 C1769.1,2818.3 1771.1,2818.2 1773.2,2818 C1775.2,2817.9 1777.2,2817.7 1779.2,2817.6 C1781.2,2817.4 1783.2,2817.3 1785.3,2817.1 C1787.3,2816.9 1789.3,2816.8 1791.3,2816.6 C1793.3,2816.5 1795.4,2816.3 1797.4,2816.2 C1799.4,2816 1801.4,2815.8 1803.4,2815.7 C1805.5,2815.5 1808.5,2815.3 1809.5,2815.2" fill="none" stroke="#ff0000" stroke-width="9" stroke-linecap="round" stroke-linejoin="round" stroke-dasharray="38.3 51.6" stroke-dashoffset="88.4"/>
<path d="M370.6,3360.2 C370.9,3359.2 371.6,3356.4 372.1,3354.5 C372.7,3352.5 373.2,3350.6 373.7,3348.7 C374.2,3346.8 374.7,3344.9 375.2,3343 C375.7,3341 376.2,3339.1 376.7,3337.2 C377.2,3335.3 377.7,3333.3 378.2,3331.4 C378.7,3329.5 379.2,3327.6 379.7,3325.6 C380.2,3323.7 380.7,3321.8 381.2,3319.9 C381.7,3317.9 382.2,3316 382.7,3314.1 C383.2,3312.1 383.7,3310.2 384.2,3308.3 C384.7,3306.3 385.1,3304.4 385.6,3302.4 C386.1,3300.5 386.6,3298.6 387.1,3296.6 C387.6,3294.7 388.1,3292.7 388.5,3290.8 C389,3288.9 389.5,3286.9 390,3285 C390.5,3283 390.9,3281.1 391.4,3279.1 C391.9,3277.2 392.4,3275.3 392.8,3273.3 C393.3,3271.4 393.8,3269.4 394.3,3267.5 C394.7,3265.5 395.2,3263.6 395.7,3261.6 C396.2,3259.7 396.6,3257.7 397.1,3255.8 C397.6,3253.8 398.1,3251.9 398.5,3249.9 C399,3247.9 399.5,3246 399.9,3244 C400.4,3242.1 400.9,3240.1 401.4,3238.2 C401.8,3236.2 402.3,3234.3 402.8,3232.3 C403.2,3230.4 403.7,3228.4 404.2,3226.4 C404.7,3224.5 405.1,3222.5 405.6,3220.6 C406.1,3218.6 406.5,3216.6 407,3214.7 C407.5,3212.7 408,3210.8 408.4,3208.8 C408.9,3206.9 409.4,3204.9 409.8,3202.9 C410.3,3201 410.8,3199 411.3,3197.1 C411.7,3195.1 412.2,3193.1 412.7,3191.2 C413.2,3189.2 413.6,3187.2 414.1,3185.3 C414.6,3183.3 415.1,3181.4 415.5,3179.4 C416,3177.4 416.5,3175.5 417,3173.5 C417.4,3171.6 417.9,3169.6 418.4,3167.6 C418.9,3165.7 419.4,3163.7 419.9,3161.8 C420.3,3159.8 420.8,3157.8 421.3,3155.9 C421.8,3153.9 422.3,3151.9 422.8,3150 C423.2,3148 423.7,3146.1 424.2,3144.1 C424.7,3142.1 425.2,3140.2 425.7,3138.2 C426.2,3136.3 426.7,3134.3 427.2,3132.3 C427.7,3130.4 428.2,3128.4 428.7,3126.5 C429.2,3124.5 429.7,3122.6 430.2,3120.6 C430.7,3118.6 431.2,3116.7 431.7,3114.7 C432.2,3112.8 432.7,3110.8 433.2,3108.9 C433.7,3106.9 434.2,3105 434.7,3103 C435.2,3101 435.8,3099.1 436.3,3097.1 C436.8,3095.2 437.3,3093.2 437.8,3091.3 C438.3,3089.3 438.9,3087.4 439.4,3085.4 C439.9,3083.5 440.5,3081.5 441,3079.6 C441.5,3077.6 442,3075.7 442.6,3073.7 C443.1,3071.8 443.6,3069.8 444.2,3067.9 C444.7,3066 445.3,3064 445.8,3062.1 C446.4,3060.1 446.9,3058.2 447.5,3056.2 C448,3054.3 448.6,3052.4 449.1,3050.4 C449.7,3048.5 450.2,3046.5 450.8,3044.6 C451.4,3042.7 451.9,3040.7 452.5,3038.8 C453.1,3036.9 453.6,3034.9 454.2,3033 C454.8,3031.1 455.3,3029.1 455.9,3027.2 C456.5,3025.3 457.1,3023.3 457.7,3021.4 C458.3,3019.5 458.9,3017.5 459.4,3015.6 C460,3013.7 460.6,3011.8 461.2,3009.8 C461.8,3007.9 462.4,3006 463,3004.1 C463.7,3002.2 464.3,3000.2 464.9,2998.3 C465.5,2996.4 466.1,2994.5 466.7,2992.6 C467.3,2990.7 468,2988.8 468.6,2986.8 C469.2,2984.9 469.9,2983 470.5,2981.1 C471.1,2979.2 471.8,2977.3 472.4,2975.4 C473.1,2973.5 473.7,2971.6 474.4,2969.7 C475,2967.8 475.7,2965.9 476.3,2964 C477,2962.1 477.7,2960.2 478.3,2958.3 C479,2956.4 479.7,2954.5 480.4,2952.6 C481,2950.7 481.7,2948.9 482.4,2947 C483.1,2945.1 483.8,2943.2 484.5,2941.3 C485.2,2939.4 485.9,2937.5 486.6,2935.7 C487.3,2933.8 488,2931.9 488.7,2930 C489.4,2928.2 490.2,2926.3 490.9,2924.4 C491.6,2922.5 492.3,2920.7 493.1,2918.8 C493.8,2916.9 494.5,2915.1 495.3,2913.2 C496,2911.4 496.8,2909.5 497.5,2907.6 C498.3,2905.8 499.1,2903.9 499.8,2902.1 C500.6,2900.2 501.4,2898.4 502.1,2896.5 C502.9,2894.7 503.7,2892.8 504.5,2891 C505.3,2889.1 506.1,2887.3 506.9,2885.5 C507.7,2883.6 508.5,2881.8 509.3,2880 C510.1,2878.1 510.9,2876.3 511.7,2874.5 C512.5,2872.6 513.4,2870.8 514.2,2869 C515,2867.2 515.9,2865.3 516.7,2863.5 C517.5,2861.7 518.4,2859.9 519.3,2858.1 C520.1,2856.3 521,2854.5 521.8,2852.7 C522.7,2850.8 523.6,2849 524.5,2847.2 C525.3,2845.4 526.2,2843.6 527.1,2841.8 C528,2840 528.9,2838.3 529.8,2836.5 C530.7,2834.7 531.6,2832.9 532.5,2831.1 C533.5,2829.3 534.4,2827.5 535.3,2825.8 C536.2,2824 537.2,2822.2 538.1,2820.4 C539.1,2818.7 540,2816.9 541,2815.1 C541.9,2813.4 542.9,2811.6 543.8,2809.8 C544.8,2808.1 545.8,2806.3 546.8,2804.6 C547.7,2802.8 548.7,2801.1 549.7,2799.3 C550.7,2797.6 551.7,2795.8 552.7,2794.1 C553.7,2792.4 554.7,2790.6 555.7,2788.9 C556.7,2787.2 557.8,2785.4 558.8,2783.7 C559.8,2782 560.9,2780.3 561.9,2778.6 C562.9,2776.8 564,2775.1 565,2773.4 C566.1,2771.7 567.1,2770 568.2,2768.3 C569.3,2766.6 570.3,2764.9 571.4,2763.2 C572.5,2761.5 573.6,2759.8 574.7,2758.1 C575.7,2756.4 577.4,2753.9 577.9,2753.1" fill="none" stroke="#0000ff" stroke-width="9" stroke-linecap="round" stroke-linejoin="round" stroke-dasharray="38.3 51.6" stroke-dashoffset="89.1"/>
<path d="M577.9,2753.1 C578.5,2752.3 580.1,2749.7 581.2,2748.1 C582.4,2746.4 583.5,2744.7 584.6,2743.1 C585.7,2741.4 586.8,2739.8 588,2738.1 C589.1,2736.4 590.3,2734.8 591.4,2733.2 C592.5,2731.5 593.7,2729.9 594.9,2728.2 C596,2726.6 597.2,2725 598.3,2723.3 C599.5,2721.7 600.7,2720.1 601.9,2718.5 C603.1,2716.9 604.2,2715.3 605.4,2713.6 C606.6,2712 607.8,2710.4 609,2708.8 C610.2,2707.2 611.4,2705.6 612.7,2704.1 C613.9,2702.5 615.1,2700.9 616.3,2699.3 C617.6,2697.7 618.8,2696.1 620,2694.6 C621.3,2693 622.5,2691.4 623.8,2689.9 C625,2688.3 626.3,2686.8 627.5,2685.2 C628.8,2683.7 630.1,2682.1 631.3,2680.6 C632.6,2679 633.9,2677.5 635.2,2676 C636.5,2674.5 637.7,2672.9 639,2671.4 C640.3,2669.9 641.6,2668.4 642.9,2666.9 C644.3,2665.4 645.6,2663.9 646.9,2662.4 C648.2,2660.9 649.5,2659.4 650.9,2657.9 C652.2,2656.4 653.5,2654.9 654.9,2653.5 C656.2,2652 657.6,2650.5 658.9,2649 C660.3,2647.6 661.6,2646.1 663,2644.7 C664.4,2643.2 665.7,2641.8 667.1,2640.3 C668.5,2638.9 669.9,2637.5 671.2,2636 C672.6,2634.6 674,2633.2 675.4,2631.8 C676.8,2630.3 678.2,2628.9 679.6,2627.5 C681,2626.1 682.4,2624.7 683.9,2623.3 C685.3,2621.9 686.7,2620.5 688.1,2619.2 C689.6,2617.8 691,2616.4 692.4,2615 C693.9,2613.7 695.3,2612.3 696.8,2611 C698.2,2609.6 699.7,2608.2 701.2,2606.9 C702.6,2605.6 704.1,2604.2 705.6,2602.9 C707,2601.6 708.5,2600.2 710,2598.9 C711.5,2597.6 713,2596.3 714.5,2595 C716,2593.7 717.5,2592.4 719,2591.1 C720.5,2589.8 722,2588.5 723.5,2587.2 C725,2586 726.5,2584.7 728.1,2583.4 C729.6,2582.2 731.1,2580.9 732.7,2579.7 C734.2,2578.4 735.8,2577.2 737.3,2575.9 C738.9,2574.7 740.4,2573.5 742,2572.2 C743.5,2571 745.1,2569.8 746.7,2568.6 C748.2,2567.4 749.8,2566.2 751.4,2565 C753,2563.8 754.6,2562.6 756.2,2561.4 C757.7,2560.2 759.3,2559.1 760.9,2557.9 C762.5,2556.7 764.1,2555.6 765.8,2554.4 C767.4,2553.3 769,2552.1 770.6,2551 C772.2,2549.9 773.9,2548.7 775.5,2547.6 C777.1,2546.5 778.8,2545.4 780.4,2544.3 C782.1,2543.2 783.7,2542.1 785.4,2541 C787,2539.9 788.7,2538.8 790.3,2537.7 C792,2536.6 793.7,2535.6 795.3,2534.5 C797,2533.5 798.7,2532.4 800.4,2531.4 C802.1,2530.3 803.8,2529.3 805.5,2528.3 C807.1,2527.2 808.8,2526.2 810.6,2525.2 C812.3,2524.2 814,2523.2 815.7,2522.2 C817.4,2521.2 819.1,2520.2 820.8,2519.2 C822.6,2518.2 824.3,2517.3 826,2516.3 C827.8,2515.3 829.5,2514.4 831.3,2513.4 C833,2512.5 834.8,2511.5 836.5,2510.6 C838.3,2509.7 840,2508.8 841.8,2507.8 C843.6,2506.9 845.3,2506 847.1,2505.1 C848.9,2504.2 850.7,2503.3 852.4,2502.4 C854.2,2501.6 856,2500.7 857.8,2499.8 C859.6,2499 861.4,2498.1 863.2,2497.2 C865,2496.4 866.8,2495.5 868.6,2494.7 C870.4,2493.9 872.2,2493 874,2492.2 C875.9,2491.4 877.7,2490.6 879.5,2489.8 C881.3,2489 883.2,2488.2 885,2487.4 C886.8,2486.6 888.7,2485.8 890.5,2485 C892.4,2484.2 894.2,2483.5 896.1,2482.7 C897.9,2481.9 899.8,2481.2 901.6,2480.4 C903.5,2479.7 905.3,2478.9 907.2,2478.2 C909.1,2477.5 910.9,2476.7 912.8,2476 C914.7,2475.3 916.5,2474.6 918.4,2473.9 C920.3,2473.2 922.2,2472.5 924.1,2471.8 C926,2471.1 927.8,2470.4 929.7,2469.7 C931.6,2469 933.5,2468.4 935.4,2467.7 C937.3,2467 939.2,2466.4 941.1,2465.7 C943,2465.1 944.9,2464.4 946.8,2463.8 C948.8,2463.1 950.7,2462.5 952.6,2461.9 C954.5,2461.2 956.4,2460.6 958.3,2460 C960.3,2459.4 962.2,2458.8 964.1,2458.2 C966,2457.6 968,2457 969.9,2456.4 C971.8,2455.8 973.8,2455.2 975.7,2454.7 C977.6,2454.1 979.6,2453.5 981.5,2452.9 C983.5,2452.4 985.4,2451.8 987.4,2451.3 C989.3,2450.7 991.2,2450.2 993.2,2449.6 C995.1,2449.1 997.1,2448.6 999.1,2448 C1001,2447.5 1003,2447 1004.9,2446.5 C1006.9,2445.9 1008.8,2445.4 1010.8,2444.9 C1012.8,2444.4 1014.7,2443.9 1016.7,2443.4 C1018.7,2442.9 1020.6,2442.4 1022.6,2442 C1024.6,2441.5 1026.6,2441 1028.5,2440.5 C1030.5,2440 1032.5,2439.6 1034.4,2439.1 C1036.4,2438.7 1038.4,2438.2 1040.4,2437.8 C1042.4,2437.3 1044.3,2436.9 1046.3,2436.4 C1048.3,2436 1050.3,2435.5 1052.3,2435.1 C1054.3,2434.7 1056.2,2434.3 1058.2,2433.8 C1060.2,2433.4 1062.2,2433 1064.2,2432.6 C1066.2,2432.2 1068.2,2431.8 1070.2,2431.4 C1072.2,2431 1074.1,2430.6 1076.1,2430.2 C1078.1,2429.8 1080.1,2429.4 1082.1,2429 C1084.1,2428.7 1086.1,2428.3 1088.1,2427.9 C1090.1,2427.6 1092.1,2427.2 1094.1,2426.8 C1096.1,2426.5 1098.1,2426.1 1100.1,2425.8 C1102.1,2425.4 1104.1,2425.1 1106.1,2424.7 C1108.1,2424.4 1110.1,2424 1112.1,2423.7 C1114.1,2423.4 1116.1,2423 1118.1,2422.7 C1120.1,2422.4 1122.1,2422.1 1124.1,2421.8 C1126.1,2421.4 1128.1,2421.1 1130.1,2420.8 C1132.1,2420.5 1134.1,2420.2 1136.1,2419.9 C1138.1,2419.6 1140.1,2419.3 1142.2,2419 C1144.2,2418.7 1146.2,2418.4 1148.2,2418.2 C1150.2,2417.9 1152.2,2417.6 1154.2,2417.3 C1156.2,2417.1 1158.2,2416.8 1160.2,2416.5 C1162.2,2416.2 1164.2,2416 1166.2,2415.7 C1168.3,2415.5 1170.3,2415.2 1172.3,2415 C1174.3,2414.7 1176.3,2414.5 1178.3,2414.2 C1180.3,2414 1182.3,2413.7 1184.3,2413.5 C1186.4,2413.3 1188.4,2413 1190.4,2412.8 C1192.4,2412.6 1194.4,2412.3 1196.4,2412.1 C1198.4,2411.9 1200.4,2411.7 1202.4,2411.5 C1204.5,2411.2 1206.5,2411 1208.5,2410.8 C1210.5,2410.6 1212.5,2410.4 1214.5,2410.2 C1216.5,2410 1218.5,2409.8 1220.6,2409.6 C1222.6,2409.4 1224.6,2409.2 1226.6,2409 C1228.6,2408.8 1230.6,2408.6 1232.6,2408.5 C1234.7,2408.3 1236.7,2408.1 1238.7,2407.9 C1240.7,2407.7 1242.7,2407.6 1244.7,2407.4 C1246.7,2407.2 1248.7,2407.1 1250.8,2406.9 C1252.8,2406.7 1254.8,2406.6 1256.8,2406.4 C1258.8,2406.2 1260.8,2406.1 1262.8,2405.9 C1264.8,2405.8 1266.9,2405.6 1268.9,2405.5 C1270.9,2405.3 1272.9,2405.2 1274.9,2405 C1276.9,2404.9 1278.9,2404.7 1280.9,2404.6 C1282.9,2404.5 1285,2404.3 1287,2404.2 C1289,2404 1291,2403.9 1293,2403.8 C1295,2403.6 1297,2403.5 1299,2403.4 C1301,2403.3 1303,2403.1 1305.1,2403 C1307.1,2402.9 1309.1,2402.8 1311.1,2402.7 C1313.1,2402.6 1315.1,2402.4 1317.1,2402.3 C1319.1,2402.2 1321.1,2402.1 1323.1,2402 C1325.1,2401.9 1327.1,2401.8 1329.1,2401.7 C1331.1,2401.6 1333.2,2401.5 1335.2,2401.4 C1337.2,2401.3 1339.2,2401.2 1341.2,2401.1 C1343.2,2401 1345.2,2400.9 1347.2,2400.8 C1349.2,2400.7 1351.2,2400.6 1353.2,2400.5 C1355.2,2400.4 1357.2,2400.3 1359.2,2400.3 C1361.2,2400.2 1363.2,2400.1 1365.2,2400 C1367.2,2399.9 1369.2,2399.9 1371.2,2399.8 C1373.2,2399.7 1375.2,2399.6 1377.2,2399.6 C1379.2,2399.5 1381.2,2399.4 1383.2,2399.3 C1385.2,2399.3 1387.2,2399.2 1389.2,2399.1 C1391.2,2399.1 1393.2,2399 1395.2,2399 C1397.2,2398.9 1399.2,2398.8 1401.2,2398.8 C1403.2,2398.7 1405.2,2398.7 1407.2,2398.6 C1409.2,2398.5 1411.2,2398.5 1413.2,2398.4 C1415.2,2398.4 1417.2,2398.3 1419.2,2398.3 C1421.2,2398.2 1423.2,2398.2 1425.2,2398.2 C1427.2,2398.1 1429.2,2398.1 1431.2,2398 C1433.2,2398 1435.2,2397.9 1437.2,2397.9 C1439.2,2397.9 1441.2,2397.8 1443.2,2397.8 C1445.2,2397.8 1447.2,2397.7 1449.2,2397.7 C1451.2,2397.7 1453.2,2397.6 1455.2,2397.6 C1457.2,2397.6 1459.2,2397.5 1461.2,2397.5 C1463.2,2397.5 1465.2,2397.5 1467.2,2397.4 C1469.1,2397.4 1471.1,2397.4 1473.1,2397.4 C1475.1,2397.3 1477.1,2397.3 1479.1,2397.3 C1481.1,2397.3 1483.1,2397.3 1485.1,2397.3 C1487.1,2397.2 1489.1,2397.2 1491.1,2397.2 C1493.1,2397.2 1495.1,2397.2 1497.1,2397.2 C1499.1,2397.2 1501.1,2397.2 1503.1,2397.1 C1505.1,2397.1 1507.1,2397.1 1509.1,2397.1 C1511.1,2397.1 1513.1,2397.1 1515.1,2397.1 C1517,2397.1 1519,2397.1 1521,2397.1 C1523,2397.1 1525,2397.1 1527,2397.1 C1529,2397.1 1531,2397.1 1533,2397.1 C1535,2397.1 1537,2397.1 1539,2397.1 C1541,2397.1 1543,2397.1 1545,2397.1 C1547,2397.1 1549,2397.2 1551,2397.2 C1553,2397.2 1555,2397.2 1557,2397.2 C1559,2397.2 1561,2397.2 1562.9,2397.2 C1564.9,2397.2 1566.9,2397.3 1568.9,2397.3 C1570.9,2397.3 1572.9,2397.3 1574.9,2397.3 C1576.9,2397.3 1578.9,2397.4 1580.9,2397.4 C1582.9,2397.4 1584.9,2397.4 1586.9,2397.4 C1588.9,2397.5 1590.9,2397.5 1592.9,2397.5 C1594.9,2397.5 1596.9,2397.5 1598.9,2397.6 C1600.9,2397.6 1602.9,2397.6 1604.9,2397.6 C1606.9,2397.7 1608.9,2397.7 1610.9,2397.7 C1612.9,2397.7 1614.9,2397.8 1616.9,2397.8 C1618.9,2397.8 1620.9,2397.9 1622.9,2397.9 C1624.9,2397.9 1626.9,2397.9 1628.9,2398 C1630.9,2398 1632.9,2398 1634.9,2398.1 C1636.9,2398.1 1638.9,2398.1 1640.9,2398.2 C1642.9,2398.2 1644.8,2398.2 1646.8,2398.3 C1648.8,2398.3 1650.8,2398.3 1652.9,2398.4 C1654.9,2398.4 1656.9,2398.4 1658.9,2398.5 C1660.9,2398.5 1662.9,2398.5 1664.9,2398.6 C1666.9,2398.6 1668.9,2398.6 1670.9,2398.7 C1672.9,2398.7 1674.9,2398.8 1676.9,2398.8 C1678.9,2398.8 1680.9,2398.9 1682.9,2398.9 C1684.9,2398.9 1686.9,2399 1688.9,2399 C1690.9,2399.1 1692.9,2399.1 1694.9,2399.1 C1696.9,2399.2 1698.9,2399.2 1700.9,2399.3 C1702.9,2399.3 1704.9,2399.3 1706.9,2399.4 C1708.9,2399.4 1710.9,2399.5 1712.9,2399.5 C1714.9,2399.5 1716.9,2399.6 1719,2399.6 C1721,2399.7 1723,2399.7 1725,2399.8 C1727,2399.8 1729,2399.8 1731,2399.9 C1733,2399.9 1735,2400 1737,2400 C1739,2400 1741,2400.1 1743,2400.1 C1745.1,2400.2 1747.1,2400.2 1749.1,2400.3 C1751.1,2400.3 1753.1,2400.3 1755.1,2400.4 C1757.1,2400.4 1759.1,2400.5 1761.1,2400.5 C1763.2,2400.6 1765.2,2400.6 1767.2,2400.6 C1769.2,2400.7 1771.2,2400.7 1773.2,2400.8 C1775.2,2400.8 1777.2,2400.8 1779.3,2400.9 C1781.3,2400.9 1783.3,2401 1785.3,2401 C1787.3,2401.1 1789.3,2401.1 1791.3,2401.1 C1793.4,2401.2 1795.4,2401.2 1797.4,2401.3 C1799.4,2401.3 1801.4,2401.3 1803.4,2401.4 C1805.5,2401.4 1808.5,2401.5 1809.5,2401.5" fill="none" stroke="#0000ff" stroke-width="9" stroke-linecap="round" stroke-linejoin="round" stroke-dasharray="38.3 51.6" stroke-dashoffset="13.3"/>
<rect x="592.6" y="3261.6" width="36.5" height="36.5" fill="#fff" stroke="#000000" stroke-width="9.3"/>
<rect x="1790.8" y="3254.8" width="36.5" height="36.5" fill="#fff" stroke="#000000" stroke-width="9.3"/>
<circle cx="610.5" cy="2904" r="21.5" fill="#fff" stroke="#ff0000" stroke-width="9.6"/>
<circle cx="1809.5" cy="2815.2" r="21.5" fill="#fff" stroke="#ff0000" stroke-width="9.6"/>
<polygon points="370.8,3334 395,3376.2 346.6,3376.2" fill="#fff" stroke="#0000ff" stroke-width="8.9" stroke-linejoin="miter"/>
<polygon points="610.9,2356.8 635.2,2399.4 586.6,2399.4" fill="#fff" stroke="#0000ff" stroke-width="8.9" stroke-linejoin="miter"/>
<polygon points="1809.4,2374.2 1833.6,2416.5 1785.2,2416.5" fill="#fff" stroke="#0000ff" stroke-width="8.9" stroke-linejoin="miter"/>
<rect x="314.1" y="2744.2" width="1612.5" height="23.8" fill="#fff"/>
<line x1="370.6" y1="3409.3" x2="370.6" y2="3436.3" stroke="#000000" stroke-width="5" stroke-linecap="butt"/>
<line x1="370.6" y1="2105.2" x2="370.6" y2="2132.2" stroke="#000000" stroke-width="5" stroke-linecap="butt"/>
<line x1="490.5" y1="3409.3" x2="490.5" y2="3422.8" stroke="#000000" stroke-width="5" stroke-linecap="butt"/>
<line x1="490.5" y1="2105.2" x2="490.5" y2="2118.7" stroke="#000000" stroke-width="5" stroke-linecap="butt"/>
<line x1="610.5" y1="3409.3" x2="610.5" y2="3436.3" stroke="#000000" stroke-width="5" stroke-linecap="butt"/>
<line x1="610.5" y1="2105.2" x2="610.5" y2="2132.2" stroke="#000000" stroke-width="5" stroke-linecap="butt"/>
<line x1="730.4" y1="3409.3" x2="730.4" y2="3422.8" stroke="#000000" stroke-width="5" stroke-linecap="butt"/>
<line x1="730.4" y1="2105.2" x2="730.4" y2="2118.7" stroke="#000000" stroke-width="5" stroke-linecap="butt"/>
<line x1="850.3" y1="3409.3" x2="850.3" y2="3436.3" stroke="#000000" stroke-width="5" stroke-linecap="butt"/>
<line x1="850.3" y1="2105.2" x2="850.3" y2="2132.2" stroke="#000000" stroke-width="5" stroke-linecap="butt"/>
<line x1="970.2" y1="3409.3" x2="970.2" y2="3422.8" stroke="#000000" stroke-width="5" stroke-linecap="butt"/>
<line x1="970.2" y1="2105.2" x2="970.2" y2="2118.7" stroke="#000000" stroke-width="5" stroke-linecap="butt"/>
<line x1="1090.2" y1="3409.3" x2="1090.2" y2="3436.3" stroke="#000000" stroke-width="5" stroke-linecap="butt"/>
<line x1="1090.2" y1="2105.2" x2="1090.2" y2="2132.2" stroke="#000000" stroke-width="5" stroke-linecap="butt"/>
<line x1="1210.1" y1="3409.3" x2="1210.1" y2="3422.8" stroke="#000000" stroke-width="5" stroke-linecap="butt"/>
<line x1="1210.1" y1="2105.2" x2="1210.1" y2="2118.7" stroke="#000000" stroke-width="5" stroke-linecap="butt"/>
<line x1="1330" y1="3409.3" x2="1330" y2="3436.3" stroke="#000000" stroke-width="5" stroke-linecap="butt"/>
<line x1="1330" y1="2105.2" x2="1330" y2="2132.2" stroke="#000000" stroke-width="5" stroke-linecap="butt"/>
<line x1="1450" y1="3409.3" x2="1450" y2="3422.8" stroke="#000000" stroke-width="5" stroke-linecap="butt"/>
<line x1="1450" y1="2105.2" x2="1450" y2="2118.7" stroke="#000000" stroke-width="5" stroke-linecap="butt"/>
<line x1="1569.9" y1="3409.3" x2="1569.9" y2="3436.3" stroke="#000000" stroke-width="5" stroke-linecap="butt"/>
<line x1="1569.9" y1="2105.2" x2="1569.9" y2="2132.2" stroke="#000000" stroke-width="5" stroke-linecap="butt"/>
<line x1="1689.8" y1="3409.3" x2="1689.8" y2="3422.8" stroke="#000000" stroke-width="5" stroke-linecap="butt"/>
<line x1="1689.8" y1="2105.2" x2="1689.8" y2="2118.7" stroke="#000000" stroke-width="5" stroke-linecap="butt"/>
<line x1="1809.8" y1="3409.3" x2="1809.8" y2="3436.3" stroke="#000000" stroke-width="5" stroke-linecap="butt"/>
<line x1="1809.8" y1="2105.2" x2="1809.8" y2="2132.2" stroke="#000000" stroke-width="5" stroke-linecap="butt"/>
<line x1="1929.7" y1="3409.3" x2="1929.7" y2="3422.8" stroke="#000000" stroke-width="5" stroke-linecap="butt"/>
<line x1="1929.7" y1="2105.2" x2="1929.7" y2="2118.7" stroke="#000000" stroke-width="5" stroke-linecap="butt"/>
<line x1="284.5" y1="3360.2" x2="311.5" y2="3360.2" stroke="#000000" stroke-width="5" stroke-linecap="butt"/>
<line x1="1902.2" y1="3360.2" x2="1929.2" y2="3360.2" stroke="#000000" stroke-width="5" stroke-linecap="butt"/>
<line x1="298" y1="3263.4" x2="311.5" y2="3263.4" stroke="#000000" stroke-width="5" stroke-linecap="butt"/>
<line x1="1915.7" y1="3263.4" x2="1929.2" y2="3263.4" stroke="#000000" stroke-width="5" stroke-linecap="butt"/>
<line x1="284.5" y1="3166.6" x2="311.5" y2="3166.6" stroke="#000000" stroke-width="5" stroke-linecap="butt"/>
<line x1="1902.2" y1="3166.6" x2="1929.2" y2="3166.6" stroke="#000000" stroke-width="5" stroke-linecap="butt"/>
<line x1="298" y1="3069.8" x2="311.5" y2="3069.8" stroke="#000000" stroke-width="5" stroke-linecap="butt"/>
<line x1="1915.7" y1="3069.8" x2="1929.2" y2="3069.8" stroke="#000000" stroke-width="5" stroke-linecap="butt"/>
<line x1="284.5" y1="2973" x2="311.5" y2="2973" stroke="#000000" stroke-width="5" stroke-linecap="butt"/>
<line x1="1902.2" y1="2973" x2="1929.2" y2="2973" stroke="#000000" stroke-width="5" stroke-linecap="butt"/>
<line x1="298" y1="2876.2" x2="311.5" y2="2876.2" stroke="#000000" stroke-width="5" stroke-linecap="butt"/>
<line x1="1915.7" y1="2876.2" x2="1929.2" y2="2876.2" stroke="#000000" stroke-width="5" stroke-linecap="butt"/>
<line x1="284.5" y1="2779.4" x2="311.5" y2="2779.4" stroke="#000000" stroke-width="5" stroke-linecap="butt"/>
<line x1="1902.2" y1="2779.4" x2="1929.2" y2="2779.4" stroke="#000000" stroke-width="5" stroke-linecap="butt"/>
<line x1="298" y1="2640.2" x2="311.5" y2="2640.2" stroke="#000000" stroke-width="5" stroke-linecap="butt"/>
<line x1="1915.7" y1="2640.2" x2="1929.2" y2="2640.2" stroke="#000000" stroke-width="5" stroke-linecap="butt"/>
<line x1="284.5" y1="2533.1" x2="311.5" y2="2533.1" stroke="#000000" stroke-width="5" stroke-linecap="butt"/>
<line x1="1902.2" y1="2533.1" x2="1929.2" y2="2533.1" stroke="#000000" stroke-width="5" stroke-linecap="butt"/>
<line x1="298" y1="2426" x2="311.5" y2="2426" stroke="#000000" stroke-width="5" stroke-linecap="butt"/>
<line x1="1915.7" y1="2426" x2="1929.2" y2="2426" stroke="#000000" stroke-width="5" stroke-linecap="butt"/>
<line x1="284.5" y1="2319" x2="311.5" y2="2319" stroke="#000000" stroke-width="5" stroke-linecap="butt"/>
<line x1="1902.2" y1="2319" x2="1929.2" y2="2319" stroke="#000000" stroke-width="5" stroke-linecap="butt"/>
<line x1="298" y1="2211.9" x2="311.5" y2="2211.9" stroke="#000000" stroke-width="5" stroke-linecap="butt"/>
<line x1="1915.7" y1="2211.9" x2="1929.2" y2="2211.9" stroke="#000000" stroke-width="5" stroke-linecap="butt"/>
<line x1="284.5" y1="2104.9" x2="311.5" y2="2104.9" stroke="#000000" stroke-width="5" stroke-linecap="butt"/>
<line x1="1902.2" y1="2104.9" x2="1929.2" y2="2104.9" stroke="#000000" stroke-width="5" stroke-linecap="butt"/>
<line x1="309" y1="2105.2" x2="1931.7" y2="2105.2" stroke="#000000" stroke-width="5" stroke-linecap="butt"/>
<line x1="309" y1="3409.3" x2="1931.7" y2="3409.3" stroke="#000000" stroke-width="5" stroke-linecap="butt"/>
<line x1="311.5" y1="2105.2" x2="311.5" y2="2745.5" stroke="#000000" stroke-width="5" stroke-linecap="butt"/>
<line x1="311.5" y1="2769.5" x2="311.5" y2="3409.3" stroke="#000000" stroke-width="5" stroke-linecap="butt"/>
<line x1="1929.2" y1="2105.2" x2="1929.2" y2="2745.5" stroke="#000000" stroke-width="5" stroke-linecap="butt"/>
<line x1="1929.2" y1="2769.5" x2="1929.2" y2="3409.3" stroke="#000000" stroke-width="5" stroke-linecap="butt"/>
<text transform="translate(268.6,3377) scale(1,1.04)" font-size="56" text-anchor="end" font-family="'Liberation Sans', Arial, sans-serif" font-weight="normal">0</text>
<text transform="translate(268.6,3183.4) scale(1,1.04)" font-size="56" text-anchor="end" font-family="'Liberation Sans', Arial, sans-serif" font-weight="normal">200</text>
<text transform="translate(268.6,2989.8) scale(1,1.04)" font-size="56" text-anchor="end" font-family="'Liberation Sans', Arial, sans-serif" font-weight="normal">400</text>
<text transform="translate(268.6,2796.2) scale(1,1.04)" font-size="56" text-anchor="end" font-family="'Liberation Sans', Arial, sans-serif" font-weight="normal">600</text>
<text transform="translate(268.6,2549.9) scale(1,1.04)" font-size="56" text-anchor="end" font-family="'Liberation Sans', Arial, sans-serif" font-weight="normal">1800</text>
<text transform="translate(268.6,2335.8) scale(1,1.04)" font-size="56" text-anchor="end" font-family="'Liberation Sans', Arial, sans-serif" font-weight="normal">2000</text>
<text transform="translate(268.6,2121.7) scale(1,1.04)" font-size="56" text-anchor="end" font-family="'Liberation Sans', Arial, sans-serif" font-weight="normal">2200</text>
<text transform="translate(370.6,3495.5) scale(1,1.04)" font-size="56" text-anchor="middle" font-family="'Liberation Sans', Arial, sans-serif" font-weight="normal">0</text>
<text transform="translate(610.5,3495.5) scale(1,1.04)" font-size="56" text-anchor="middle" font-family="'Liberation Sans', Arial, sans-serif" font-weight="normal">20</text>
<text transform="translate(850.3,3495.5) scale(1,1.04)" font-size="56" text-anchor="middle" font-family="'Liberation Sans', Arial, sans-serif" font-weight="normal">40</text>
<text transform="translate(1090.2,3495.5) scale(1,1.04)" font-size="56" text-anchor="middle" font-family="'Liberation Sans', Arial, sans-serif" font-weight="normal">60</text>
<text transform="translate(1330,3495.5) scale(1,1.04)" font-size="56" text-anchor="middle" font-family="'Liberation Sans', Arial, sans-serif" font-weight="normal">80</text>
<text transform="translate(1569.9,3495.5) scale(1,1.04)" font-size="56" text-anchor="middle" font-family="'Liberation Sans', Arial, sans-serif" font-weight="normal">100</text>
<text transform="translate(1809.8,3495.5) scale(1,1.04)" font-size="56" text-anchor="middle" font-family="'Liberation Sans', Arial, sans-serif" font-weight="normal">120</text>
<text transform="translate(1121.4,3608.9) scale(1,1.04)" font-size="77.4" text-anchor="middle" font-family="'Liberation Sans', Arial, sans-serif" font-weight="normal">Treatment time (s)</text>
<text x="984" y="3747.4" font-size="86" text-anchor="middle" font-family="'Liberation Serif', 'Times New Roman', serif">(<tspan font-weight="bold">b</tspan>)</text>
<text transform="translate(95.6,0) rotate(-90) scale(1,1.035)" x="-3257" y="0" font-size="77.3" text-anchor="start" font-family="'Liberation Sans', Arial, sans-serif">Relative variation of</text>
<text transform="translate(95.6,0) rotate(-90) scale(1,1.035)" x="-2542" y="0" font-size="77.3" text-anchor="middle" font-family="'Liberation Serif', 'Times New Roman', serif">γ</text>
<text transform="translate(95.6,0) rotate(-90) scale(1,1.035)" x="-2515" y="26.9" font-size="46" text-anchor="middle" font-family="'Liberation Sans', Arial, sans-serif">s</text>
<text transform="translate(95.6,0) rotate(-90) scale(1,1.035)" x="-2489.3" y="-38.2" font-size="46" text-anchor="middle" font-family="'Liberation Sans', Arial, sans-serif">p</text>
<text transform="translate(95.6,0) rotate(-90) scale(1,1.035)" x="-2466" y="0" font-size="77.3" text-anchor="middle" font-family="'Liberation Sans', Arial, sans-serif">/</text>
<text transform="translate(95.6,0) rotate(-90) scale(1,1.035)" x="-2439.5" y="0" font-size="77.3" text-anchor="middle" font-family="'Liberation Serif', 'Times New Roman', serif">γ</text>
<text transform="translate(95.6,0) rotate(-90) scale(1,1.035)" x="-2411.7" y="26.9" font-size="46" text-anchor="middle" font-family="'Liberation Sans', Arial, sans-serif">s</text>
<text transform="translate(95.6,0) rotate(-90) scale(1,1.035)" x="-2318.6" y="0" font-size="77.3" text-anchor="middle" font-family="'Liberation Sans', Arial, sans-serif">(%)</text>
<line x1="284.5" y1="2757.9" x2="339.2" y2="2733.8" stroke="#000000" stroke-width="5" stroke-linecap="butt"/>
<line x1="284.5" y1="2780.4" x2="339.2" y2="2756.3" stroke="#000000" stroke-width="5" stroke-linecap="butt"/>
<line x1="1902.2" y1="2757.9" x2="1956.9" y2="2733.8" stroke="#000000" stroke-width="5" stroke-linecap="butt"/>
<line x1="1902.2" y1="2780.4" x2="1956.9" y2="2756.3" stroke="#000000" stroke-width="5" stroke-linecap="butt"/>
<rect x="723" y="1932" width="1089" height="343.5" fill="#000"/>
<rect x="705" y="1915" width="1088" height="341" fill="#fff" stroke="#000" stroke-width="2"/>
<text transform="translate(713.7,1984) scale(1,1.04)" font-size="67.4" text-anchor="start" font-family="'Liberation Sans', Arial, sans-serif" font-weight="normal">He-DBD Plasma</text>
<text transform="translate(1306,1983.9) scale(1,1.04)" font-size="67.4" text-anchor="start" font-family="'Liberation Sans', Arial, sans-serif" font-weight="normal">Ar-DBD Plasma</text>
<text transform="translate(883.9,2065.6) scale(1,1.04)" font-size="67.4" text-anchor="start" font-family="'Liberation Sans', Arial, sans-serif" font-weight="normal">Paper</text>
<text transform="translate(883.9,2149.6) scale(1,1.04)" font-size="67.4" text-anchor="start" font-family="'Liberation Sans', Arial, sans-serif" font-weight="normal">F-Paper</text>
<text transform="translate(883.9,2232.4) scale(1,1.04)" font-size="67.4" text-anchor="start" font-family="'Liberation Sans', Arial, sans-serif" font-weight="normal">PSU</text>
<text transform="translate(1460.9,2065.6) scale(1,1.04)" font-size="67.4" text-anchor="start" font-family="'Liberation Sans', Arial, sans-serif" font-weight="normal">Paper</text>
<text transform="translate(1467.9,2149.6) scale(1,1.04)" font-size="67.4" text-anchor="start" font-family="'Liberation Sans', Arial, sans-serif" font-weight="normal">F-Paper</text>
<text transform="translate(1475.8,2232.4) scale(1,1.04)" font-size="67.4" text-anchor="start" font-family="'Liberation Sans', Arial, sans-serif" font-weight="normal">PSU</text>
<line x1="714.1" y1="2043.8" x2="755" y2="2043.8" stroke="#000000" stroke-width="5.4" stroke-linecap="round"/>
<line x1="824.4" y1="2043.8" x2="866.2" y2="2043.8" stroke="#000000" stroke-width="5.4" stroke-linecap="round"/>
<rect x="766.2" y="2020.7" width="46.6" height="46.6" fill="#000000"/>
<line x1="713.7" y1="2127.4" x2="755.3" y2="2127.4" stroke="#ff0000" stroke-width="8.9" stroke-linecap="round"/>
<line x1="824.5" y1="2127.4" x2="865.3" y2="2127.4" stroke="#ff0000" stroke-width="8.9" stroke-linecap="round"/>
<circle cx="789.5" cy="2127.4" r="26.5" fill="#ff0000"/>
<line x1="713.7" y1="2210.2" x2="755.3" y2="2210.2" stroke="#0000ff" stroke-width="8.9" stroke-linecap="round"/>
<line x1="824.5" y1="2210.2" x2="865.3" y2="2210.2" stroke="#0000ff" stroke-width="8.9" stroke-linecap="round"/>
<polygon points="789.5,2178.1 818.8,2229.5 760.2,2229.5" fill="#0000ff" stroke="#0000ff" stroke-width="3" stroke-linejoin="round"/>
<line x1="1310" y1="2043.7" x2="1347.8" y2="2043.7" stroke="#000000" stroke-width="8.9" stroke-linecap="round"/>
<line x1="1420.7" y1="2043.7" x2="1458.2" y2="2043.7" stroke="#000000" stroke-width="8.9" stroke-linecap="round"/>
<rect x="1366.3" y="2025.1" width="37.3" height="37.3" fill="#fff" stroke="#000000" stroke-width="8.3"/>
<line x1="1316.5" y1="2127.6" x2="1355.5" y2="2127.6" stroke="#ff0000" stroke-width="8.9" stroke-linecap="round"/>
<line x1="1427.7" y1="2127.6" x2="1466.3" y2="2127.6" stroke="#ff0000" stroke-width="8.9" stroke-linecap="round"/>
<circle cx="1391.8" cy="2127.4" r="21.6" fill="#fff" stroke="#ff0000" stroke-width="8.6"/>
<line x1="1324.2" y1="2210.9" x2="1363.1" y2="2210.9" stroke="#0000ff" stroke-width="8.9" stroke-linecap="round"/>
<line x1="1435.8" y1="2210.9" x2="1474.5" y2="2210.9" stroke="#0000ff" stroke-width="8.9" stroke-linecap="round"/>
<polygon points="1400.4,2184.1 1424.4,2226.5 1376.4,2226.5" fill="#fff" stroke="#0000ff" stroke-width="8.6" stroke-linejoin="miter"/>
</svg>
</body></html>
